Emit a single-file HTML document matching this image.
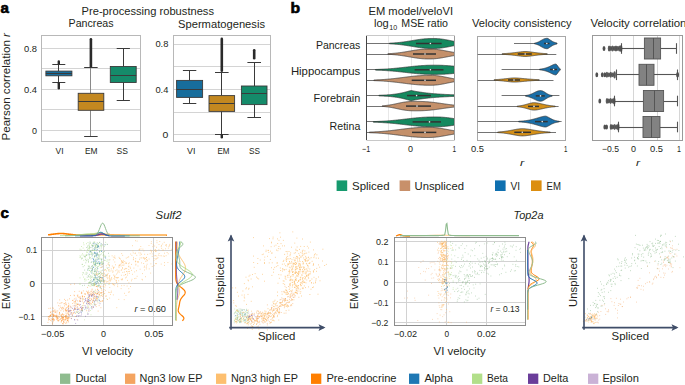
<!DOCTYPE html>
<html><head><meta charset="utf-8"><style>
html,body{margin:0;padding:0;background:#fff;width:685px;height:385px;overflow:hidden}
svg{display:block;font-family:"Liberation Sans",sans-serif}
</style></head><body>
<svg width="685" height="385" viewBox="0 0 685 385">
<defs><clipPath id="cb1"><rect x="366.4" y="35.9" width="88.3" height="104.1"/></clipPath></defs>
<rect width="685" height="385" fill="#fff"/>
<text x="0.5" y="12.9" font-size="14.5" textLength="8.4" lengthAdjust="spacingAndGlyphs" fill="#000" font-weight="bold" stroke="#000" stroke-width="0.6">a</text>
<text x="290.6" y="13" font-size="14.5" textLength="9.6" lengthAdjust="spacingAndGlyphs" fill="#000" font-weight="bold" stroke="#000" stroke-width="0.6">b</text>
<text x="0.5" y="217.7" font-size="14.5" textLength="8.4" lengthAdjust="spacingAndGlyphs" fill="#000" font-weight="bold" stroke="#000" stroke-width="0.6">c</text>
<text x="81.6" y="15" font-size="10.2" textLength="132.4" lengthAdjust="spacingAndGlyphs" fill="#231f20" >Pre-processing robustness</text>
<text x="68.6" y="27.4" font-size="10.2" textLength="45" lengthAdjust="spacingAndGlyphs" fill="#231f20" >Pancreas</text>
<text x="178" y="27.6" font-size="10.2" textLength="87" lengthAdjust="spacingAndGlyphs" fill="#231f20" >Spermatogenesis</text>
<text transform="translate(9.8,140.5) rotate(-90)" x="0" y="0" font-size="10.2" textLength="107.5" lengthAdjust="spacingAndGlyphs" fill="#231f20" >Pearson correlation <tspan font-style="italic">r</tspan></text>
<line x1="41.8" y1="48.5" x2="140.1" y2="48.5" stroke="#d4d4d4" stroke-width="1" />
<line x1="41.8" y1="68.5" x2="140.1" y2="68.5" stroke="#d4d4d4" stroke-width="1" />
<line x1="41.8" y1="89.5" x2="140.1" y2="89.5" stroke="#d4d4d4" stroke-width="1" />
<line x1="41.8" y1="109.5" x2="140.1" y2="109.5" stroke="#d4d4d4" stroke-width="1" />
<line x1="41.8" y1="130.5" x2="140.1" y2="130.5" stroke="#d4d4d4" stroke-width="1" />
<rect x="41.5" y="35.5" width="99" height="106" fill="none" stroke="#b8b8b8" stroke-width="1" />
<text x="24" y="51.5" font-size="9" textLength="13" lengthAdjust="spacingAndGlyphs" fill="#231f20" >0.8</text>
<text x="24" y="92.7" font-size="9" textLength="13" lengthAdjust="spacingAndGlyphs" fill="#231f20" >0.4</text>
<text x="32" y="133.9" font-size="9" textLength="5" lengthAdjust="spacingAndGlyphs" fill="#231f20" >0</text>
<line x1="58.5" y1="64.3" x2="58.5" y2="71.1" stroke="#3a3a3a" stroke-width="1" />
<line x1="58.5" y1="75.8" x2="58.5" y2="82.4" stroke="#3a3a3a" stroke-width="1" />
<line x1="52.3" y1="64.5" x2="65.3" y2="64.5" stroke="#3a3a3a" stroke-width="1" />
<line x1="52.3" y1="82.5" x2="65.3" y2="82.5" stroke="#3a3a3a" stroke-width="1" />
<rect x="45.9" y="71.1" width="26" height="4.7" fill="#176d9c" stroke="#3a3a3a" stroke-width="0.9" />
<line x1="45.9" y1="73.5" x2="71.9" y2="73.5" stroke="#3a3a3a" stroke-width="1" />
<rect x="57.6" y="60.2" width="2.4" height="4.3" fill="#2a2a2a" stroke="none" stroke-width="1" rx="1.2" ry="1.2"/>
<rect x="57.6" y="82" width="2.4" height="7.4" fill="#2a2a2a" stroke="none" stroke-width="1" rx="1.2" ry="1.2"/>
<line x1="90.5" y1="67.5" x2="90.5" y2="93.3" stroke="#8a8a8a" stroke-width="1" />
<line x1="90.5" y1="110.3" x2="90.5" y2="136.2" stroke="#8a8a8a" stroke-width="1" />
<line x1="84.15" y1="67.5" x2="97.65" y2="67.5" stroke="#3a3a3a" stroke-width="1" />
<line x1="84.15" y1="136.5" x2="97.65" y2="136.5" stroke="#3a3a3a" stroke-width="1" />
<rect x="78.2" y="93.3" width="25.6" height="17" fill="#c38820" stroke="#3a3a3a" stroke-width="0.9" />
<line x1="78.2" y1="101.5" x2="103.8" y2="101.5" stroke="#3a3a3a" stroke-width="1" />
<rect x="89.6" y="38" width="2.6" height="29.5" fill="#2a2a2a" stroke="none" stroke-width="1" rx="1.3" ry="1.3"/>
<line x1="123.5" y1="48.2" x2="123.5" y2="66.5" stroke="#3a3a3a" stroke-width="1" />
<line x1="123.5" y1="82.5" x2="123.5" y2="100.3" stroke="#3a3a3a" stroke-width="1" />
<line x1="116.7" y1="48.5" x2="129.9" y2="48.5" stroke="#3a3a3a" stroke-width="1" />
<line x1="116.7" y1="100.5" x2="129.9" y2="100.5" stroke="#3a3a3a" stroke-width="1" />
<rect x="110.3" y="66.5" width="25.9" height="16" fill="#158b6a" stroke="#3a3a3a" stroke-width="0.9" />
<line x1="110.3" y1="75.5" x2="136.2" y2="75.5" stroke="#3a3a3a" stroke-width="1" />
<text x="55.6" y="154" font-size="9" textLength="8" lengthAdjust="spacingAndGlyphs" fill="#231f20" >VI</text>
<text x="85" y="154" font-size="9" textLength="12.6" lengthAdjust="spacingAndGlyphs" fill="#231f20" >EM</text>
<text x="116.6" y="154" font-size="9" textLength="11.4" lengthAdjust="spacingAndGlyphs" fill="#231f20" >SS</text>
<text x="187" y="154" font-size="9" textLength="8.4" lengthAdjust="spacingAndGlyphs" fill="#231f20" >VI</text>
<text x="217.4" y="154" font-size="9" textLength="12" lengthAdjust="spacingAndGlyphs" fill="#231f20" >EM</text>
<text x="249" y="154" font-size="9" textLength="11" lengthAdjust="spacingAndGlyphs" fill="#231f20" >SS</text>
<line x1="173" y1="44.5" x2="270.6" y2="44.5" stroke="#d4d4d4" stroke-width="1" />
<line x1="173" y1="66.5" x2="270.6" y2="66.5" stroke="#d4d4d4" stroke-width="1" />
<line x1="173" y1="89.5" x2="270.6" y2="89.5" stroke="#d4d4d4" stroke-width="1" />
<line x1="173" y1="112.5" x2="270.6" y2="112.5" stroke="#d4d4d4" stroke-width="1" />
<line x1="173" y1="134.5" x2="270.6" y2="134.5" stroke="#d4d4d4" stroke-width="1" />
<rect x="173.5" y="35.5" width="97" height="106" fill="none" stroke="#b8b8b8" stroke-width="1" />
<text x="155.4" y="47.3" font-size="9" textLength="13" lengthAdjust="spacingAndGlyphs" fill="#231f20" >0.8</text>
<text x="155.4" y="92.7" font-size="9" textLength="13" lengthAdjust="spacingAndGlyphs" fill="#231f20" >0.4</text>
<text x="162.6" y="138.1" font-size="9" textLength="5.8" lengthAdjust="spacingAndGlyphs" fill="#231f20" >0</text>
<line x1="189.5" y1="70" x2="189.5" y2="80.4" stroke="#3a3a3a" stroke-width="1" />
<line x1="189.5" y1="97.4" x2="189.5" y2="103.2" stroke="#3a3a3a" stroke-width="1" />
<line x1="182.9" y1="70.5" x2="196.3" y2="70.5" stroke="#3a3a3a" stroke-width="1" />
<line x1="182.9" y1="103.5" x2="196.3" y2="103.5" stroke="#3a3a3a" stroke-width="1" />
<rect x="176.6" y="80.4" width="26" height="17" fill="#176d9c" stroke="#3a3a3a" stroke-width="0.9" />
<line x1="176.6" y1="89.5" x2="202.6" y2="89.5" stroke="#3a3a3a" stroke-width="1" />
<line x1="221.5" y1="72" x2="221.5" y2="95.6" stroke="#3a3a3a" stroke-width="1" />
<line x1="221.5" y1="111.4" x2="221.5" y2="134.4" stroke="#3a3a3a" stroke-width="1" />
<line x1="215" y1="72.5" x2="228.6" y2="72.5" stroke="#3a3a3a" stroke-width="1" />
<line x1="215" y1="134.5" x2="228.6" y2="134.5" stroke="#3a3a3a" stroke-width="1" />
<rect x="209" y="95.6" width="25.6" height="15.8" fill="#c38820" stroke="#3a3a3a" stroke-width="0.9" />
<line x1="209" y1="103.5" x2="234.6" y2="103.5" stroke="#3a3a3a" stroke-width="1" />
<rect x="220.5" y="37.6" width="2.6" height="34.4" fill="#2a2a2a" stroke="none" stroke-width="1" rx="1.3" ry="1.3"/>
<rect x="220.6" y="134" width="2.4" height="4.5" fill="#2a2a2a" stroke="none" stroke-width="1" rx="1.2" ry="1.2"/>
<line x1="254.5" y1="62" x2="254.5" y2="86" stroke="#3a3a3a" stroke-width="1" />
<line x1="254.5" y1="104.6" x2="254.5" y2="117.6" stroke="#3a3a3a" stroke-width="1" />
<line x1="247.4" y1="62.5" x2="261" y2="62.5" stroke="#3a3a3a" stroke-width="1" />
<line x1="247.4" y1="117.5" x2="261" y2="117.5" stroke="#3a3a3a" stroke-width="1" />
<rect x="241.4" y="86" width="25.6" height="18.6" fill="#158b6a" stroke="#3a3a3a" stroke-width="0.9" />
<line x1="241.4" y1="93.5" x2="267" y2="93.5" stroke="#3a3a3a" stroke-width="1" />
<rect x="252.9" y="49" width="2.6" height="10.5" fill="#2a2a2a" stroke="none" stroke-width="1" rx="1.3" ry="1.3"/>
<text x="368.5" y="14.6" font-size="10.2" textLength="84.5" lengthAdjust="spacingAndGlyphs" fill="#231f20" >EM model/veloVI</text>
<text x="374" y="27.2" font-size="10.2" textLength="14.8" lengthAdjust="spacingAndGlyphs" fill="#231f20" >log</text>
<text x="389.3" y="30.3" font-size="7" textLength="7.9" lengthAdjust="spacingAndGlyphs" fill="#231f20" >10</text>
<text x="401.3" y="27.2" font-size="10.2" textLength="46.7" lengthAdjust="spacingAndGlyphs" fill="#231f20" >MSE ratio</text>
<text x="472" y="27.4" font-size="10.2" textLength="99.6" lengthAdjust="spacingAndGlyphs" fill="#231f20" >Velocity consistency</text>
<text x="590.4" y="27.4" font-size="10.2" textLength="96.1" lengthAdjust="spacingAndGlyphs" fill="#231f20" >Velocity correlation</text>
<text x="315.9" y="49.1" font-size="10.5" textLength="44.4" lengthAdjust="spacingAndGlyphs" fill="#231f20" >Pancreas</text>
<text x="290.9" y="75.3" font-size="10.5" textLength="69.4" lengthAdjust="spacingAndGlyphs" fill="#231f20" >Hippocampus</text>
<text x="313.6" y="102.4" font-size="10.5" textLength="46.7" lengthAdjust="spacingAndGlyphs" fill="#231f20" >Forebrain</text>
<text x="329.6" y="129.6" font-size="10.5" textLength="30.7" lengthAdjust="spacingAndGlyphs" fill="#231f20" >Retina</text>
<line x1="388.5" y1="35.9" x2="388.5" y2="140" stroke="#e2e2e2" stroke-width="0.8" />
<line x1="411.5" y1="35.9" x2="411.5" y2="140" stroke="#e2e2e2" stroke-width="0.8" />
<line x1="433.5" y1="35.9" x2="433.5" y2="140" stroke="#e2e2e2" stroke-width="0.8" />
<g clip-path="url(#cb1)">
<line x1="366.4" y1="43.5" x2="454.7" y2="43.5" stroke="#505050" stroke-width="0.8" />
<polygon points="389.4,43.18 389.9,43.16 390.4,43.13 390.9,43.11 391.4,43.08 391.9,43.05 392.4,43.02 392.9,42.99 393.4,42.96 393.9,42.92 394.4,42.89 394.9,42.85 395.4,42.81 395.9,42.77 396.4,42.73 396.9,42.68 397.4,42.64 397.9,42.59 398.4,42.54 398.9,42.49 399.4,42.44 399.9,42.38 400.4,42.33 400.9,42.27 401.4,42.21 401.9,42.15 402.4,42.08 402.9,42.02 403.4,41.95 403.9,41.88 404.4,41.81 404.9,41.74 405.4,41.67 405.9,41.59 406.4,41.52 406.9,41.44 407.4,41.37 407.9,41.29 408.4,41.21 408.9,41.13 409.4,41.05 409.9,40.96 410.4,40.88 410.9,40.8 411.4,40.72 411.9,40.63 412.4,40.55 412.9,40.47 413.4,40.38 413.9,40.3 414.4,40.22 414.9,40.14 415.4,40.06 415.9,39.98 416.4,39.9 416.9,39.82 417.4,39.74 417.9,39.67 418.4,39.6 418.9,39.52 419.4,39.45 419.9,39.39 420.4,39.32 420.9,39.26 421.4,39.19 421.9,39.13 422.4,39.08 422.9,39.02 423.4,38.97 423.9,38.92 424.4,38.87 424.9,38.83 425.4,38.79 425.9,38.75 426.4,38.71 426.9,38.68 427.4,38.65 427.9,38.62 428.4,38.6 428.9,38.58 429.4,38.56 429.9,38.54 430.4,38.53 430.9,38.52 431.4,38.51 431.9,38.5 432.4,38.5 432.9,38.5 433.4,38.5 433.9,38.5 434.4,38.51 434.9,38.52 435.4,38.53 435.9,38.55 436.4,38.57 436.9,38.6 437.4,38.63 437.9,38.66 438.4,38.7 438.9,38.74 439.4,38.79 439.9,38.84 440.4,38.9 440.9,38.95 441.4,39.02 441.9,39.08 442.4,39.15 442.9,39.22 443.4,39.3 443.9,39.38 444.4,39.46 444.9,39.54 445.4,39.63 445.9,39.72 446.4,39.81 446.9,39.9 447.4,40 447.9,40.09 448.4,40.19 448.9,40.29 449.4,40.39 449.9,40.49 450.4,40.59 450.9,40.69 451.4,40.79 451.9,40.88 452.4,40.98 452.9,41.08 453.4,41.18 453.9,41.27 454.4,41.37 454.4,45.63 453.9,45.73 453.4,45.82 452.9,45.92 452.4,46.02 451.9,46.12 451.4,46.21 450.9,46.31 450.4,46.41 449.9,46.51 449.4,46.61 448.9,46.71 448.4,46.81 447.9,46.91 447.4,47 446.9,47.1 446.4,47.19 445.9,47.28 445.4,47.37 444.9,47.46 444.4,47.54 443.9,47.62 443.4,47.7 442.9,47.78 442.4,47.85 441.9,47.92 441.4,47.98 440.9,48.05 440.4,48.1 439.9,48.16 439.4,48.21 438.9,48.26 438.4,48.3 437.9,48.34 437.4,48.37 436.9,48.4 436.4,48.43 435.9,48.45 435.4,48.47 434.9,48.48 434.4,48.49 433.9,48.5 433.4,48.5 432.9,48.5 432.4,48.5 431.9,48.5 431.4,48.49 430.9,48.48 430.4,48.47 429.9,48.46 429.4,48.44 428.9,48.42 428.4,48.4 427.9,48.38 427.4,48.35 426.9,48.32 426.4,48.29 425.9,48.25 425.4,48.21 424.9,48.17 424.4,48.13 423.9,48.08 423.4,48.03 422.9,47.98 422.4,47.92 421.9,47.87 421.4,47.81 420.9,47.74 420.4,47.68 419.9,47.61 419.4,47.55 418.9,47.48 418.4,47.4 417.9,47.33 417.4,47.26 416.9,47.18 416.4,47.1 415.9,47.02 415.4,46.94 414.9,46.86 414.4,46.78 413.9,46.7 413.4,46.62 412.9,46.53 412.4,46.45 411.9,46.37 411.4,46.28 410.9,46.2 410.4,46.12 409.9,46.04 409.4,45.95 408.9,45.87 408.4,45.79 407.9,45.71 407.4,45.63 406.9,45.56 406.4,45.48 405.9,45.41 405.4,45.33 404.9,45.26 404.4,45.19 403.9,45.12 403.4,45.05 402.9,44.98 402.4,44.92 401.9,44.85 401.4,44.79 400.9,44.73 400.4,44.67 399.9,44.62 399.4,44.56 398.9,44.51 398.4,44.46 397.9,44.41 397.4,44.36 396.9,44.32 396.4,44.27 395.9,44.23 395.4,44.19 394.9,44.15 394.4,44.11 393.9,44.08 393.4,44.04 392.9,44.01 392.4,43.98 391.9,43.95 391.4,43.92 390.9,43.89 390.4,43.87 389.9,43.84 389.4,43.82" fill="#15895f" stroke="#333333" stroke-width="0.7" stroke-linejoin="round"/>
<rect x="416" y="42.75" width="25.6" height="1.5" fill="#333333" stroke="none" stroke-width="1" />
<circle cx="430.4" cy="43.5" r="0.8" fill="#eeeeee"/>
<line x1="366.4" y1="54.5" x2="454.7" y2="54.5" stroke="#505050" stroke-width="0.8" />
<polygon points="387.9,53.7 388.4,53.67 388.9,53.65 389.4,53.62 389.9,53.6 390.4,53.57 390.9,53.54 391.4,53.5 391.9,53.47 392.4,53.43 392.9,53.39 393.4,53.35 393.9,53.31 394.4,53.27 394.9,53.22 395.4,53.18 395.9,53.13 396.4,53.08 396.9,53.02 397.4,52.97 397.9,52.91 398.4,52.85 398.9,52.79 399.4,52.73 399.9,52.66 400.4,52.59 400.9,52.52 401.4,52.45 401.9,52.38 402.4,52.31 402.9,52.23 403.4,52.15 403.9,52.07 404.4,51.99 404.9,51.91 405.4,51.83 405.9,51.75 406.4,51.66 406.9,51.58 407.4,51.49 407.9,51.4 408.4,51.31 408.9,51.23 409.4,51.14 409.9,51.05 410.4,50.96 410.9,50.88 411.4,50.79 411.9,50.7 412.4,50.62 412.9,50.53 413.4,50.45 413.9,50.36 414.4,50.28 414.9,50.2 415.4,50.13 415.9,50.05 416.4,49.98 416.9,49.91 417.4,49.84 417.9,49.77 418.4,49.7 418.9,49.64 419.4,49.58 419.9,49.53 420.4,49.47 420.9,49.42 421.4,49.38 421.9,49.33 422.4,49.29 422.9,49.25 423.4,49.22 423.9,49.19 424.4,49.16 424.9,49.14 425.4,49.11 425.9,49.1 426.4,49.08 426.9,49.07 427.4,49.06 427.9,49.05 428.4,49.05 428.9,49.05 429.4,49.05 429.9,49.05 430.4,49.06 430.9,49.07 431.4,49.08 431.9,49.1 432.4,49.12 432.9,49.14 433.4,49.17 433.9,49.2 434.4,49.24 434.9,49.28 435.4,49.32 435.9,49.37 436.4,49.42 436.9,49.47 437.4,49.53 437.9,49.59 438.4,49.66 438.9,49.72 439.4,49.8 439.9,49.87 440.4,49.95 440.9,50.03 441.4,50.11 441.9,50.19 442.4,50.28 442.9,50.37 443.4,50.46 443.9,50.55 444.4,50.64 444.9,50.73 445.4,50.83 445.9,50.92 446.4,51.02 446.9,51.11 447.4,51.21 447.9,51.3 448.4,51.4 448.9,51.49 449.4,51.59 449.9,51.68 450.4,51.77 450.9,51.86 451.4,51.95 451.9,52.04 452.4,52.13 452.9,52.21 453.4,52.29 453.9,52.38 454.4,52.45 454.4,55.55 453.9,55.62 453.4,55.71 452.9,55.79 452.4,55.87 451.9,55.96 451.4,56.05 450.9,56.14 450.4,56.23 449.9,56.32 449.4,56.41 448.9,56.51 448.4,56.6 447.9,56.7 447.4,56.79 446.9,56.89 446.4,56.98 445.9,57.08 445.4,57.17 444.9,57.27 444.4,57.36 443.9,57.45 443.4,57.54 442.9,57.63 442.4,57.72 441.9,57.81 441.4,57.89 440.9,57.97 440.4,58.05 439.9,58.13 439.4,58.2 438.9,58.28 438.4,58.34 437.9,58.41 437.4,58.47 436.9,58.53 436.4,58.58 435.9,58.63 435.4,58.68 434.9,58.72 434.4,58.76 433.9,58.8 433.4,58.83 432.9,58.86 432.4,58.88 431.9,58.9 431.4,58.92 430.9,58.93 430.4,58.94 429.9,58.95 429.4,58.95 428.9,58.95 428.4,58.95 427.9,58.95 427.4,58.94 426.9,58.93 426.4,58.92 425.9,58.9 425.4,58.89 424.9,58.86 424.4,58.84 423.9,58.81 423.4,58.78 422.9,58.75 422.4,58.71 421.9,58.67 421.4,58.62 420.9,58.58 420.4,58.53 419.9,58.47 419.4,58.42 418.9,58.36 418.4,58.3 417.9,58.23 417.4,58.16 416.9,58.09 416.4,58.02 415.9,57.95 415.4,57.87 414.9,57.8 414.4,57.72 413.9,57.64 413.4,57.55 412.9,57.47 412.4,57.38 411.9,57.3 411.4,57.21 410.9,57.12 410.4,57.04 409.9,56.95 409.4,56.86 408.9,56.77 408.4,56.69 407.9,56.6 407.4,56.51 406.9,56.42 406.4,56.34 405.9,56.25 405.4,56.17 404.9,56.09 404.4,56.01 403.9,55.93 403.4,55.85 402.9,55.77 402.4,55.69 401.9,55.62 401.4,55.55 400.9,55.48 400.4,55.41 399.9,55.34 399.4,55.27 398.9,55.21 398.4,55.15 397.9,55.09 397.4,55.03 396.9,54.98 396.4,54.92 395.9,54.87 395.4,54.82 394.9,54.78 394.4,54.73 393.9,54.69 393.4,54.65 392.9,54.61 392.4,54.57 391.9,54.53 391.4,54.5 390.9,54.46 390.4,54.43 389.9,54.4 389.4,54.38 388.9,54.35 388.4,54.33 387.9,54.3" fill="#c4906a" stroke="#333333" stroke-width="0.7" stroke-linejoin="round"/>
<rect x="413" y="53.25" width="23" height="1.5" fill="#333333" stroke="none" stroke-width="1" />
<circle cx="425" cy="54" r="0.8" fill="#eeeeee"/>
<line x1="366.4" y1="69.5" x2="454.7" y2="69.5" stroke="#505050" stroke-width="0.8" />
<polygon points="375.4,69.5 375.9,69.48 376.4,69.46 376.9,69.45 377.4,69.43 377.9,69.41 378.4,69.39 378.9,69.37 379.4,69.35 379.9,69.33 380.4,69.31 380.9,69.28 381.4,69.26 381.9,69.24 382.4,69.21 382.9,69.18 383.4,69.16 383.9,69.13 384.4,69.1 384.9,69.07 385.4,69.04 385.9,69.01 386.4,68.98 386.9,68.95 387.4,68.91 387.9,68.88 388.4,68.84 388.9,68.8 389.4,68.77 389.9,68.73 390.4,68.69 390.9,68.65 391.4,68.61 391.9,68.57 392.4,68.53 392.9,68.48 393.4,68.44 393.9,68.39 394.4,68.35 394.9,68.3 395.4,68.25 395.9,68.2 396.4,68.16 396.9,68.11 397.4,68.06 397.9,68.01 398.4,67.95 398.9,67.9 399.4,67.85 399.9,67.8 400.4,67.74 400.9,67.69 401.4,67.64 401.9,67.58 402.4,67.53 402.9,67.47 403.4,67.41 403.9,67.36 404.4,67.3 404.9,67.25 405.4,67.19 405.9,67.13 406.4,67.08 406.9,67.02 407.4,66.97 407.9,66.91 408.4,66.85 408.9,66.8 409.4,66.74 409.9,66.69 410.4,66.63 410.9,66.58 411.4,66.52 411.9,66.47 412.4,66.42 412.9,66.37 413.4,66.32 413.9,66.27 414.4,66.22 414.9,66.17 415.4,66.12 415.9,66.07 416.4,66.02 416.9,65.98 417.4,65.93 417.9,65.89 418.4,65.85 418.9,65.81 419.4,65.77 419.9,65.73 420.4,65.69 420.9,65.66 421.4,65.62 421.9,65.59 422.4,65.56 422.9,65.52 423.4,65.5 423.9,65.47 424.4,65.44 424.9,65.42 425.4,65.39 425.9,65.37 426.4,65.35 426.9,65.33 427.4,65.31 427.9,65.29 428.4,65.28 428.9,65.26 429.4,65.25 429.9,65.24 430.4,65.23 430.9,65.22 431.4,65.22 431.9,65.21 432.4,65.21 432.9,65.2 433.4,65.2 433.9,65.2 434.4,65.2 434.9,65.2 435.4,65.2 435.9,65.2 436.4,65.21 436.9,65.21 437.4,65.22 437.9,65.23 438.4,65.23 438.9,65.24 439.4,65.26 439.9,65.27 440.4,65.28 440.9,65.3 441.4,65.31 441.9,65.33 442.4,65.35 442.9,65.37 443.4,65.39 443.9,65.42 444.4,65.44 444.9,65.47 445.4,65.5 445.9,65.53 446.4,65.56 446.9,65.59 447.4,65.62 447.9,65.66 448.4,65.69 448.9,65.73 449.4,65.77 449.9,65.81 450.4,65.85 450.9,65.89 451.4,65.93 451.9,65.97 452.4,66.02 452.9,66.06 453.4,66.11 453.9,66.16 454.4,66.21 454.4,73.39 453.9,73.44 453.4,73.49 452.9,73.54 452.4,73.58 451.9,73.63 451.4,73.67 450.9,73.71 450.4,73.75 449.9,73.79 449.4,73.83 448.9,73.87 448.4,73.91 447.9,73.94 447.4,73.98 446.9,74.01 446.4,74.04 445.9,74.07 445.4,74.1 444.9,74.13 444.4,74.16 443.9,74.18 443.4,74.21 442.9,74.23 442.4,74.25 441.9,74.27 441.4,74.29 440.9,74.3 440.4,74.32 439.9,74.33 439.4,74.34 438.9,74.36 438.4,74.37 437.9,74.37 437.4,74.38 436.9,74.39 436.4,74.39 435.9,74.4 435.4,74.4 434.9,74.4 434.4,74.4 433.9,74.4 433.4,74.4 432.9,74.4 432.4,74.39 431.9,74.39 431.4,74.38 430.9,74.38 430.4,74.37 429.9,74.36 429.4,74.35 428.9,74.34 428.4,74.32 427.9,74.31 427.4,74.29 426.9,74.27 426.4,74.25 425.9,74.23 425.4,74.21 424.9,74.18 424.4,74.16 423.9,74.13 423.4,74.1 422.9,74.08 422.4,74.04 421.9,74.01 421.4,73.98 420.9,73.94 420.4,73.91 419.9,73.87 419.4,73.83 418.9,73.79 418.4,73.75 417.9,73.71 417.4,73.67 416.9,73.62 416.4,73.58 415.9,73.53 415.4,73.48 414.9,73.43 414.4,73.38 413.9,73.33 413.4,73.28 412.9,73.23 412.4,73.18 411.9,73.13 411.4,73.08 410.9,73.02 410.4,72.97 409.9,72.91 409.4,72.86 408.9,72.8 408.4,72.75 407.9,72.69 407.4,72.63 406.9,72.58 406.4,72.52 405.9,72.47 405.4,72.41 404.9,72.35 404.4,72.3 403.9,72.24 403.4,72.19 402.9,72.13 402.4,72.07 401.9,72.02 401.4,71.96 400.9,71.91 400.4,71.86 399.9,71.8 399.4,71.75 398.9,71.7 398.4,71.65 397.9,71.59 397.4,71.54 396.9,71.49 396.4,71.44 395.9,71.4 395.4,71.35 394.9,71.3 394.4,71.25 393.9,71.21 393.4,71.16 392.9,71.12 392.4,71.07 391.9,71.03 391.4,70.99 390.9,70.95 390.4,70.91 389.9,70.87 389.4,70.83 388.9,70.8 388.4,70.76 387.9,70.72 387.4,70.69 386.9,70.65 386.4,70.62 385.9,70.59 385.4,70.56 384.9,70.53 384.4,70.5 383.9,70.47 383.4,70.44 382.9,70.42 382.4,70.39 381.9,70.36 381.4,70.34 380.9,70.32 380.4,70.29 379.9,70.27 379.4,70.25 378.9,70.23 378.4,70.21 377.9,70.19 377.4,70.17 376.9,70.15 376.4,70.14 375.9,70.12 375.4,70.1" fill="#15895f" stroke="#333333" stroke-width="0.7" stroke-linejoin="round"/>
<rect x="414.6" y="69.05" width="28.9" height="1.5" fill="#333333" stroke="none" stroke-width="1" />
<circle cx="430.4" cy="69.8" r="0.8" fill="#eeeeee"/>
<line x1="366.4" y1="80.5" x2="454.7" y2="80.5" stroke="#505050" stroke-width="0.8" />
<polygon points="373.9,79.99 374.4,79.97 374.9,79.95 375.4,79.93 375.9,79.91 376.4,79.89 376.9,79.87 377.4,79.85 377.9,79.83 378.4,79.8 378.9,79.78 379.4,79.75 379.9,79.73 380.4,79.7 380.9,79.67 381.4,79.64 381.9,79.61 382.4,79.58 382.9,79.55 383.4,79.51 383.9,79.48 384.4,79.44 384.9,79.41 385.4,79.37 385.9,79.33 386.4,79.29 386.9,79.25 387.4,79.21 387.9,79.17 388.4,79.12 388.9,79.08 389.4,79.03 389.9,78.99 390.4,78.94 390.9,78.89 391.4,78.84 391.9,78.79 392.4,78.74 392.9,78.68 393.4,78.63 393.9,78.58 394.4,78.52 394.9,78.46 395.4,78.41 395.9,78.35 396.4,78.29 396.9,78.23 397.4,78.17 397.9,78.11 398.4,78.05 398.9,77.99 399.4,77.93 399.9,77.87 400.4,77.8 400.9,77.74 401.4,77.68 401.9,77.62 402.4,77.55 402.9,77.49 403.4,77.42 403.9,77.36 404.4,77.3 404.9,77.23 405.4,77.17 405.9,77.11 406.4,77.05 406.9,76.98 407.4,76.92 407.9,76.86 408.4,76.8 408.9,76.74 409.4,76.68 409.9,76.62 410.4,76.56 410.9,76.5 411.4,76.45 411.9,76.39 412.4,76.34 412.9,76.28 413.4,76.23 413.9,76.18 414.4,76.13 414.9,76.08 415.4,76.04 415.9,75.99 416.4,75.95 416.9,75.9 417.4,75.86 417.9,75.82 418.4,75.78 418.9,75.74 419.4,75.71 419.9,75.68 420.4,75.64 420.9,75.61 421.4,75.58 421.9,75.56 422.4,75.53 422.9,75.51 423.4,75.49 423.9,75.47 424.4,75.45 424.9,75.43 425.4,75.42 425.9,75.4 426.4,75.39 426.9,75.38 427.4,75.37 427.9,75.36 428.4,75.36 428.9,75.35 429.4,75.35 429.9,75.35 430.4,75.35 430.9,75.35 431.4,75.36 431.9,75.36 432.4,75.38 432.9,75.39 433.4,75.41 433.9,75.44 434.4,75.47 434.9,75.5 435.4,75.54 435.9,75.58 436.4,75.63 436.9,75.68 437.4,75.74 437.9,75.8 438.4,75.86 438.9,75.93 439.4,76 439.9,76.08 440.4,76.16 440.9,76.24 441.4,76.32 441.9,76.41 442.4,76.5 442.9,76.6 443.4,76.69 443.9,76.79 444.4,76.89 444.9,76.99 445.4,77.09 445.9,77.19 446.4,77.3 446.9,77.4 447.4,77.5 447.9,77.61 448.4,77.71 448.9,77.81 449.4,77.91 449.9,78.01 450.4,78.11 450.9,78.21 451.4,78.31 451.9,78.4 452.4,78.49 452.9,78.58 453.4,78.67 453.9,78.76 454.4,78.84 454.4,81.76 453.9,81.84 453.4,81.93 452.9,82.02 452.4,82.11 451.9,82.2 451.4,82.29 450.9,82.39 450.4,82.49 449.9,82.59 449.4,82.69 448.9,82.79 448.4,82.89 447.9,82.99 447.4,83.1 446.9,83.2 446.4,83.3 445.9,83.41 445.4,83.51 444.9,83.61 444.4,83.71 443.9,83.81 443.4,83.91 442.9,84 442.4,84.1 441.9,84.19 441.4,84.28 440.9,84.36 440.4,84.44 439.9,84.52 439.4,84.6 438.9,84.67 438.4,84.74 437.9,84.8 437.4,84.86 436.9,84.92 436.4,84.97 435.9,85.02 435.4,85.06 434.9,85.1 434.4,85.13 433.9,85.16 433.4,85.19 432.9,85.21 432.4,85.22 431.9,85.24 431.4,85.24 430.9,85.25 430.4,85.25 429.9,85.25 429.4,85.25 428.9,85.25 428.4,85.24 427.9,85.24 427.4,85.23 426.9,85.22 426.4,85.21 425.9,85.2 425.4,85.18 424.9,85.17 424.4,85.15 423.9,85.13 423.4,85.11 422.9,85.09 422.4,85.07 421.9,85.04 421.4,85.02 420.9,84.99 420.4,84.96 419.9,84.92 419.4,84.89 418.9,84.86 418.4,84.82 417.9,84.78 417.4,84.74 416.9,84.7 416.4,84.65 415.9,84.61 415.4,84.56 414.9,84.52 414.4,84.47 413.9,84.42 413.4,84.37 412.9,84.32 412.4,84.26 411.9,84.21 411.4,84.15 410.9,84.1 410.4,84.04 409.9,83.98 409.4,83.92 408.9,83.86 408.4,83.8 407.9,83.74 407.4,83.68 406.9,83.62 406.4,83.55 405.9,83.49 405.4,83.43 404.9,83.37 404.4,83.3 403.9,83.24 403.4,83.18 402.9,83.11 402.4,83.05 401.9,82.98 401.4,82.92 400.9,82.86 400.4,82.8 399.9,82.73 399.4,82.67 398.9,82.61 398.4,82.55 397.9,82.49 397.4,82.43 396.9,82.37 396.4,82.31 395.9,82.25 395.4,82.19 394.9,82.14 394.4,82.08 393.9,82.02 393.4,81.97 392.9,81.92 392.4,81.86 391.9,81.81 391.4,81.76 390.9,81.71 390.4,81.66 389.9,81.61 389.4,81.57 388.9,81.52 388.4,81.48 387.9,81.43 387.4,81.39 386.9,81.35 386.4,81.31 385.9,81.27 385.4,81.23 384.9,81.19 384.4,81.16 383.9,81.12 383.4,81.09 382.9,81.05 382.4,81.02 381.9,80.99 381.4,80.96 380.9,80.93 380.4,80.9 379.9,80.87 379.4,80.85 378.9,80.82 378.4,80.8 377.9,80.77 377.4,80.75 376.9,80.73 376.4,80.71 375.9,80.69 375.4,80.67 374.9,80.65 374.4,80.63 373.9,80.61" fill="#c4906a" stroke="#333333" stroke-width="0.7" stroke-linejoin="round"/>
<rect x="411.7" y="79.55" width="24.3" height="1.5" fill="#333333" stroke="none" stroke-width="1" />
<circle cx="425" cy="80.3" r="0.8" fill="#eeeeee"/>
<line x1="366.4" y1="95.5" x2="454.7" y2="95.5" stroke="#505050" stroke-width="0.8" />
<polygon points="378.9,95.29 379.4,95.27 379.9,95.26 380.4,95.24 380.9,95.22 381.4,95.2 381.9,95.18 382.4,95.16 382.9,95.13 383.4,95.11 383.9,95.09 384.4,95.06 384.9,95.03 385.4,95 385.9,94.97 386.4,94.94 386.9,94.91 387.4,94.87 387.9,94.84 388.4,94.8 388.9,94.76 389.4,94.72 389.9,94.67 390.4,94.63 390.9,94.58 391.4,94.53 391.9,94.48 392.4,94.43 392.9,94.37 393.4,94.31 393.9,94.25 394.4,94.19 394.9,94.12 395.4,94.05 395.9,93.98 396.4,93.91 396.9,93.83 397.4,93.75 397.9,93.67 398.4,93.59 398.9,93.5 399.4,93.4 399.9,93.31 400.4,93.21 400.9,93.11 401.4,93.01 401.9,92.9 402.4,92.79 402.9,92.67 403.4,92.55 403.9,92.43 404.4,92.31 404.9,92.18 405.4,92.05 405.9,91.92 406.4,91.79 406.9,91.65 407.4,91.51 407.9,91.37 408.4,91.23 408.9,91.09 409.4,90.95 409.9,90.82 410.4,90.69 410.9,90.57 411.4,90.52 411.9,90.63 412.4,90.74 412.9,90.84 413.4,90.94 413.9,91.04 414.4,91.14 414.9,91.23 415.4,91.33 415.9,91.42 416.4,91.51 416.9,91.59 417.4,91.68 417.9,91.76 418.4,91.84 418.9,91.92 419.4,92 419.9,92.08 420.4,92.15 420.9,92.23 421.4,92.3 421.9,92.37 422.4,92.44 422.9,92.51 423.4,92.57 423.9,92.64 424.4,92.7 424.9,92.76 425.4,92.82 425.9,92.88 426.4,92.94 426.9,93 427.4,93.05 427.9,93.11 428.4,93.16 428.9,93.21 429.4,93.26 429.9,93.31 430.4,93.36 430.9,93.41 431.4,93.46 431.9,93.5 432.4,93.55 432.9,93.59 433.4,93.63 433.9,93.67 434.4,93.72 434.9,93.76 435.4,93.8 435.9,93.83 436.4,93.87 436.9,93.91 437.4,93.94 437.9,93.98 438.4,94.01 438.9,94.05 439.4,94.08 439.9,94.11 440.4,94.15 440.9,94.18 441.4,94.21 441.9,94.24 442.4,94.27 442.9,94.29 443.4,94.32 443.9,94.35 444.4,94.38 444.9,94.4 445.4,94.43 445.9,94.45 446.4,94.48 446.9,94.5 447.4,94.52 447.9,94.55 448.4,94.57 448.9,94.59 449.4,94.61 449.9,94.63 450.4,94.65 450.9,94.67 451.4,94.69 451.9,94.71 452.4,94.73 452.9,94.75 453.4,94.77 453.9,94.79 454.4,94.8 454.4,96.4 453.9,96.41 453.4,96.43 452.9,96.45 452.4,96.47 451.9,96.49 451.4,96.51 450.9,96.53 450.4,96.55 449.9,96.57 449.4,96.59 448.9,96.61 448.4,96.63 447.9,96.65 447.4,96.68 446.9,96.7 446.4,96.72 445.9,96.75 445.4,96.77 444.9,96.8 444.4,96.82 443.9,96.85 443.4,96.88 442.9,96.91 442.4,96.93 441.9,96.96 441.4,96.99 440.9,97.02 440.4,97.05 439.9,97.09 439.4,97.12 438.9,97.15 438.4,97.19 437.9,97.22 437.4,97.26 436.9,97.29 436.4,97.33 435.9,97.37 435.4,97.4 434.9,97.44 434.4,97.48 433.9,97.53 433.4,97.57 432.9,97.61 432.4,97.65 431.9,97.7 431.4,97.74 430.9,97.79 430.4,97.84 429.9,97.89 429.4,97.94 428.9,97.99 428.4,98.04 427.9,98.09 427.4,98.15 426.9,98.2 426.4,98.26 425.9,98.32 425.4,98.38 424.9,98.44 424.4,98.5 423.9,98.56 423.4,98.63 422.9,98.69 422.4,98.76 421.9,98.83 421.4,98.9 420.9,98.97 420.4,99.05 419.9,99.12 419.4,99.2 418.9,99.28 418.4,99.36 417.9,99.44 417.4,99.52 416.9,99.61 416.4,99.69 415.9,99.78 415.4,99.87 414.9,99.97 414.4,100.06 413.9,100.16 413.4,100.26 412.9,100.36 412.4,100.46 411.9,100.57 411.4,100.68 410.9,100.63 410.4,100.51 409.9,100.38 409.4,100.25 408.9,100.11 408.4,99.97 407.9,99.83 407.4,99.69 406.9,99.55 406.4,99.41 405.9,99.28 405.4,99.15 404.9,99.02 404.4,98.89 403.9,98.77 403.4,98.65 402.9,98.53 402.4,98.41 401.9,98.3 401.4,98.19 400.9,98.09 400.4,97.99 399.9,97.89 399.4,97.8 398.9,97.7 398.4,97.61 397.9,97.53 397.4,97.45 396.9,97.37 396.4,97.29 395.9,97.22 395.4,97.15 394.9,97.08 394.4,97.01 393.9,96.95 393.4,96.89 392.9,96.83 392.4,96.77 391.9,96.72 391.4,96.67 390.9,96.62 390.4,96.57 389.9,96.53 389.4,96.48 388.9,96.44 388.4,96.4 387.9,96.36 387.4,96.33 386.9,96.29 386.4,96.26 385.9,96.23 385.4,96.2 384.9,96.17 384.4,96.14 383.9,96.11 383.4,96.09 382.9,96.07 382.4,96.04 381.9,96.02 381.4,96 380.9,95.98 380.4,95.96 379.9,95.94 379.4,95.93 378.9,95.91" fill="#15895f" stroke="#333333" stroke-width="0.7" stroke-linejoin="round"/>
<rect x="407" y="94.85" width="24" height="1.5" fill="#333333" stroke="none" stroke-width="1" />
<circle cx="416.6" cy="95.6" r="0.8" fill="#eeeeee"/>
<line x1="366.4" y1="106.5" x2="454.7" y2="106.5" stroke="#505050" stroke-width="0.8" />
<polygon points="382.4,105.78 382.9,105.75 383.4,105.71 383.9,105.67 384.4,105.63 384.9,105.59 385.4,105.54 385.9,105.49 386.4,105.43 386.9,105.37 387.4,105.31 387.9,105.24 388.4,105.17 388.9,105.1 389.4,105.03 389.9,104.95 390.4,104.87 390.9,104.78 391.4,104.69 391.9,104.6 392.4,104.51 392.9,104.41 393.4,104.31 393.9,104.21 394.4,104.11 394.9,104 395.4,103.9 395.9,103.79 396.4,103.68 396.9,103.57 397.4,103.47 397.9,103.36 398.4,103.25 398.9,103.14 399.4,103.04 399.9,102.93 400.4,102.83 400.9,102.73 401.4,102.63 401.9,102.54 402.4,102.44 402.9,102.35 403.4,102.27 403.9,102.19 404.4,102.11 404.9,102.03 405.4,101.96 405.9,101.89 406.4,101.83 406.9,101.78 407.4,101.72 407.9,101.67 408.4,101.63 408.9,101.59 409.4,101.55 409.9,101.52 410.4,101.49 410.9,101.47 411.4,101.45 411.9,101.44 412.4,101.42 412.9,101.41 413.4,101.41 413.9,101.4 414.4,101.4 414.9,101.4 415.4,101.4 415.9,101.4 416.4,101.4 416.9,101.4 417.4,101.41 417.9,101.41 418.4,101.42 418.9,101.42 419.4,101.43 419.9,101.44 420.4,101.45 420.9,101.46 421.4,101.48 421.9,101.49 422.4,101.51 422.9,101.53 423.4,101.55 423.9,101.58 424.4,101.6 424.9,101.63 425.4,101.66 425.9,101.69 426.4,101.72 426.9,101.76 427.4,101.79 427.9,101.83 428.4,101.87 428.9,101.92 429.4,101.96 429.9,102.01 430.4,102.06 430.9,102.11 431.4,102.16 431.9,102.21 432.4,102.27 432.9,102.32 433.4,102.38 433.9,102.44 434.4,102.5 434.9,102.57 435.4,102.63 435.9,102.7 436.4,102.76 436.9,102.83 437.4,102.9 437.9,102.97 438.4,103.04 438.9,103.11 439.4,103.18 439.9,103.25 440.4,103.32 440.9,103.39 441.4,103.47 441.9,103.54 442.4,103.61 442.9,103.68 443.4,103.75 443.9,103.83 444.4,103.9 444.9,103.97 445.4,104.04 445.9,104.11 446.4,104.18 446.9,104.24 447.4,104.31 447.9,104.38 448.4,104.44 448.9,104.51 449.4,104.57 449.9,104.63 450.4,104.69 450.9,104.75 451.4,104.81 451.9,104.87 452.4,104.92 452.9,104.97 453.4,105.03 453.9,105.08 454.4,105.13 454.4,107.07 453.9,107.12 453.4,107.17 452.9,107.23 452.4,107.28 451.9,107.33 451.4,107.39 450.9,107.45 450.4,107.51 449.9,107.57 449.4,107.63 448.9,107.69 448.4,107.76 447.9,107.82 447.4,107.89 446.9,107.96 446.4,108.02 445.9,108.09 445.4,108.16 444.9,108.23 444.4,108.3 443.9,108.37 443.4,108.45 442.9,108.52 442.4,108.59 441.9,108.66 441.4,108.73 440.9,108.81 440.4,108.88 439.9,108.95 439.4,109.02 438.9,109.09 438.4,109.16 437.9,109.23 437.4,109.3 436.9,109.37 436.4,109.44 435.9,109.5 435.4,109.57 434.9,109.63 434.4,109.7 433.9,109.76 433.4,109.82 432.9,109.88 432.4,109.93 431.9,109.99 431.4,110.04 430.9,110.09 430.4,110.14 429.9,110.19 429.4,110.24 428.9,110.28 428.4,110.33 427.9,110.37 427.4,110.41 426.9,110.44 426.4,110.48 425.9,110.51 425.4,110.54 424.9,110.57 424.4,110.6 423.9,110.62 423.4,110.65 422.9,110.67 422.4,110.69 421.9,110.71 421.4,110.72 420.9,110.74 420.4,110.75 419.9,110.76 419.4,110.77 418.9,110.78 418.4,110.78 417.9,110.79 417.4,110.79 416.9,110.8 416.4,110.8 415.9,110.8 415.4,110.8 414.9,110.8 414.4,110.8 413.9,110.8 413.4,110.79 412.9,110.79 412.4,110.78 411.9,110.76 411.4,110.75 410.9,110.73 410.4,110.71 409.9,110.68 409.4,110.65 408.9,110.61 408.4,110.57 407.9,110.53 407.4,110.48 406.9,110.42 406.4,110.37 405.9,110.31 405.4,110.24 404.9,110.17 404.4,110.09 403.9,110.01 403.4,109.93 402.9,109.85 402.4,109.76 401.9,109.66 401.4,109.57 400.9,109.47 400.4,109.37 399.9,109.27 399.4,109.16 398.9,109.06 398.4,108.95 397.9,108.84 397.4,108.73 396.9,108.63 396.4,108.52 395.9,108.41 395.4,108.3 394.9,108.2 394.4,108.09 393.9,107.99 393.4,107.89 392.9,107.79 392.4,107.69 391.9,107.6 391.4,107.51 390.9,107.42 390.4,107.33 389.9,107.25 389.4,107.17 388.9,107.1 388.4,107.03 387.9,106.96 387.4,106.89 386.9,106.83 386.4,106.77 385.9,106.71 385.4,106.66 384.9,106.61 384.4,106.57 383.9,106.53 383.4,106.49 382.9,106.45 382.4,106.42" fill="#c4906a" stroke="#333333" stroke-width="0.7" stroke-linejoin="round"/>
<rect x="406" y="105.35" width="25" height="1.5" fill="#333333" stroke="none" stroke-width="1" />
<circle cx="417" cy="106.1" r="0.8" fill="#eeeeee"/>
<line x1="366.4" y1="121.5" x2="454.7" y2="121.5" stroke="#505050" stroke-width="0.8" />
<polygon points="373.4,121.6 373.9,121.58 374.4,121.56 374.9,121.55 375.4,121.53 375.9,121.51 376.4,121.49 376.9,121.47 377.4,121.45 377.9,121.43 378.4,121.41 378.9,121.39 379.4,121.37 379.9,121.34 380.4,121.32 380.9,121.29 381.4,121.27 381.9,121.24 382.4,121.21 382.9,121.18 383.4,121.15 383.9,121.12 384.4,121.09 384.9,121.06 385.4,121.02 385.9,120.99 386.4,120.95 386.9,120.92 387.4,120.88 387.9,120.84 388.4,120.81 388.9,120.77 389.4,120.73 389.9,120.69 390.4,120.64 390.9,120.6 391.4,120.56 391.9,120.51 392.4,120.47 392.9,120.42 393.4,120.37 393.9,120.33 394.4,120.28 394.9,120.23 395.4,120.18 395.9,120.13 396.4,120.07 396.9,120.02 397.4,119.97 397.9,119.92 398.4,119.86 398.9,119.81 399.4,119.75 399.9,119.7 400.4,119.64 400.9,119.58 401.4,119.53 401.9,119.47 402.4,119.41 402.9,119.35 403.4,119.3 403.9,119.24 404.4,119.18 404.9,119.12 405.4,119.06 405.9,119 406.4,118.94 406.9,118.89 407.4,118.83 407.9,118.77 408.4,118.71 408.9,118.65 409.4,118.6 409.9,118.54 410.4,118.48 410.9,118.43 411.4,118.37 411.9,118.31 412.4,118.26 412.9,118.21 413.4,118.15 413.9,118.1 414.4,118.05 414.9,118 415.4,117.95 415.9,117.9 416.4,117.85 416.9,117.8 417.4,117.75 417.9,117.71 418.4,117.66 418.9,117.62 419.4,117.58 419.9,117.54 420.4,117.5 420.9,117.46 421.4,117.42 421.9,117.39 422.4,117.35 422.9,117.32 423.4,117.29 423.9,117.26 424.4,117.23 424.9,117.2 425.4,117.18 425.9,117.15 426.4,117.13 426.9,117.11 427.4,117.09 427.9,117.07 428.4,117.05 428.9,117.03 429.4,117.02 429.9,117.01 430.4,117 430.9,116.99 431.4,116.98 431.9,116.97 432.4,116.96 432.9,116.96 433.4,116.95 433.9,116.95 434.4,116.95 434.9,116.95 435.4,116.95 435.9,116.95 436.4,116.96 436.9,116.96 437.4,116.97 437.9,116.98 438.4,116.99 438.9,117.01 439.4,117.03 439.9,117.05 440.4,117.07 440.9,117.1 441.4,117.13 441.9,117.16 442.4,117.19 442.9,117.23 443.4,117.27 443.9,117.31 444.4,117.35 444.9,117.4 445.4,117.45 445.9,117.5 446.4,117.56 446.9,117.61 447.4,117.67 447.9,117.73 448.4,117.79 448.9,117.85 449.4,117.92 449.9,117.99 450.4,118.06 450.9,118.13 451.4,118.2 451.9,118.27 452.4,118.34 452.9,118.42 453.4,118.49 453.9,118.57 454.4,118.65 454.4,125.15 453.9,125.23 453.4,125.31 452.9,125.38 452.4,125.46 451.9,125.53 451.4,125.6 450.9,125.67 450.4,125.74 449.9,125.81 449.4,125.88 448.9,125.95 448.4,126.01 447.9,126.07 447.4,126.13 446.9,126.19 446.4,126.24 445.9,126.3 445.4,126.35 444.9,126.4 444.4,126.45 443.9,126.49 443.4,126.53 442.9,126.57 442.4,126.61 441.9,126.64 441.4,126.67 440.9,126.7 440.4,126.73 439.9,126.75 439.4,126.77 438.9,126.79 438.4,126.81 437.9,126.82 437.4,126.83 436.9,126.84 436.4,126.84 435.9,126.85 435.4,126.85 434.9,126.85 434.4,126.85 433.9,126.85 433.4,126.85 432.9,126.84 432.4,126.84 431.9,126.83 431.4,126.82 430.9,126.81 430.4,126.8 429.9,126.79 429.4,126.78 428.9,126.77 428.4,126.75 427.9,126.73 427.4,126.71 426.9,126.69 426.4,126.67 425.9,126.65 425.4,126.62 424.9,126.6 424.4,126.57 423.9,126.54 423.4,126.51 422.9,126.48 422.4,126.45 421.9,126.41 421.4,126.38 420.9,126.34 420.4,126.3 419.9,126.26 419.4,126.22 418.9,126.18 418.4,126.14 417.9,126.09 417.4,126.05 416.9,126 416.4,125.95 415.9,125.9 415.4,125.85 414.9,125.8 414.4,125.75 413.9,125.7 413.4,125.65 412.9,125.59 412.4,125.54 411.9,125.49 411.4,125.43 410.9,125.37 410.4,125.32 409.9,125.26 409.4,125.2 408.9,125.15 408.4,125.09 407.9,125.03 407.4,124.97 406.9,124.91 406.4,124.86 405.9,124.8 405.4,124.74 404.9,124.68 404.4,124.62 403.9,124.56 403.4,124.5 402.9,124.45 402.4,124.39 401.9,124.33 401.4,124.27 400.9,124.22 400.4,124.16 399.9,124.1 399.4,124.05 398.9,123.99 398.4,123.94 397.9,123.88 397.4,123.83 396.9,123.78 396.4,123.73 395.9,123.67 395.4,123.62 394.9,123.57 394.4,123.52 393.9,123.47 393.4,123.43 392.9,123.38 392.4,123.33 391.9,123.29 391.4,123.24 390.9,123.2 390.4,123.16 389.9,123.11 389.4,123.07 388.9,123.03 388.4,122.99 387.9,122.96 387.4,122.92 386.9,122.88 386.4,122.85 385.9,122.81 385.4,122.78 384.9,122.74 384.4,122.71 383.9,122.68 383.4,122.65 382.9,122.62 382.4,122.59 381.9,122.56 381.4,122.53 380.9,122.51 380.4,122.48 379.9,122.46 379.4,122.43 378.9,122.41 378.4,122.39 377.9,122.37 377.4,122.35 376.9,122.33 376.4,122.31 375.9,122.29 375.4,122.27 374.9,122.25 374.4,122.24 373.9,122.22 373.4,122.2" fill="#15895f" stroke="#333333" stroke-width="0.7" stroke-linejoin="round"/>
<rect x="412.6" y="121.15" width="28.4" height="1.5" fill="#333333" stroke="none" stroke-width="1" />
<circle cx="429.5" cy="121.9" r="0.8" fill="#eeeeee"/>
<line x1="366.4" y1="132.5" x2="454.7" y2="132.5" stroke="#505050" stroke-width="0.8" />
<polygon points="369.4,132.1 369.9,132.08 370.4,132.06 370.9,132.04 371.4,132.03 371.9,132.01 372.4,131.99 372.9,131.97 373.4,131.94 373.9,131.92 374.4,131.9 374.9,131.87 375.4,131.85 375.9,131.82 376.4,131.79 376.9,131.77 377.4,131.74 377.9,131.71 378.4,131.68 378.9,131.64 379.4,131.61 379.9,131.58 380.4,131.54 380.9,131.51 381.4,131.47 381.9,131.43 382.4,131.39 382.9,131.35 383.4,131.31 383.9,131.27 384.4,131.22 384.9,131.18 385.4,131.14 385.9,131.09 386.4,131.04 386.9,130.99 387.4,130.94 387.9,130.89 388.4,130.84 388.9,130.79 389.4,130.74 389.9,130.68 390.4,130.63 390.9,130.57 391.4,130.52 391.9,130.46 392.4,130.4 392.9,130.34 393.4,130.29 393.9,130.23 394.4,130.17 394.9,130.1 395.4,130.04 395.9,129.98 396.4,129.92 396.9,129.86 397.4,129.79 397.9,129.73 398.4,129.67 398.9,129.6 399.4,129.54 399.9,129.47 400.4,129.41 400.9,129.35 401.4,129.28 401.9,129.22 402.4,129.15 402.9,129.09 403.4,129.03 403.9,128.96 404.4,128.9 404.9,128.84 405.4,128.78 405.9,128.72 406.4,128.66 406.9,128.6 407.4,128.54 407.9,128.48 408.4,128.43 408.9,128.37 409.4,128.32 409.9,128.26 410.4,128.21 410.9,128.16 411.4,128.11 411.9,128.06 412.4,128.01 412.9,127.97 413.4,127.92 413.9,127.88 414.4,127.83 414.9,127.79 415.4,127.75 415.9,127.72 416.4,127.68 416.9,127.65 417.4,127.61 417.9,127.58 418.4,127.55 418.9,127.52 419.4,127.5 419.9,127.47 420.4,127.45 420.9,127.43 421.4,127.41 421.9,127.39 422.4,127.38 422.9,127.36 423.4,127.35 423.9,127.34 424.4,127.33 424.9,127.32 425.4,127.31 425.9,127.31 426.4,127.3 426.9,127.3 427.4,127.3 427.9,127.3 428.4,127.3 428.9,127.31 429.4,127.31 429.9,127.32 430.4,127.33 430.9,127.35 431.4,127.37 431.9,127.39 432.4,127.42 432.9,127.45 433.4,127.48 433.9,127.52 434.4,127.56 434.9,127.6 435.4,127.65 435.9,127.7 436.4,127.76 436.9,127.81 437.4,127.87 437.9,127.94 438.4,128 438.9,128.07 439.4,128.15 439.9,128.22 440.4,128.3 440.9,128.38 441.4,128.46 441.9,128.54 442.4,128.62 442.9,128.71 443.4,128.8 443.9,128.89 444.4,128.98 444.9,129.07 445.4,129.16 445.9,129.25 446.4,129.34 446.9,129.44 447.4,129.53 447.9,129.62 448.4,129.71 448.9,129.81 449.4,129.9 449.9,129.99 450.4,130.08 450.9,130.16 451.4,130.25 451.9,130.34 452.4,130.42 452.9,130.51 453.4,130.59 453.9,130.67 454.4,130.74 454.4,134.06 453.9,134.13 453.4,134.21 452.9,134.29 452.4,134.38 451.9,134.46 451.4,134.55 450.9,134.64 450.4,134.72 449.9,134.81 449.4,134.9 448.9,134.99 448.4,135.09 447.9,135.18 447.4,135.27 446.9,135.36 446.4,135.46 445.9,135.55 445.4,135.64 444.9,135.73 444.4,135.82 443.9,135.91 443.4,136 442.9,136.09 442.4,136.18 441.9,136.26 441.4,136.34 440.9,136.42 440.4,136.5 439.9,136.58 439.4,136.65 438.9,136.73 438.4,136.8 437.9,136.86 437.4,136.93 436.9,136.99 436.4,137.04 435.9,137.1 435.4,137.15 434.9,137.2 434.4,137.24 433.9,137.28 433.4,137.32 432.9,137.35 432.4,137.38 431.9,137.41 431.4,137.43 430.9,137.45 430.4,137.47 429.9,137.48 429.4,137.49 428.9,137.49 428.4,137.5 427.9,137.5 427.4,137.5 426.9,137.5 426.4,137.5 425.9,137.49 425.4,137.49 424.9,137.48 424.4,137.47 423.9,137.46 423.4,137.45 422.9,137.44 422.4,137.42 421.9,137.41 421.4,137.39 420.9,137.37 420.4,137.35 419.9,137.33 419.4,137.3 418.9,137.28 418.4,137.25 417.9,137.22 417.4,137.19 416.9,137.15 416.4,137.12 415.9,137.08 415.4,137.05 414.9,137.01 414.4,136.97 413.9,136.92 413.4,136.88 412.9,136.83 412.4,136.79 411.9,136.74 411.4,136.69 410.9,136.64 410.4,136.59 409.9,136.54 409.4,136.48 408.9,136.43 408.4,136.37 407.9,136.32 407.4,136.26 406.9,136.2 406.4,136.14 405.9,136.08 405.4,136.02 404.9,135.96 404.4,135.9 403.9,135.84 403.4,135.77 402.9,135.71 402.4,135.65 401.9,135.58 401.4,135.52 400.9,135.45 400.4,135.39 399.9,135.33 399.4,135.26 398.9,135.2 398.4,135.13 397.9,135.07 397.4,135.01 396.9,134.94 396.4,134.88 395.9,134.82 395.4,134.76 394.9,134.7 394.4,134.63 393.9,134.57 393.4,134.51 392.9,134.46 392.4,134.4 391.9,134.34 391.4,134.28 390.9,134.23 390.4,134.17 389.9,134.12 389.4,134.06 388.9,134.01 388.4,133.96 387.9,133.91 387.4,133.86 386.9,133.81 386.4,133.76 385.9,133.71 385.4,133.66 384.9,133.62 384.4,133.58 383.9,133.53 383.4,133.49 382.9,133.45 382.4,133.41 381.9,133.37 381.4,133.33 380.9,133.29 380.4,133.26 379.9,133.22 379.4,133.19 378.9,133.16 378.4,133.12 377.9,133.09 377.4,133.06 376.9,133.03 376.4,133.01 375.9,132.98 375.4,132.95 374.9,132.93 374.4,132.9 373.9,132.88 373.4,132.86 372.9,132.83 372.4,132.81 371.9,132.79 371.4,132.77 370.9,132.76 370.4,132.74 369.9,132.72 369.4,132.7" fill="#c4906a" stroke="#333333" stroke-width="0.7" stroke-linejoin="round"/>
<rect x="412" y="131.65" width="24.3" height="1.5" fill="#333333" stroke="none" stroke-width="1" />
<circle cx="425" cy="132.4" r="0.8" fill="#eeeeee"/>
</g>
<line x1="366.4" y1="35.5" x2="454.7" y2="35.5" stroke="#c8c8c8" stroke-width="1" />
<line x1="366.4" y1="140.5" x2="454.7" y2="140.5" stroke="#c8c8c8" stroke-width="1" />
<line x1="366.5" y1="35.9" x2="366.5" y2="140" stroke="#444444" stroke-width="1" />
<line x1="454.5" y1="35.9" x2="454.5" y2="140" stroke="#9a9a9a" stroke-width="1" />
<text x="362" y="152" font-size="9" textLength="8.2" lengthAdjust="spacingAndGlyphs" fill="#231f20" >−1</text>
<text x="408" y="152" font-size="9" textLength="5" lengthAdjust="spacingAndGlyphs" fill="#231f20" >0</text>
<text x="452.6" y="152" font-size="9" textLength="3.6" lengthAdjust="spacingAndGlyphs" fill="#231f20" >1</text>
<line x1="495.5" y1="36" x2="495.5" y2="140" stroke="#e2e2e2" stroke-width="0.8" />
<line x1="530.5" y1="36" x2="530.5" y2="140" stroke="#e2e2e2" stroke-width="0.8" />
<rect x="477.5" y="36.5" width="88" height="104" fill="none" stroke="#a8a8a8" stroke-width="1" />
<line x1="514" y1="43.5" x2="557" y2="43.5" stroke="#505050" stroke-width="0.8" />
<polygon points="534.5,43.15 535,43.06 535.5,42.95 536,42.83 536.5,42.68 537,42.52 537.5,42.33 538,42.12 538.5,41.89 539,41.65 539.5,41.38 540,41.1 540.5,40.82 541,40.52 541.5,40.23 542,39.94 542.5,39.66 543,39.4 543.5,39.15 544,38.93 544.5,38.75 545,38.59 545.5,38.47 546,38.38 546.5,38.32 547,38.3 547.5,38.36 548,38.58 548.5,38.86 549,39.18 549.5,39.52 550,39.86 550.5,40.21 551,40.55 551.5,40.87 552,41.17 552.5,41.45 553,41.71 553.5,41.95 554,42.16 554.5,42.35 555,42.51 555.5,42.66 556,42.79 556.5,42.9 557,43 557,44 556.5,44.1 556,44.21 555.5,44.34 555,44.49 554.5,44.65 554,44.84 553.5,45.05 553,45.29 552.5,45.55 552,45.83 551.5,46.13 551,46.45 550.5,46.79 550,47.14 549.5,47.48 549,47.82 548.5,48.14 548,48.42 547.5,48.64 547,48.7 546.5,48.68 546,48.62 545.5,48.53 545,48.41 544.5,48.25 544,48.07 543.5,47.85 543,47.6 542.5,47.34 542,47.06 541.5,46.77 541,46.48 540.5,46.18 540,45.9 539.5,45.62 539,45.35 538.5,45.11 538,44.88 537.5,44.67 537,44.48 536.5,44.32 536,44.17 535.5,44.05 535,43.94 534.5,43.85" fill="#1a6fa8" stroke="#333333" stroke-width="0.7" stroke-linejoin="round"/>
<rect x="544" y="42.75" width="5.5" height="1.5" fill="#333333" stroke="none" stroke-width="1" />
<circle cx="546.8" cy="43.5" r="0.8" fill="#eeeeee"/>
<line x1="477.7" y1="54.5" x2="556.3" y2="54.5" stroke="#505050" stroke-width="0.8" />
<polygon points="502.2,53.68 502.7,53.66 503.2,53.64 503.7,53.61 504.2,53.58 504.7,53.55 505.2,53.52 505.7,53.49 506.2,53.46 506.7,53.42 507.2,53.39 507.7,53.35 508.2,53.31 508.7,53.26 509.2,53.22 509.7,53.18 510.2,53.13 510.7,53.08 511.2,53.03 511.7,52.98 512.2,52.92 512.7,52.87 513.2,52.81 513.7,52.75 514.2,52.69 514.7,52.63 515.2,52.57 515.7,52.51 516.2,52.45 516.7,52.38 517.2,52.32 517.7,52.25 518.2,52.19 518.7,52.13 519.2,52.06 519.7,52 520.2,51.94 520.7,51.88 521.2,51.82 521.7,51.77 522.2,51.72 522.7,51.67 523.2,51.62 523.7,51.58 524.2,51.55 524.7,51.52 525.2,51.5 525.7,51.5 526.2,51.52 526.7,51.55 527.2,51.59 527.7,51.63 528.2,51.68 528.7,51.73 529.2,51.79 529.7,51.85 530.2,51.91 530.7,51.98 531.2,52.04 531.7,52.11 532.2,52.18 532.7,52.25 533.2,52.32 533.7,52.39 534.2,52.46 534.7,52.52 535.2,52.59 535.7,52.66 536.2,52.72 536.7,52.79 537.2,52.85 537.7,52.91 538.2,52.97 538.7,53.02 539.2,53.08 539.7,53.13 540.2,53.18 540.7,53.23 541.2,53.28 541.7,53.32 542.2,53.36 542.7,53.4 543.2,53.44 543.7,53.48 544.2,53.52 544.7,53.55 545.2,53.58 545.7,53.61 546.2,53.64 546.7,53.66 547.2,53.69 547.2,54.31 546.7,54.34 546.2,54.36 545.7,54.39 545.2,54.42 544.7,54.45 544.2,54.48 543.7,54.52 543.2,54.56 542.7,54.6 542.2,54.64 541.7,54.68 541.2,54.72 540.7,54.77 540.2,54.82 539.7,54.87 539.2,54.92 538.7,54.98 538.2,55.03 537.7,55.09 537.2,55.15 536.7,55.21 536.2,55.28 535.7,55.34 535.2,55.41 534.7,55.48 534.2,55.54 533.7,55.61 533.2,55.68 532.7,55.75 532.2,55.82 531.7,55.89 531.2,55.96 530.7,56.02 530.2,56.09 529.7,56.15 529.2,56.21 528.7,56.27 528.2,56.32 527.7,56.37 527.2,56.41 526.7,56.45 526.2,56.48 525.7,56.5 525.2,56.5 524.7,56.48 524.2,56.45 523.7,56.42 523.2,56.38 522.7,56.33 522.2,56.28 521.7,56.23 521.2,56.18 520.7,56.12 520.2,56.06 519.7,56 519.2,55.94 518.7,55.87 518.2,55.81 517.7,55.75 517.2,55.68 516.7,55.62 516.2,55.55 515.7,55.49 515.2,55.43 514.7,55.37 514.2,55.31 513.7,55.25 513.2,55.19 512.7,55.13 512.2,55.08 511.7,55.02 511.2,54.97 510.7,54.92 510.2,54.87 509.7,54.82 509.2,54.78 508.7,54.74 508.2,54.69 507.7,54.65 507.2,54.61 506.7,54.58 506.2,54.54 505.7,54.51 505.2,54.48 504.7,54.45 504.2,54.42 503.7,54.39 503.2,54.36 502.7,54.34 502.2,54.32" fill="#d38f18" stroke="#333333" stroke-width="0.7" stroke-linejoin="round"/>
<rect x="517.8" y="53.25" width="14" height="1.5" fill="#333333" stroke="none" stroke-width="1" />
<circle cx="525.2" cy="54" r="0.8" fill="#eeeeee"/>
<line x1="501.6" y1="69.5" x2="560.5" y2="69.5" stroke="#505050" stroke-width="0.8" />
<polygon points="539.6,69.16 540.1,69.11 540.6,69.05 541.1,68.99 541.6,68.92 542.1,68.84 542.6,68.75 543.1,68.66 543.6,68.55 544.1,68.44 544.6,68.31 545.1,68.18 545.6,68.03 546.1,67.87 546.6,67.7 547.1,67.52 547.6,67.33 548.1,67.12 548.6,66.91 549.1,66.69 549.6,66.46 550.1,66.22 550.6,65.98 551.1,65.74 551.6,65.5 552.1,65.26 552.6,65.03 553.1,64.81 553.6,64.61 554.1,64.43 554.6,64.27 555.1,64.16 555.6,64.1 556.1,64.23 556.6,64.61 557.1,65.18 557.6,65.86 558.1,66.59 558.6,67.28 559.1,67.89 559.6,68.39 560.1,68.77 560.1,70.23 559.6,70.61 559.1,71.11 558.6,71.72 558.1,72.41 557.6,73.14 557.1,73.82 556.6,74.39 556.1,74.77 555.6,74.9 555.1,74.84 554.6,74.73 554.1,74.57 553.6,74.39 553.1,74.19 552.6,73.97 552.1,73.74 551.6,73.5 551.1,73.26 550.6,73.02 550.1,72.78 549.6,72.54 549.1,72.31 548.6,72.09 548.1,71.88 547.6,71.67 547.1,71.48 546.6,71.3 546.1,71.13 545.6,70.97 545.1,70.82 544.6,70.69 544.1,70.56 543.6,70.45 543.1,70.34 542.6,70.25 542.1,70.16 541.6,70.08 541.1,70.01 540.6,69.95 540.1,69.89 539.6,69.84" fill="#1a6fa8" stroke="#333333" stroke-width="0.7" stroke-linejoin="round"/>
<rect x="550" y="68.75" width="7" height="1.5" fill="#333333" stroke="none" stroke-width="1" />
<circle cx="553.6" cy="69.5" r="0.8" fill="#eeeeee"/>
<line x1="477.7" y1="80.5" x2="553.5" y2="80.5" stroke="#505050" stroke-width="0.8" />
<polygon points="494.2,79.68 494.7,79.65 495.2,79.63 495.7,79.6 496.2,79.57 496.7,79.54 497.2,79.51 497.7,79.47 498.2,79.44 498.7,79.4 499.2,79.36 499.7,79.32 500.2,79.27 500.7,79.23 501.2,79.18 501.7,79.14 502.2,79.09 502.7,79.04 503.2,78.98 503.7,78.93 504.2,78.87 504.7,78.82 505.2,78.76 505.7,78.7 506.2,78.64 506.7,78.59 507.2,78.53 507.7,78.47 508.2,78.41 508.7,78.35 509.2,78.3 509.7,78.24 510.2,78.19 510.7,78.14 511.2,78.09 511.7,78.04 512.2,78 512.7,77.97 513.2,77.94 513.7,77.91 514.2,77.9 514.7,77.91 515.2,77.92 515.7,77.94 516.2,77.96 516.7,77.99 517.2,78.02 517.7,78.06 518.2,78.1 518.7,78.14 519.2,78.18 519.7,78.22 520.2,78.26 520.7,78.31 521.2,78.35 521.7,78.4 522.2,78.45 522.7,78.5 523.2,78.54 523.7,78.59 524.2,78.64 524.7,78.69 525.2,78.74 525.7,78.78 526.2,78.83 526.7,78.87 527.2,78.92 527.7,78.96 528.2,79.01 528.7,79.05 529.2,79.09 529.7,79.13 530.2,79.17 530.7,79.21 531.2,79.25 531.7,79.28 532.2,79.32 532.7,79.35 533.2,79.38 533.7,79.41 534.2,79.44 534.7,79.47 535.2,79.5 535.7,79.53 536.2,79.55 536.7,79.58 537.2,79.6 537.7,79.63 538.2,79.65 538.7,79.67 539.2,79.69 539.2,80.31 538.7,80.33 538.2,80.35 537.7,80.37 537.2,80.4 536.7,80.42 536.2,80.45 535.7,80.47 535.2,80.5 534.7,80.53 534.2,80.56 533.7,80.59 533.2,80.62 532.7,80.65 532.2,80.68 531.7,80.72 531.2,80.75 530.7,80.79 530.2,80.83 529.7,80.87 529.2,80.91 528.7,80.95 528.2,80.99 527.7,81.04 527.2,81.08 526.7,81.13 526.2,81.17 525.7,81.22 525.2,81.26 524.7,81.31 524.2,81.36 523.7,81.41 523.2,81.46 522.7,81.5 522.2,81.55 521.7,81.6 521.2,81.65 520.7,81.69 520.2,81.74 519.7,81.78 519.2,81.82 518.7,81.86 518.2,81.9 517.7,81.94 517.2,81.98 516.7,82.01 516.2,82.04 515.7,82.06 515.2,82.08 514.7,82.09 514.2,82.1 513.7,82.09 513.2,82.06 512.7,82.03 512.2,82 511.7,81.96 511.2,81.91 510.7,81.86 510.2,81.81 509.7,81.76 509.2,81.7 508.7,81.65 508.2,81.59 507.7,81.53 507.2,81.47 506.7,81.41 506.2,81.36 505.7,81.3 505.2,81.24 504.7,81.18 504.2,81.13 503.7,81.07 503.2,81.02 502.7,80.96 502.2,80.91 501.7,80.86 501.2,80.82 500.7,80.77 500.2,80.73 499.7,80.68 499.2,80.64 498.7,80.6 498.2,80.56 497.7,80.53 497.2,80.49 496.7,80.46 496.2,80.43 495.7,80.4 495.2,80.37 494.7,80.35 494.2,80.32" fill="#d38f18" stroke="#333333" stroke-width="0.7" stroke-linejoin="round"/>
<rect x="508" y="79.25" width="12" height="1.5" fill="#333333" stroke="none" stroke-width="1" />
<circle cx="514" cy="80" r="0.8" fill="#eeeeee"/>
<line x1="501.6" y1="95.5" x2="559.4" y2="95.5" stroke="#505050" stroke-width="0.8" />
<polygon points="525.6,95.55 526.1,95.48 526.6,95.4 527.1,95.31 527.6,95.2 528.1,95.09 528.6,94.96 529.1,94.82 529.6,94.66 530.1,94.48 530.6,94.3 531.1,94.1 531.6,93.88 532.1,93.66 532.6,93.43 533.1,93.18 533.6,92.94 534.1,92.69 534.6,92.43 535.1,92.19 535.6,91.95 536.1,91.72 536.6,91.5 537.1,91.3 537.6,91.12 538.1,90.96 538.6,90.83 539.1,90.73 539.6,90.65 540.1,90.61 540.6,90.6 541.1,90.64 541.6,90.73 542.1,90.86 542.6,91.05 543.1,91.27 543.6,91.53 544.1,91.81 544.6,92.11 545.1,92.43 545.6,92.75 546.1,93.07 546.6,93.38 547.1,93.68 547.6,93.97 548.1,94.23 548.6,94.47 549.1,94.69 549.6,94.89 550.1,95.06 550.6,95.21 551.1,95.34 551.6,95.45 552.1,95.54 552.1,96.26 551.6,96.35 551.1,96.46 550.6,96.59 550.1,96.74 549.6,96.91 549.1,97.11 548.6,97.33 548.1,97.57 547.6,97.83 547.1,98.12 546.6,98.42 546.1,98.73 545.6,99.05 545.1,99.37 544.6,99.69 544.1,99.99 543.6,100.27 543.1,100.53 542.6,100.75 542.1,100.94 541.6,101.07 541.1,101.16 540.6,101.2 540.1,101.19 539.6,101.15 539.1,101.07 538.6,100.97 538.1,100.84 537.6,100.68 537.1,100.5 536.6,100.3 536.1,100.08 535.6,99.85 535.1,99.61 534.6,99.37 534.1,99.11 533.6,98.86 533.1,98.62 532.6,98.37 532.1,98.14 531.6,97.92 531.1,97.7 530.6,97.5 530.1,97.32 529.6,97.14 529.1,96.98 528.6,96.84 528.1,96.71 527.6,96.6 527.1,96.49 526.6,96.4 526.1,96.32 525.6,96.25" fill="#1a6fa8" stroke="#333333" stroke-width="0.7" stroke-linejoin="round"/>
<rect x="535.8" y="95.15" width="9" height="1.5" fill="#333333" stroke="none" stroke-width="1" />
<circle cx="540.5" cy="95.9" r="0.8" fill="#eeeeee"/>
<line x1="477.7" y1="106.5" x2="558.6" y2="106.5" stroke="#505050" stroke-width="0.8" />
<polygon points="517.2,106.09 517.7,106.05 518.2,106 518.7,105.95 519.2,105.89 519.7,105.82 520.2,105.75 520.7,105.67 521.2,105.59 521.7,105.5 522.2,105.41 522.7,105.3 523.2,105.19 523.7,105.08 524.2,104.96 524.7,104.83 525.2,104.69 525.7,104.56 526.2,104.42 526.7,104.27 527.2,104.13 527.7,103.98 528.2,103.83 528.7,103.69 529.2,103.55 529.7,103.41 530.2,103.28 530.7,103.16 531.2,103.05 531.7,102.95 532.2,102.86 532.7,102.79 533.2,102.74 533.7,102.71 534.2,102.7 534.7,102.72 535.2,102.75 535.7,102.79 536.2,102.85 536.7,102.91 537.2,102.99 537.7,103.07 538.2,103.16 538.7,103.25 539.2,103.35 539.7,103.46 540.2,103.56 540.7,103.68 541.2,103.79 541.7,103.9 542.2,104.02 542.7,104.13 543.2,104.25 543.7,104.36 544.2,104.47 544.7,104.58 545.2,104.69 545.7,104.79 546.2,104.9 546.7,104.99 547.2,105.09 547.7,105.18 548.2,105.27 548.7,105.35 549.2,105.43 549.7,105.5 550.2,105.57 550.7,105.64 551.2,105.7 551.7,105.76 552.2,105.82 552.7,105.87 553.2,105.92 553.7,105.96 554.2,106 554.7,106.04 555.2,106.08 555.2,106.72 554.7,106.76 554.2,106.8 553.7,106.84 553.2,106.88 552.7,106.93 552.2,106.98 551.7,107.04 551.2,107.1 550.7,107.16 550.2,107.23 549.7,107.3 549.2,107.37 548.7,107.45 548.2,107.53 547.7,107.62 547.2,107.71 546.7,107.81 546.2,107.9 545.7,108.01 545.2,108.11 544.7,108.22 544.2,108.33 543.7,108.44 543.2,108.55 542.7,108.67 542.2,108.78 541.7,108.9 541.2,109.01 540.7,109.12 540.2,109.24 539.7,109.34 539.2,109.45 538.7,109.55 538.2,109.64 537.7,109.73 537.2,109.81 536.7,109.89 536.2,109.95 535.7,110.01 535.2,110.05 534.7,110.08 534.2,110.1 533.7,110.09 533.2,110.06 532.7,110.01 532.2,109.94 531.7,109.85 531.2,109.75 530.7,109.64 530.2,109.52 529.7,109.39 529.2,109.25 528.7,109.11 528.2,108.97 527.7,108.82 527.2,108.67 526.7,108.53 526.2,108.38 525.7,108.24 525.2,108.11 524.7,107.97 524.2,107.84 523.7,107.72 523.2,107.61 522.7,107.5 522.2,107.39 521.7,107.3 521.2,107.21 520.7,107.13 520.2,107.05 519.7,106.98 519.2,106.91 518.7,106.85 518.2,106.8 517.7,106.75 517.2,106.71" fill="#d38f18" stroke="#333333" stroke-width="0.7" stroke-linejoin="round"/>
<rect x="528" y="105.65" width="11" height="1.5" fill="#333333" stroke="none" stroke-width="1" />
<circle cx="534" cy="106.4" r="0.8" fill="#eeeeee"/>
<line x1="477.7" y1="121.5" x2="561.6" y2="121.5" stroke="#505050" stroke-width="0.8" />
<polygon points="518.7,121.29 519.2,121.26 519.7,121.23 520.2,121.2 520.7,121.17 521.2,121.13 521.7,121.09 522.2,121.05 522.7,121 523.2,120.96 523.7,120.9 524.2,120.85 524.7,120.79 525.2,120.73 525.7,120.67 526.2,120.6 526.7,120.53 527.2,120.45 527.7,120.37 528.2,120.29 528.7,120.2 529.2,120.1 529.7,120.01 530.2,119.91 530.7,119.8 531.2,119.69 531.7,119.58 532.2,119.46 532.7,119.34 533.2,119.21 533.7,119.08 534.2,118.95 534.7,118.81 535.2,118.67 535.7,118.53 536.2,118.38 536.7,118.24 537.2,118.09 537.7,117.94 538.2,117.79 538.7,117.64 539.2,117.49 539.7,117.35 540.2,117.2 540.7,117.06 541.2,116.92 541.7,116.79 542.2,116.67 542.7,116.55 543.2,116.45 543.7,116.35 544.2,116.27 544.7,116.21 545.2,116.16 545.7,116.17 546.2,116.28 546.7,116.45 547.2,116.66 547.7,116.9 548.2,117.16 548.7,117.44 549.2,117.72 549.7,118.01 550.2,118.29 550.7,118.57 551.2,118.84 551.7,119.1 552.2,119.34 552.7,119.57 553.2,119.79 553.7,119.99 554.2,120.17 554.7,120.34 555.2,120.49 555.7,120.63 556.2,120.76 556.7,120.87 557.2,120.97 557.7,121.05 558.2,121.13 558.7,121.2 559.2,121.26 559.2,121.94 558.7,122 558.2,122.07 557.7,122.15 557.2,122.23 556.7,122.33 556.2,122.44 555.7,122.57 555.2,122.71 554.7,122.86 554.2,123.03 553.7,123.21 553.2,123.41 552.7,123.63 552.2,123.86 551.7,124.1 551.2,124.36 550.7,124.63 550.2,124.91 549.7,125.19 549.2,125.48 548.7,125.76 548.2,126.04 547.7,126.3 547.2,126.54 546.7,126.75 546.2,126.92 545.7,127.03 545.2,127.04 544.7,126.99 544.2,126.93 543.7,126.85 543.2,126.75 542.7,126.65 542.2,126.53 541.7,126.41 541.2,126.28 540.7,126.14 540.2,126 539.7,125.85 539.2,125.71 538.7,125.56 538.2,125.41 537.7,125.26 537.2,125.11 536.7,124.96 536.2,124.82 535.7,124.67 535.2,124.53 534.7,124.39 534.2,124.25 533.7,124.12 533.2,123.99 532.7,123.86 532.2,123.74 531.7,123.62 531.2,123.51 530.7,123.4 530.2,123.29 529.7,123.19 529.2,123.1 528.7,123 528.2,122.91 527.7,122.83 527.2,122.75 526.7,122.67 526.2,122.6 525.7,122.53 525.2,122.47 524.7,122.41 524.2,122.35 523.7,122.3 523.2,122.24 522.7,122.2 522.2,122.15 521.7,122.11 521.2,122.07 520.7,122.03 520.2,122 519.7,121.97 519.2,121.94 518.7,121.91" fill="#1a6fa8" stroke="#333333" stroke-width="0.7" stroke-linejoin="round"/>
<rect x="535" y="120.85" width="12.7" height="1.5" fill="#333333" stroke="none" stroke-width="1" />
<circle cx="542.2" cy="121.6" r="0.8" fill="#eeeeee"/>
<line x1="477.7" y1="132.5" x2="556" y2="132.5" stroke="#505050" stroke-width="0.8" />
<polygon points="497.7,131.99 498.2,131.96 498.7,131.93 499.2,131.89 499.7,131.86 500.2,131.82 500.7,131.78 501.2,131.73 501.7,131.69 502.2,131.64 502.7,131.59 503.2,131.53 503.7,131.48 504.2,131.42 504.7,131.35 505.2,131.29 505.7,131.22 506.2,131.15 506.7,131.07 507.2,130.99 507.7,130.91 508.2,130.83 508.7,130.74 509.2,130.66 509.7,130.57 510.2,130.48 510.7,130.38 511.2,130.29 511.7,130.19 512.2,130.1 512.7,130 513.2,129.9 513.7,129.81 514.2,129.71 514.7,129.62 515.2,129.53 515.7,129.44 516.2,129.35 516.7,129.26 517.2,129.18 517.7,129.1 518.2,129.03 518.7,128.97 519.2,128.9 519.7,128.85 520.2,128.8 520.7,128.76 521.2,128.73 521.7,128.71 522.2,128.7 522.7,128.7 523.2,128.72 523.7,128.74 524.2,128.77 524.7,128.81 525.2,128.85 525.7,128.9 526.2,128.95 526.7,129.01 527.2,129.07 527.7,129.13 528.2,129.2 528.7,129.28 529.2,129.35 529.7,129.43 530.2,129.51 530.7,129.59 531.2,129.67 531.7,129.76 532.2,129.84 532.7,129.93 533.2,130.01 533.7,130.1 534.2,130.18 534.7,130.27 535.2,130.35 535.7,130.44 536.2,130.52 536.7,130.6 537.2,130.68 537.7,130.75 538.2,130.83 538.7,130.9 539.2,130.98 539.7,131.04 540.2,131.11 540.7,131.18 541.2,131.24 541.7,131.3 542.2,131.36 542.7,131.41 543.2,131.47 543.7,131.52 544.2,131.57 544.7,131.62 545.2,131.66 545.7,131.7 546.2,131.74 546.7,131.78 547.2,131.82 547.7,131.85 548.2,131.88 548.7,131.91 549.2,131.94 549.7,131.97 550.2,131.99 550.2,132.61 549.7,132.63 549.2,132.66 548.7,132.69 548.2,132.72 547.7,132.75 547.2,132.78 546.7,132.82 546.2,132.86 545.7,132.9 545.2,132.94 544.7,132.98 544.2,133.03 543.7,133.08 543.2,133.13 542.7,133.19 542.2,133.24 541.7,133.3 541.2,133.36 540.7,133.42 540.2,133.49 539.7,133.56 539.2,133.62 538.7,133.7 538.2,133.77 537.7,133.85 537.2,133.92 536.7,134 536.2,134.08 535.7,134.16 535.2,134.25 534.7,134.33 534.2,134.42 533.7,134.5 533.2,134.59 532.7,134.67 532.2,134.76 531.7,134.84 531.2,134.93 530.7,135.01 530.2,135.09 529.7,135.17 529.2,135.25 528.7,135.32 528.2,135.4 527.7,135.47 527.2,135.53 526.7,135.59 526.2,135.65 525.7,135.7 525.2,135.75 524.7,135.79 524.2,135.83 523.7,135.86 523.2,135.88 522.7,135.9 522.2,135.9 521.7,135.89 521.2,135.87 520.7,135.84 520.2,135.8 519.7,135.75 519.2,135.7 518.7,135.63 518.2,135.57 517.7,135.5 517.2,135.42 516.7,135.34 516.2,135.25 515.7,135.16 515.2,135.07 514.7,134.98 514.2,134.89 513.7,134.79 513.2,134.7 512.7,134.6 512.2,134.5 511.7,134.41 511.2,134.31 510.7,134.22 510.2,134.12 509.7,134.03 509.2,133.94 508.7,133.86 508.2,133.77 507.7,133.69 507.2,133.61 506.7,133.53 506.2,133.45 505.7,133.38 505.2,133.31 504.7,133.25 504.2,133.18 503.7,133.12 503.2,133.07 502.7,133.01 502.2,132.96 501.7,132.91 501.2,132.87 500.7,132.82 500.2,132.78 499.7,132.74 499.2,132.71 498.7,132.67 498.2,132.64 497.7,132.61" fill="#d38f18" stroke="#333333" stroke-width="0.7" stroke-linejoin="round"/>
<rect x="514.3" y="131.55" width="16.7" height="1.5" fill="#333333" stroke="none" stroke-width="1" />
<circle cx="522.3" cy="132.3" r="0.8" fill="#eeeeee"/>
<text x="471" y="152" font-size="9" textLength="13" lengthAdjust="spacingAndGlyphs" fill="#231f20" >0.5</text>
<text x="564" y="152" font-size="9" textLength="3.4" lengthAdjust="spacingAndGlyphs" fill="#231f20" >1</text>
<text x="520" y="165.6" font-size="9.5" textLength="4.2" lengthAdjust="spacingAndGlyphs" fill="#231f20" font-style="italic">r</text>
<line x1="610.5" y1="35.6" x2="610.5" y2="140" stroke="#d6d6d6" stroke-width="1" />
<line x1="633.5" y1="35.6" x2="633.5" y2="140" stroke="#d6d6d6" stroke-width="1" />
<line x1="657.5" y1="35.6" x2="657.5" y2="140" stroke="#d6d6d6" stroke-width="1" />
<line x1="679.5" y1="35.6" x2="679.5" y2="140" stroke="#d6d6d6" stroke-width="1" />
<rect x="592.5" y="35.5" width="90" height="105" fill="none" stroke="#9a9a9a" stroke-width="1" />
<line x1="621.6" y1="48.5" x2="644.4" y2="48.5" stroke="#555555" stroke-width="1.1" />
<line x1="660.6" y1="48.5" x2="676.4" y2="48.5" stroke="#555555" stroke-width="1.1" />
<line x1="621.5" y1="43.2" x2="621.5" y2="53.8" stroke="#555555" stroke-width="1.1" />
<line x1="676.5" y1="43.2" x2="676.5" y2="53.8" stroke="#555555" stroke-width="1.1" />
<rect x="644.4" y="38" width="16.2" height="21" fill="#828282" stroke="#555555" stroke-width="0.9" />
<line x1="653.5" y1="38" x2="653.5" y2="59" stroke="#555555" stroke-width="1" />
<ellipse cx="604" cy="48.5" rx="1.4" ry="2.5" fill="#505050"/>
<ellipse cx="609.1" cy="48.5" rx="1.3" ry="3.0" fill="#4a4a4a" opacity="0.9"/>
<ellipse cx="610.81" cy="48.5" rx="1.3" ry="2.4" fill="#4a4a4a" opacity="0.9"/>
<ellipse cx="612.53" cy="48.5" rx="1.3" ry="3.0" fill="#4a4a4a" opacity="0.9"/>
<ellipse cx="614.24" cy="48.5" rx="1.3" ry="2.4" fill="#4a4a4a" opacity="0.9"/>
<ellipse cx="615.96" cy="48.5" rx="1.3" ry="3.0" fill="#4a4a4a" opacity="0.9"/>
<ellipse cx="617.67" cy="48.5" rx="1.3" ry="2.4" fill="#4a4a4a" opacity="0.9"/>
<ellipse cx="619.39" cy="48.5" rx="1.3" ry="3.0" fill="#4a4a4a" opacity="0.9"/>
<ellipse cx="621.1" cy="48.5" rx="1.3" ry="3.6" fill="#4a4a4a" opacity="0.9"/>
<line x1="616.6" y1="74.5" x2="639" y2="74.5" stroke="#555555" stroke-width="1.1" />
<line x1="654" y1="74.5" x2="677" y2="74.5" stroke="#555555" stroke-width="1.1" />
<line x1="616.5" y1="69.5" x2="616.5" y2="80.1" stroke="#555555" stroke-width="1.1" />
<line x1="677.5" y1="69.5" x2="677.5" y2="80.1" stroke="#555555" stroke-width="1.1" />
<rect x="639" y="64.3" width="15" height="21" fill="#828282" stroke="#555555" stroke-width="0.9" />
<line x1="646.5" y1="64.3" x2="646.5" y2="85.3" stroke="#555555" stroke-width="1" />
<ellipse cx="596.8" cy="74.8" rx="1.4" ry="2.5" fill="#505050"/>
<ellipse cx="602.3" cy="74.8" rx="1.4" ry="2.5" fill="#505050"/>
<ellipse cx="604.8" cy="74.8" rx="1.4" ry="2.5" fill="#505050"/>
<ellipse cx="606.9" cy="74.8" rx="1.3" ry="3.0" fill="#4a4a4a" opacity="0.9"/>
<ellipse cx="608.83" cy="74.8" rx="1.3" ry="2.4" fill="#4a4a4a" opacity="0.9"/>
<ellipse cx="610.75" cy="74.8" rx="1.3" ry="3.0" fill="#4a4a4a" opacity="0.9"/>
<ellipse cx="612.67" cy="74.8" rx="1.3" ry="2.4" fill="#4a4a4a" opacity="0.9"/>
<ellipse cx="614.6" cy="74.8" rx="1.3" ry="3.6" fill="#4a4a4a" opacity="0.9"/>
<ellipse cx="677.6" cy="74.8" rx="1.5" ry="2.8" fill="#505050"/>
<line x1="614.4" y1="101.5" x2="643.4" y2="101.5" stroke="#555555" stroke-width="1.1" />
<line x1="663.6" y1="101.5" x2="677.6" y2="101.5" stroke="#555555" stroke-width="1.1" />
<line x1="614.5" y1="95.7" x2="614.5" y2="106.3" stroke="#555555" stroke-width="1.1" />
<line x1="677.5" y1="95.7" x2="677.5" y2="106.3" stroke="#555555" stroke-width="1.1" />
<rect x="643.4" y="90.5" width="20.2" height="21" fill="#828282" stroke="#555555" stroke-width="0.9" />
<line x1="654.5" y1="90.5" x2="654.5" y2="111.5" stroke="#555555" stroke-width="1" />
<ellipse cx="599.8" cy="101" rx="1.4" ry="2.5" fill="#505050"/>
<ellipse cx="607" cy="101" rx="1.3" ry="3.0" fill="#4a4a4a" opacity="0.9"/>
<ellipse cx="608.8" cy="101" rx="1.3" ry="2.4" fill="#4a4a4a" opacity="0.9"/>
<ellipse cx="610.6" cy="101" rx="1.3" ry="3.0" fill="#4a4a4a" opacity="0.9"/>
<ellipse cx="612.4" cy="101" rx="1.3" ry="2.4" fill="#4a4a4a" opacity="0.9"/>
<ellipse cx="614.2" cy="101" rx="1.3" ry="3.6" fill="#4a4a4a" opacity="0.9"/>
<line x1="618.4" y1="127.5" x2="643" y2="127.5" stroke="#555555" stroke-width="1.1" />
<line x1="660" y1="127.5" x2="677.6" y2="127.5" stroke="#555555" stroke-width="1.1" />
<line x1="618.5" y1="121.7" x2="618.5" y2="132.3" stroke="#555555" stroke-width="1.1" />
<line x1="677.5" y1="121.7" x2="677.5" y2="132.3" stroke="#555555" stroke-width="1.1" />
<rect x="643" y="116.5" width="17" height="21" fill="#828282" stroke="#555555" stroke-width="0.9" />
<line x1="651.5" y1="116.5" x2="651.5" y2="137.5" stroke="#555555" stroke-width="1" />
<ellipse cx="604.8" cy="127" rx="1.4" ry="2.5" fill="#505050"/>
<ellipse cx="606.6" cy="127" rx="1.4" ry="2.5" fill="#505050"/>
<ellipse cx="611" cy="127" rx="1.3" ry="3.0" fill="#4a4a4a" opacity="0.9"/>
<ellipse cx="612.8" cy="127" rx="1.3" ry="2.4" fill="#4a4a4a" opacity="0.9"/>
<ellipse cx="614.6" cy="127" rx="1.3" ry="3.0" fill="#4a4a4a" opacity="0.9"/>
<ellipse cx="616.4" cy="127" rx="1.3" ry="2.4" fill="#4a4a4a" opacity="0.9"/>
<ellipse cx="618.2" cy="127" rx="1.3" ry="3.6" fill="#4a4a4a" opacity="0.9"/>
<text x="602" y="152" font-size="9" textLength="17" lengthAdjust="spacingAndGlyphs" fill="#231f20" >−0.5</text>
<text x="631" y="152" font-size="9" textLength="5" lengthAdjust="spacingAndGlyphs" fill="#231f20" >0</text>
<text x="650" y="152" font-size="9" textLength="13" lengthAdjust="spacingAndGlyphs" fill="#231f20" >0.5</text>
<text x="677" y="152" font-size="9" textLength="4" lengthAdjust="spacingAndGlyphs" fill="#231f20" >1</text>
<text x="636" y="165.6" font-size="9.5" textLength="4" lengthAdjust="spacingAndGlyphs" fill="#231f20" font-style="italic">r</text>
<rect x="336.6" y="180.4" width="10.6" height="10.6" fill="#169a6e" stroke="none" stroke-width="1" />
<text x="352" y="190.2" font-size="11" textLength="37.6" lengthAdjust="spacingAndGlyphs" fill="#231f20" >Spliced</text>
<rect x="399.6" y="180.4" width="10.6" height="10.6" fill="#c8906a" stroke="none" stroke-width="1" />
<text x="414.6" y="190.2" font-size="11" textLength="49.4" lengthAdjust="spacingAndGlyphs" fill="#231f20" >Unspliced</text>
<rect x="495" y="180.4" width="10.6" height="10.6" fill="#0f70b0" stroke="none" stroke-width="1" />
<text x="510.4" y="190.2" font-size="11" textLength="9.6" lengthAdjust="spacingAndGlyphs" fill="#231f20" >VI</text>
<rect x="531" y="180.4" width="10.6" height="10.6" fill="#dc8e10" stroke="none" stroke-width="1" />
<text x="546.6" y="190.2" font-size="11" textLength="14.4" lengthAdjust="spacingAndGlyphs" fill="#231f20" >EM</text>
<text x="155.6" y="219.4" font-size="10.5" textLength="25.9" lengthAdjust="spacingAndGlyphs" fill="#231f20" font-style="italic">Sulf2</text>
<text x="513.6" y="219.4" font-size="10.5" textLength="29.9" lengthAdjust="spacingAndGlyphs" fill="#231f20" font-style="italic">Top2a</text>
<line x1="52.5" y1="237.4" x2="52.5" y2="325" stroke="#d2d2d2" stroke-width="1" />
<line x1="103.5" y1="237.4" x2="103.5" y2="325" stroke="#d2d2d2" stroke-width="1" />
<line x1="153.5" y1="237.4" x2="153.5" y2="325" stroke="#d2d2d2" stroke-width="1" />
<line x1="41.8" y1="250.5" x2="172.4" y2="250.5" stroke="#d2d2d2" stroke-width="1" />
<line x1="41.8" y1="283.5" x2="172.4" y2="283.5" stroke="#d2d2d2" stroke-width="1" />
<line x1="41.8" y1="316.5" x2="172.4" y2="316.5" stroke="#d2d2d2" stroke-width="1" />
<path d="M145.7 261.3h.01M161.6 245.4h.01M153.6 251.2h.01M117.6 277.5h.01M130.6 286.5h.01M164.4 253.2h.01M102.0 286.3h.01M154.7 246.0h.01M152.8 246.6h.01M142.5 279.9h.01M125.4 277.9h.01M121.3 275.3h.01M117.5 272.9h.01M126.2 258.1h.01M135.9 264.2h.01M144.4 270.0h.01M154.7 250.2h.01M143.1 257.8h.01M169.8 244.4h.01M108.0 264.2h.01M111.6 278.0h.01M139.0 252.9h.01M109.8 292.5h.01M100.2 279.0h.01M140.1 269.2h.01M142.0 279.3h.01M162.7 244.0h.01M141.5 254.3h.01M138.0 266.0h.01M135.8 265.1h.01M113.4 267.8h.01M105.3 290.4h.01M126.0 295.5h.01M147.7 254.4h.01M114.5 276.5h.01M121.5 262.0h.01M104.0 289.5h.01M106.5 270.9h.01M127.1 286.0h.01M156.9 240.7h.01M142.5 273.6h.01M167.9 262.5h.01M146.9 261.0h.01M155.4 259.0h.01M118.8 299.4h.01M137.7 261.5h.01M133.3 259.7h.01M126.8 271.5h.01M150.7 273.1h.01M111.2 292.4h.01M123.2 262.0h.01M119.3 265.6h.01M109.5 276.2h.01M159.1 253.5h.01M126.7 268.6h.01M169.7 245.7h.01M143.7 263.5h.01M141.5 257.9h.01M145.2 258.6h.01M149.1 259.0h.01M111.8 279.7h.01M134.7 271.9h.01M128.5 292.2h.01M132.6 274.3h.01M108.9 283.2h.01M118.7 280.8h.01M137.1 241.1h.01M114.8 262.0h.01M166.1 255.7h.01M150.9 263.8h.01M110.1 280.0h.01M164.2 242.3h.01M159.8 241.5h.01M144.2 267.3h.01M124.2 299.6h.01M116.3 280.4h.01M133.2 252.9h.01M114.0 278.6h.01M161.2 246.6h.01M139.4 249.1h.01M141.4 262.9h.01M121.3 260.8h.01M136.0 278.3h.01M124.1 285.4h.01M110.5 294.4h.01M159.0 244.5h.01M136.6 270.7h.01M138.5 261.8h.01M121.8 269.6h.01M151.2 251.1h.01M96.7 275.0h.01M119.5 258.5h.01M108.4 292.3h.01M109.3 280.0h.01M168.9 246.3h.01M152.2 266.5h.01M121.7 253.6h.01M133.4 257.4h.01M162.3 250.1h.01M127.5 275.1h.01M140.1 257.9h.01M154.1 265.6h.01M127.3 273.1h.01M130.7 254.0h.01M149.0 245.5h.01M168.2 253.8h.01M114.8 284.2h.01M109.7 298.1h.01M156.5 258.9h.01M164.4 262.6h.01M109.2 277.8h.01M128.9 266.1h.01M151.3 241.7h.01M116.8 307.7h.01M143.8 257.9h.01M164.5 265.4h.01M133.4 259.0h.01M152.2 256.4h.01M108.3 263.0h.01M113.4 275.1h.01M132.0 279.3h.01M107.4 268.6h.01M131.4 280.8h.01M168.3 248.1h.01M135.3 253.0h.01M122.4 267.8h.01M118.0 271.2h.01M166.5 244.7h.01M129.3 262.9h.01M135.4 261.8h.01M131.9 255.4h.01M152.2 253.9h.01M146.3 268.9h.01M122.7 255.4h.01M161.7 248.4h.01M126.5 263.4h.01M111.3 291.1h.01M128.4 263.7h.01M145.5 276.7h.01M121.2 279.2h.01M155.6 249.6h.01M143.9 250.9h.01M154.0 260.4h.01M144.0 258.0h.01M171.3 249.3h.01M124.4 272.0h.01M123.2 260.4h.01M115.2 277.2h.01M105.7 285.2h.01M121.7 285.7h.01M158.9 249.7h.01M100.3 267.6h.01M146.6 265.9h.01M128.7 256.8h.01M132.6 245.7h.01M146.5 257.5h.01M128.9 282.8h.01M127.8 257.4h.01M140.7 253.1h.01M139.1 249.6h.01M116.6 282.1h.01M101.8 277.5h.01M126.1 262.8h.01M157.1 258.3h.01M153.3 244.8h.01M154.0 258.5h.01M104.4 273.9h.01M171.8 264.0h.01M135.8 261.3h.01M165.6 248.8h.01M105.0 284.7h.01M104.9 287.0h.01M103.6 286.5h.01M129.6 291.9h.01M113.3 267.3h.01M106.3 265.7h.01M135.1 253.6h.01M97.4 274.1h.01M146.2 267.3h.01M117.7 286.6h.01M142.9 249.1h.01M95.9 274.4h.01M121.2 270.4h.01M160.0 255.7h.01M140.9 249.0h.01M149.2 268.9h.01M109.1 269.5h.01M139.5 259.3h.01M96.5 272.6h.01M151.2 243.5h.01M164.5 256.3h.01M103.3 281.4h.01M120.3 264.8h.01M113.3 257.1h.01M107.5 278.7h.01M144.4 259.2h.01M155.8 251.2h.01M122.8 272.4h.01M155.8 251.4h.01M110.6 281.0h.01M161.2 264.1h.01M114.7 277.2h.01M136.8 255.3h.01M145.1 258.3h.01M140.1 255.1h.01M104.5 276.5h.01M146.6 257.4h.01M139.3 250.4h.01M161.3 255.8h.01M156.1 250.8h.01M125.6 274.7h.01M150.1 253.7h.01M157.0 242.7h.01M111.7 277.9h.01M100.8 281.2h.01M147.5 260.3h.01M116.6 277.5h.01M132.9 250.8h.01M166.6 246.0h.01M120.5 259.0h.01M115.8 270.7h.01M131.4 264.4h.01M135.4 240.7h.01M109.4 283.3h.01M128.7 271.5h.01M110.2 279.8h.01M144.7 254.3h.01M156.4 247.3h.01M122.3 262.2h.01M125.8 268.4h.01M135.7 258.6h.01M117.1 278.3h.01M112.3 266.0h.01M125.7 274.5h.01M133.9 268.1h.01M106.8 282.2h.01M150.8 250.2h.01M144.4 266.2h.01M113.3 259.8h.01M109.8 287.5h.01M155.2 255.5h.01M112.5 283.6h.01M113.1 284.4h.01M107.3 275.8h.01M106.1 281.2h.01M167.1 252.5h.01M122.6 278.8h.01M124.0 275.3h.01M147.1 264.2h.01M121.1 288.6h.01M137.1 276.3h.01M163.4 250.1h.01M119.1 257.4h.01M155.5 263.6h.01M107.8 281.5h.01M156.8 256.0h.01M140.8 246.5h.01M123.8 265.4h.01M113.3 294.9h.01M135.3 261.1h.01M155.0 255.9h.01M124.5 293.3h.01M128.8 288.7h.01M137.9 262.5h.01M151.6 252.0h.01M106.8 275.6h.01M116.8 282.5h.01M158.5 255.1h.01M146.4 259.6h.01M156.4 263.6h.01M165.6 245.2h.01M163.3 256.0h.01M158.0 257.7h.01M134.7 278.6h.01" stroke="#fdbf6f" stroke-width="1.00" stroke-linecap="round" opacity="0.7" fill="none"/>
<path d="M124.8 261.5h.01M104.5 269.8h.01M128.8 269.5h.01M119.0 267.6h.01M121.5 260.9h.01M110.1 271.0h.01M99.4 278.8h.01M124.3 269.4h.01M101.7 267.5h.01M100.6 272.2h.01M121.2 263.7h.01M127.4 280.4h.01M109.0 281.0h.01M107.1 274.6h.01M128.6 266.7h.01M114.2 285.6h.01M118.9 266.2h.01M102.4 275.8h.01M126.8 271.4h.01M104.9 280.4h.01M116.6 274.1h.01M99.3 276.8h.01M121.6 279.8h.01M129.3 273.4h.01M104.2 281.3h.01M109.9 278.5h.01M114.8 256.0h.01M119.1 272.3h.01M108.1 273.4h.01M119.0 270.9h.01M114.9 275.3h.01M123.0 262.8h.01M102.7 266.2h.01M122.4 268.2h.01M115.4 264.8h.01M119.7 265.0h.01M108.6 270.1h.01M119.2 265.2h.01M112.1 255.8h.01M114.8 279.2h.01M101.6 280.8h.01M130.6 268.3h.01M126.4 277.1h.01M105.8 276.4h.01M114.6 257.7h.01M104.9 270.5h.01M109.2 265.5h.01M122.4 262.0h.01M112.8 272.3h.01M101.6 264.7h.01M109.7 276.2h.01M97.3 271.0h.01M107.1 277.5h.01M107.2 274.6h.01M103.8 275.3h.01M101.5 278.5h.01M111.3 268.9h.01M104.0 273.0h.01M115.2 258.2h.01M125.7 263.2h.01M113.6 284.4h.01M122.4 279.7h.01M118.5 277.6h.01M104.4 282.2h.01M101.3 274.3h.01M129.5 271.4h.01M113.1 271.2h.01M122.3 265.2h.01M100.9 277.3h.01M117.0 269.8h.01M122.8 262.2h.01M124.0 264.0h.01M96.6 274.4h.01M113.4 268.7h.01M117.7 284.9h.01M121.1 266.0h.01M101.3 277.5h.01M109.1 277.9h.01M125.1 268.9h.01M109.5 265.9h.01M112.0 270.8h.01M130.1 267.2h.01M109.8 275.6h.01M101.6 279.9h.01M116.0 280.8h.01M102.1 273.8h.01M102.6 278.9h.01M114.2 267.2h.01M131.5 270.4h.01M109.9 259.7h.01" stroke="#fdbf6f" stroke-width="1.00" stroke-linecap="round" opacity="0.7" fill="none"/>
<path d="M91.0 281.8h.01M91.8 252.8h.01M99.0 273.6h.01M98.6 255.6h.01M103.4 281.4h.01M85.6 259.3h.01M99.5 264.2h.01M93.2 280.6h.01M91.0 271.6h.01M98.2 246.2h.01M89.5 248.0h.01M82.5 285.6h.01M92.8 243.3h.01M86.0 255.2h.01M91.1 284.2h.01M97.2 242.7h.01M96.9 249.1h.01M104.5 251.4h.01M93.8 245.8h.01M85.8 262.8h.01M90.5 268.1h.01M89.5 256.0h.01M87.7 246.8h.01M97.6 277.7h.01M91.1 277.4h.01M83.1 266.7h.01M99.2 248.1h.01M94.3 265.8h.01M97.1 269.7h.01M95.6 260.8h.01M98.8 280.0h.01M95.2 259.2h.01M102.4 264.5h.01M97.5 247.0h.01M97.4 266.8h.01M97.5 275.7h.01M86.3 274.2h.01M94.0 253.3h.01M93.4 285.6h.01M96.2 273.7h.01M86.8 260.6h.01M104.8 260.3h.01M95.6 276.3h.01M87.7 249.7h.01M84.7 270.1h.01M93.3 273.6h.01M94.5 264.7h.01M90.7 280.4h.01M95.6 262.6h.01M91.2 262.5h.01M98.3 254.5h.01M90.7 282.5h.01M94.8 255.9h.01M100.9 272.6h.01M109.0 260.0h.01M89.0 283.2h.01M92.2 283.7h.01M90.0 243.3h.01M99.7 285.8h.01M88.1 268.6h.01M92.1 245.2h.01M94.8 263.9h.01M89.1 244.2h.01M89.3 266.2h.01M92.1 250.2h.01M82.4 258.2h.01M86.3 255.4h.01M92.5 268.5h.01M95.9 278.2h.01M93.9 283.2h.01M84.4 256.5h.01M92.2 267.1h.01M99.8 242.3h.01M98.3 258.4h.01M94.5 284.3h.01M89.7 247.2h.01M98.8 280.3h.01M91.5 270.7h.01M88.0 254.9h.01M90.2 276.2h.01M103.7 254.7h.01M96.3 281.4h.01M102.0 245.6h.01M92.1 247.2h.01M100.6 275.0h.01M91.4 261.8h.01M94.1 248.5h.01M109.0 264.6h.01M99.6 255.1h.01M92.0 266.2h.01M94.5 274.7h.01M97.0 279.7h.01M102.3 244.6h.01M92.1 268.1h.01M84.6 285.3h.01M93.3 262.2h.01M95.1 275.9h.01M95.7 246.3h.01M102.9 280.4h.01M96.9 267.6h.01M99.9 281.1h.01M88.4 276.6h.01M100.2 280.2h.01M107.6 244.5h.01M99.6 273.5h.01M96.5 250.7h.01M95.9 253.7h.01M105.7 256.3h.01M89.4 268.0h.01M94.3 269.6h.01M97.8 283.0h.01M99.5 242.6h.01M92.4 250.5h.01M96.8 257.9h.01M93.3 278.0h.01M95.7 266.2h.01M94.2 264.5h.01M88.2 275.4h.01M94.9 270.8h.01M100.3 254.8h.01M89.2 245.8h.01M93.6 262.3h.01M99.0 280.7h.01M88.6 268.3h.01M96.1 244.3h.01M88.6 261.4h.01M101.8 258.9h.01M108.9 267.6h.01M107.1 267.8h.01M93.7 283.9h.01M99.4 256.9h.01M95.7 260.0h.01M95.6 269.0h.01M104.3 281.0h.01M87.1 273.1h.01M101.3 262.7h.01M94.7 277.8h.01M103.5 263.4h.01M96.1 284.4h.01M91.0 254.4h.01M96.7 247.6h.01M99.4 278.5h.01M95.2 255.1h.01M97.9 279.3h.01M91.9 268.8h.01M82.2 264.4h.01M100.4 245.8h.01M99.2 276.6h.01M95.9 244.9h.01M95.4 284.5h.01M101.2 280.6h.01M92.3 255.3h.01M90.8 247.6h.01M93.9 281.0h.01M102.1 263.1h.01M86.7 247.5h.01M102.2 263.9h.01M91.2 252.9h.01M88.4 259.9h.01M102.6 270.2h.01M94.4 282.3h.01M87.2 277.2h.01M92.8 249.1h.01M100.6 263.0h.01M102.2 263.6h.01M92.4 285.5h.01M97.4 245.8h.01M99.3 264.5h.01M91.1 282.2h.01M97.1 259.5h.01M94.8 253.5h.01M91.8 266.5h.01M92.0 256.1h.01M95.4 282.8h.01M95.2 245.7h.01M91.6 251.1h.01M92.4 245.7h.01M101.7 273.3h.01M96.3 254.9h.01M100.3 281.6h.01M102.2 281.3h.01M98.5 283.2h.01M108.6 253.3h.01M90.0 242.0h.01M99.9 259.1h.01M93.1 284.4h.01M106.1 275.6h.01M105.2 244.6h.01M83.3 272.9h.01M89.2 282.4h.01M99.0 284.6h.01M99.7 273.5h.01M99.4 280.0h.01M94.6 279.0h.01M97.7 257.8h.01M98.9 246.4h.01M94.5 274.0h.01M101.2 248.0h.01M81.4 258.9h.01M98.8 285.8h.01M88.8 266.6h.01M100.8 265.0h.01M93.6 283.7h.01M89.7 254.5h.01M97.2 286.0h.01M89.5 282.1h.01M89.5 258.0h.01M85.6 256.4h.01M94.8 247.6h.01M98.0 282.3h.01M101.1 250.2h.01M94.1 242.4h.01M101.3 281.2h.01M95.1 268.3h.01M94.4 271.6h.01M98.4 274.3h.01M101.4 243.9h.01M93.0 246.0h.01M93.5 264.0h.01M94.0 244.2h.01M95.5 264.2h.01M89.6 274.4h.01M101.2 270.9h.01M92.6 269.1h.01M97.8 244.0h.01M90.0 252.4h.01M97.2 281.5h.01M97.3 247.4h.01M92.5 265.5h.01M107.1 244.2h.01" stroke="#8fbc8f" stroke-width="1.00" stroke-linecap="round" opacity="0.65" fill="none"/>
<path d="M90.5 271.9h.01M88.3 285.3h.01M90.6 251.6h.01M95.0 264.3h.01M97.5 246.1h.01M101.3 259.3h.01M101.5 283.8h.01M101.3 245.8h.01M102.5 275.3h.01M97.6 280.1h.01M82.3 264.4h.01M92.1 277.1h.01M95.2 261.4h.01M90.3 257.5h.01M99.4 264.3h.01M90.5 250.6h.01M86.5 255.5h.01M103.1 255.4h.01M97.7 285.5h.01M94.5 256.7h.01M99.5 252.1h.01M100.4 283.3h.01M95.4 248.1h.01M80.0 284.5h.01M88.3 279.5h.01M89.8 270.5h.01M86.1 260.8h.01M94.4 250.7h.01M101.3 246.7h.01M89.6 246.6h.01M85.1 257.4h.01M107.2 259.9h.01M89.8 282.6h.01M84.4 265.6h.01M94.7 285.6h.01M96.0 273.7h.01M88.1 248.4h.01M98.5 266.4h.01M89.6 249.0h.01M86.5 243.7h.01M94.3 283.5h.01M98.4 256.9h.01M88.6 250.3h.01M95.3 246.5h.01M92.3 270.7h.01M109.0 262.3h.01M88.0 242.5h.01M102.7 273.5h.01M92.6 253.3h.01M92.1 276.3h.01M98.1 263.5h.01M99.3 265.6h.01M101.9 262.1h.01M95.3 271.7h.01M88.8 285.6h.01M89.2 277.1h.01M96.6 245.0h.01M97.1 263.8h.01M102.8 252.3h.01M95.9 246.5h.01M100.4 250.6h.01M103.6 252.9h.01M94.2 284.2h.01M82.6 274.8h.01M84.7 279.5h.01M82.9 272.7h.01M104.1 255.9h.01M87.1 259.2h.01M101.6 261.4h.01M97.1 254.9h.01M105.0 260.5h.01M100.0 275.9h.01M92.3 245.3h.01M91.6 254.2h.01M93.6 263.1h.01M94.2 271.8h.01M89.3 270.4h.01M92.8 273.9h.01M104.3 246.6h.01M81.1 250.0h.01M94.8 255.6h.01M86.7 254.4h.01M94.3 275.2h.01M98.9 285.7h.01M92.6 272.1h.01M98.4 243.5h.01M81.9 255.1h.01M100.7 277.3h.01M88.8 282.7h.01M97.4 268.2h.01M94.3 257.3h.01M80.0 257.6h.01M87.7 269.9h.01M94.5 280.0h.01M103.9 257.0h.01M95.0 250.4h.01M94.8 242.1h.01M83.1 248.0h.01M103.0 279.5h.01M105.6 269.5h.01M93.2 285.6h.01M91.5 245.1h.01M81.7 258.1h.01M99.2 277.0h.01M109.0 271.1h.01M98.0 244.9h.01M101.8 259.7h.01M96.8 270.1h.01M86.1 272.3h.01M102.4 261.9h.01M84.4 250.3h.01M91.5 284.5h.01M95.0 262.5h.01M99.2 273.6h.01M95.9 265.5h.01M95.7 245.6h.01M87.7 252.4h.01M84.0 244.8h.01M93.4 250.4h.01M88.0 250.8h.01M83.8 260.3h.01M84.1 256.2h.01M89.6 258.0h.01M80.0 277.9h.01M83.6 242.9h.01M81.6 246.5h.01M94.3 277.5h.01M95.9 265.5h.01M107.0 261.3h.01M82.5 253.8h.01M88.2 265.9h.01M99.4 251.7h.01M91.5 279.8h.01M90.7 278.3h.01M105.0 256.2h.01M90.6 243.1h.01M84.9 281.1h.01M83.8 255.1h.01M95.3 270.9h.01M95.1 279.8h.01M83.4 277.1h.01M86.1 280.0h.01M96.7 263.5h.01M97.0 279.1h.01M88.5 262.3h.01M97.4 253.6h.01M97.0 263.2h.01M80.5 256.8h.01M90.8 275.8h.01M95.9 278.6h.01M89.0 248.2h.01M80.0 249.2h.01M91.0 258.9h.01M98.3 262.4h.01M104.1 284.1h.01M80.0 283.4h.01M109.0 284.5h.01M85.1 274.1h.01M99.7 271.8h.01M101.6 253.9h.01M99.9 258.4h.01M94.0 242.1h.01M84.9 278.7h.01M97.4 254.1h.01M88.0 245.5h.01M80.0 255.9h.01M109.0 256.2h.01M98.0 273.9h.01M105.7 242.3h.01M86.6 252.1h.01" stroke="#b2df8a" stroke-width="1.00" stroke-linecap="round" opacity="0.7" fill="none"/>
<path d="M98.3 271.8h.01M93.4 258.8h.01M96.7 261.4h.01M102.1 277.5h.01M100.9 244.0h.01M97.0 254.0h.01M97.2 254.9h.01M96.5 283.7h.01M94.6 252.3h.01M104.9 244.9h.01M97.0 260.1h.01M92.3 269.6h.01M95.0 249.3h.01M100.0 277.4h.01M99.6 251.1h.01M96.4 271.9h.01M94.3 249.6h.01M97.1 279.2h.01M90.1 251.3h.01M91.6 273.0h.01M100.3 277.4h.01M95.0 253.5h.01M98.5 246.8h.01M102.0 267.0h.01M99.7 263.5h.01M97.1 262.7h.01M105.8 275.0h.01M99.7 262.0h.01M95.5 263.4h.01M100.0 263.0h.01M98.7 261.6h.01M93.5 259.6h.01M97.3 249.6h.01M96.3 255.1h.01M88.9 253.9h.01M96.3 253.2h.01M95.8 275.1h.01M95.2 247.7h.01M90.2 251.4h.01M95.5 264.6h.01M96.8 255.8h.01M97.4 252.8h.01M92.3 258.3h.01M99.6 263.6h.01M92.0 270.6h.01M96.1 282.9h.01M102.4 278.0h.01M94.2 260.6h.01M94.9 261.5h.01M101.4 260.0h.01M95.4 252.8h.01M95.8 282.0h.01M97.9 245.8h.01M101.3 251.4h.01M87.9 270.1h.01M93.6 267.2h.01M92.9 254.4h.01M92.5 281.4h.01M93.5 259.8h.01M93.6 267.4h.01M98.2 246.7h.01M93.4 279.5h.01M97.5 247.2h.01M98.6 259.2h.01M94.0 279.3h.01M97.5 281.7h.01M103.7 280.1h.01M98.3 276.9h.01M94.4 252.6h.01M96.7 244.3h.01M93.2 261.5h.01M98.1 245.6h.01M100.5 282.4h.01M93.6 243.3h.01M96.1 256.3h.01M101.5 251.3h.01M95.0 243.6h.01M97.8 263.5h.01M92.8 246.1h.01M93.7 279.9h.01M94.9 271.2h.01M105.7 258.2h.01M95.4 277.5h.01M94.9 275.7h.01M94.7 256.4h.01M96.3 277.7h.01M99.6 281.1h.01M97.8 268.4h.01M105.2 257.4h.01M97.9 279.9h.01" stroke="#1f78b4" stroke-width="1.00" stroke-linecap="round" opacity="0.5" fill="none"/>
<path d="M101.1 292.8h.01M64.6 299.4h.01M54.9 315.3h.01M96.9 294.5h.01M84.3 296.5h.01M60.1 306.0h.01M77.3 295.4h.01M71.1 318.3h.01M96.4 286.5h.01M72.2 315.8h.01M62.0 314.9h.01M51.5 314.1h.01M65.7 302.4h.01M105.9 296.4h.01M65.9 319.9h.01M72.5 300.5h.01M101.8 290.2h.01M52.9 322.0h.01M66.7 311.0h.01M99.1 305.6h.01M53.8 311.7h.01M101.4 295.6h.01M92.1 289.1h.01M62.7 323.7h.01M80.2 298.0h.01M74.7 291.6h.01M87.2 298.3h.01M66.2 308.3h.01M75.3 316.5h.01M62.2 309.1h.01M65.7 309.3h.01M60.9 315.4h.01M102.6 301.3h.01M97.8 293.6h.01M71.9 312.8h.01M88.7 301.5h.01M75.8 302.8h.01M65.3 310.1h.01M68.9 308.1h.01M99.9 287.4h.01M71.3 314.1h.01M77.9 295.1h.01M103.8 298.2h.01M68.3 314.0h.01M93.5 295.5h.01M54.3 310.2h.01M89.1 296.8h.01M94.7 298.4h.01M97.0 298.9h.01M103.3 293.1h.01M90.8 303.4h.01M101.4 288.8h.01M65.6 310.9h.01M74.4 295.7h.01M63.4 315.2h.01M54.9 315.6h.01M72.7 303.5h.01M91.6 304.0h.01M93.7 300.2h.01M101.0 292.7h.01M59.9 303.4h.01M68.3 314.7h.01M100.9 307.7h.01M97.1 291.2h.01M89.9 298.2h.01M67.4 307.1h.01M75.8 306.7h.01M96.6 298.5h.01M72.4 314.1h.01M91.1 291.2h.01M96.0 304.5h.01M73.1 300.2h.01M99.1 295.1h.01M73.5 312.7h.01M92.2 301.0h.01M82.3 295.7h.01M66.2 304.9h.01M77.6 300.9h.01M82.6 301.0h.01M81.7 308.7h.01M52.9 307.7h.01M104.7 293.5h.01M103.7 294.9h.01M53.4 318.8h.01M102.1 294.8h.01M82.3 310.7h.01M58.0 316.1h.01M96.4 299.9h.01M74.7 308.5h.01M92.8 307.3h.01M90.1 286.1h.01M82.1 309.4h.01M52.1 314.4h.01M93.7 294.2h.01M85.2 294.2h.01M94.7 284.1h.01M63.7 308.1h.01M90.8 293.2h.01M98.3 296.7h.01M65.7 300.5h.01M75.6 313.4h.01M68.7 309.7h.01M49.7 315.6h.01M60.8 307.5h.01M66.0 304.5h.01M53.2 308.6h.01M90.0 294.4h.01M73.1 305.9h.01M80.3 301.3h.01M62.0 302.6h.01M68.8 306.3h.01M88.6 293.0h.01M75.8 305.6h.01M86.7 310.7h.01M74.3 309.1h.01M79.3 301.0h.01M94.6 285.6h.01M61.1 303.0h.01M74.0 295.1h.01M88.8 302.7h.01M52.9 311.0h.01M102.1 292.3h.01M75.4 300.9h.01M63.5 311.1h.01M94.4 304.2h.01M92.4 292.4h.01M83.2 298.9h.01M97.5 289.2h.01M56.9 319.0h.01M76.0 298.2h.01M87.4 292.1h.01M96.2 286.3h.01M81.3 293.3h.01M83.6 303.7h.01M77.1 319.6h.01M78.5 297.2h.01M82.2 307.3h.01M99.5 294.7h.01M92.0 290.0h.01M89.1 296.5h.01M99.3 291.8h.01M51.9 311.9h.01M96.2 306.6h.01M70.5 295.5h.01M91.5 299.3h.01M66.8 310.9h.01M73.9 302.0h.01M94.9 296.3h.01M54.0 320.4h.01M66.1 310.2h.01M77.4 306.4h.01M97.6 298.3h.01M59.7 299.9h.01M98.0 302.9h.01M68.6 321.9h.01M68.7 314.0h.01M82.3 307.6h.01M82.0 293.0h.01M97.2 293.5h.01M95.6 290.1h.01M62.1 307.6h.01M92.6 302.4h.01M82.4 296.5h.01M70.5 306.3h.01M87.4 287.4h.01M98.1 292.9h.01M76.1 305.0h.01M97.8 289.7h.01M55.2 310.1h.01M63.5 322.0h.01M88.4 291.1h.01M64.0 303.8h.01M79.7 297.8h.01M79.7 310.0h.01M62.9 323.6h.01M91.5 299.0h.01M88.3 294.2h.01M56.8 311.1h.01M66.6 315.5h.01M91.1 291.7h.01M102.7 300.5h.01M100.4 301.4h.01M77.3 304.3h.01M71.4 310.6h.01M75.8 309.1h.01M63.2 320.1h.01M74.3 298.9h.01M65.3 316.9h.01M57.8 310.9h.01M68.7 303.3h.01M53.7 315.8h.01M74.9 303.7h.01M85.2 294.0h.01M81.4 292.1h.01M100.4 287.0h.01M101.3 301.2h.01M88.9 310.2h.01M100.0 296.9h.01M76.8 311.3h.01M91.9 293.7h.01M65.2 309.2h.01M79.1 304.7h.01M100.3 286.2h.01M80.0 296.5h.01M77.6 304.3h.01M91.8 294.9h.01M64.3 303.6h.01M95.8 297.3h.01M50.4 315.2h.01M65.3 315.9h.01M59.6 312.4h.01M63.2 308.8h.01M101.4 293.0h.01M50.9 315.5h.01M64.5 305.9h.01M80.1 300.1h.01M89.8 302.4h.01M93.3 300.1h.01M73.8 313.4h.01M57.8 302.9h.01M95.1 292.9h.01M55.6 311.8h.01M53.9 316.2h.01M61.4 308.7h.01M75.4 301.6h.01M102.7 296.4h.01M89.8 298.9h.01M77.7 296.6h.01M81.3 310.1h.01M89.8 303.9h.01M82.5 297.9h.01M70.1 312.4h.01M53.3 310.9h.01M63.5 317.4h.01M91.7 295.6h.01M82.3 296.5h.01M92.2 294.4h.01M50.6 312.0h.01M99.1 294.5h.01M71.1 307.9h.01M100.1 293.1h.01M80.8 298.8h.01M70.8 284.6h.01M94.4 296.2h.01M79.2 291.3h.01M87.0 300.7h.01M61.2 318.5h.01M83.3 302.6h.01M68.3 305.8h.01M53.7 314.1h.01M56.9 312.9h.01M74.6 301.8h.01M62.8 307.3h.01M89.1 292.5h.01M59.4 319.7h.01M50.7 316.6h.01M106.1 295.8h.01M66.3 307.6h.01M77.7 304.1h.01M60.9 310.7h.01M62.4 313.9h.01M73.7 310.6h.01M93.2 297.7h.01M50.5 312.6h.01M93.4 291.4h.01M107.4 299.5h.01M79.5 301.1h.01M68.7 306.2h.01M66.1 318.2h.01M62.5 317.6h.01M68.7 311.2h.01M95.0 292.9h.01M93.4 298.5h.01M87.3 302.4h.01M50.6 315.7h.01M50.4 308.2h.01M86.5 291.3h.01M87.3 301.5h.01M67.9 310.8h.01M95.9 293.4h.01M58.6 305.7h.01M69.6 298.8h.01M55.4 312.4h.01M81.4 293.0h.01M56.8 319.2h.01M62.4 318.0h.01M98.1 311.1h.01M79.1 308.3h.01M84.3 296.9h.01M87.6 293.6h.01M74.5 284.1h.01M59.3 308.9h.01M87.3 298.0h.01M58.6 318.8h.01M66.0 313.0h.01M75.6 308.3h.01M56.7 315.1h.01M57.3 317.5h.01M88.7 307.2h.01M87.5 292.4h.01M68.9 305.1h.01M67.7 300.0h.01M65.1 319.6h.01M81.3 309.9h.01M83.1 305.6h.01M97.6 286.8h.01M52.6 316.8h.01M98.5 292.2h.01M103.7 291.6h.01M68.3 307.1h.01M90.4 300.7h.01M93.6 293.6h.01M87.2 304.3h.01M66.2 310.7h.01M82.9 299.4h.01M97.1 293.6h.01M54.7 312.0h.01M77.9 308.6h.01M50.6 315.1h.01M96.3 296.5h.01M91.1 294.8h.01M48.9 308.4h.01M92.4 302.1h.01M84.8 293.8h.01M58.4 317.1h.01M79.4 305.4h.01M83.3 290.9h.01M65.9 303.6h.01" stroke="#ff7f00" stroke-width="1.00" stroke-linecap="round" opacity="0.45" fill="none"/>
<path d="M65.5 315.8h.01M65.7 323.3h.01M52.8 319.2h.01M66.3 314.1h.01M60.5 319.4h.01M62.7 317.0h.01M66.7 322.8h.01M56.9 315.4h.01M68.2 312.4h.01M67.4 318.2h.01M65.8 317.1h.01M56.4 317.0h.01M59.6 312.6h.01M51.8 319.1h.01M64.7 322.2h.01M67.6 313.2h.01M51.5 320.9h.01M64.4 316.6h.01M63.3 323.9h.01M48.8 319.1h.01M68.2 317.5h.01M58.5 320.8h.01M53.9 319.3h.01M48.7 316.5h.01M65.2 319.8h.01M55.4 316.7h.01M59.3 313.5h.01M52.3 323.1h.01M61.4 317.1h.01M56.7 316.5h.01M65.7 318.8h.01M62.7 314.1h.01M63.9 314.6h.01M53.5 316.8h.01M49.4 316.7h.01M67.4 318.2h.01M68.6 320.8h.01M62.2 316.8h.01M68.3 319.2h.01M63.5 319.5h.01M61.3 315.3h.01M57.2 318.6h.01M55.8 315.6h.01M58.8 320.7h.01M52.9 319.1h.01M57.4 318.0h.01M59.2 314.7h.01M48.7 318.3h.01M56.7 316.1h.01M54.3 319.8h.01M62.0 317.7h.01M65.9 316.0h.01M61.5 320.3h.01M62.6 319.8h.01M61.5 316.5h.01M53.6 320.9h.01M56.3 317.3h.01M66.6 317.2h.01M68.8 318.3h.01M52.0 316.1h.01M48.2 316.9h.01M69.2 317.6h.01M66.9 321.8h.01M61.4 321.7h.01M66.0 317.4h.01M61.1 322.0h.01M67.9 317.9h.01M53.4 319.0h.01M57.8 320.2h.01M62.8 318.7h.01M52.7 324.0h.01M63.7 318.6h.01M53.8 315.0h.01M63.6 321.3h.01M65.7 317.0h.01M57.3 317.2h.01M69.8 310.5h.01M61.9 320.5h.01M64.6 320.0h.01M48.5 320.0h.01M50.5 320.4h.01M63.7 322.2h.01M68.7 317.9h.01M61.8 320.3h.01M68.1 316.1h.01M49.3 317.1h.01M67.6 320.6h.01M67.3 319.0h.01M61.8 314.7h.01M57.4 318.9h.01M63.5 317.5h.01M53.4 316.0h.01M62.7 319.1h.01M63.3 317.0h.01M59.9 314.1h.01M53.7 315.2h.01M48.0 322.4h.01M52.3 314.2h.01M66.3 318.6h.01M52.7 319.5h.01M49.6 319.6h.01M53.4 314.9h.01M59.4 317.2h.01M60.9 318.4h.01M67.3 320.0h.01M66.8 316.4h.01M69.3 315.1h.01M67.5 320.5h.01M57.9 320.8h.01M51.1 318.9h.01" stroke="#ff7f00" stroke-width="1.00" stroke-linecap="round" opacity="0.45" fill="none"/>
<path d="M82.2 310.1h.01M74.5 307.9h.01M75.7 323.4h.01M94.5 294.6h.01M87.9 314.4h.01M70.6 310.3h.01M95.6 300.6h.01M93.3 292.1h.01M88.3 295.1h.01M77.3 312.2h.01M77.0 315.4h.01M80.7 301.4h.01M89.0 309.0h.01M91.5 295.7h.01M96.5 297.2h.01M95.6 299.2h.01M80.9 311.9h.01M80.8 298.3h.01M77.8 320.1h.01M85.6 308.1h.01M70.7 314.0h.01M70.2 311.0h.01M68.6 308.4h.01M74.4 305.8h.01M79.9 312.4h.01M88.1 301.0h.01M68.9 311.4h.01M71.5 312.8h.01M92.0 308.8h.01M87.3 301.7h.01M87.6 300.0h.01M93.2 306.7h.01M89.2 304.7h.01M85.0 305.6h.01M88.3 299.3h.01M67.9 309.8h.01M72.5 308.4h.01M88.7 299.7h.01M74.6 312.2h.01M85.3 307.1h.01M78.6 313.5h.01M82.3 308.7h.01M93.1 300.3h.01M85.1 299.5h.01M76.1 300.0h.01M75.9 309.4h.01M89.1 296.7h.01M85.9 300.9h.01M81.1 306.8h.01M90.0 294.3h.01M85.6 298.5h.01M96.2 296.1h.01M88.3 303.5h.01M92.5 295.8h.01M86.2 307.2h.01M88.6 301.3h.01M89.9 295.7h.01M72.6 315.2h.01M88.0 313.7h.01M84.5 301.9h.01M74.8 319.9h.01M95.1 305.3h.01M93.5 307.3h.01M93.0 294.4h.01M85.6 316.3h.01M83.0 307.6h.01M93.9 296.9h.01M80.5 307.5h.01M94.2 301.6h.01M81.5 308.3h.01M78.6 309.3h.01M81.0 315.7h.01M73.8 309.9h.01M78.8 304.2h.01M76.6 316.4h.01M94.3 302.1h.01M99.3 300.4h.01M69.7 311.1h.01M74.5 319.7h.01M71.4 318.6h.01M100.0 303.7h.01M68.5 311.0h.01M89.0 303.5h.01M77.4 309.6h.01M71.0 307.2h.01M74.7 309.3h.01M91.7 306.5h.01M69.2 315.0h.01M91.4 296.3h.01M87.7 308.2h.01M79.1 315.6h.01M78.4 316.1h.01M85.5 300.4h.01M86.8 303.6h.01M81.4 314.0h.01M77.2 307.7h.01M80.4 304.6h.01M96.9 300.8h.01M88.9 311.2h.01M89.5 295.3h.01" stroke="#6a3d9a" stroke-width="1.00" stroke-linecap="round" opacity="0.5" fill="none"/>
<path d="M87.7 312.9h.01M94.8 301.0h.01M89.5 302.3h.01M83.5 307.9h.01M94.0 303.4h.01M95.0 300.6h.01M76.0 312.1h.01M91.0 314.8h.01M86.6 308.9h.01M100.0 293.2h.01M84.6 319.8h.01M90.4 310.5h.01M82.5 310.6h.01M97.3 299.8h.01M94.4 291.2h.01M77.1 312.3h.01M91.4 285.7h.01M99.8 302.1h.01M76.6 303.8h.01M103.4 294.5h.01M82.3 305.5h.01M94.2 292.1h.01M79.2 313.4h.01M90.4 305.1h.01M92.9 305.0h.01M106.8 298.8h.01M100.2 295.5h.01M94.8 304.8h.01M77.1 312.6h.01M91.3 307.3h.01M87.9 306.8h.01M101.2 288.5h.01M94.7 298.0h.01M87.9 305.3h.01M87.8 307.2h.01M98.6 297.4h.01M78.6 311.7h.01M95.8 292.2h.01M97.5 301.1h.01M82.8 298.8h.01" stroke="#b2df8a" stroke-width="1.00" stroke-linecap="round" opacity="0.6" fill="none"/>
<path d="M92.4 294.7h.01M81.2 310.6h.01M97.5 296.7h.01M88.4 297.5h.01M99.2 300.7h.01M98.0 297.2h.01M98.4 286.0h.01M82.6 311.0h.01M100.7 287.9h.01M89.1 300.7h.01M84.8 309.4h.01M86.5 303.1h.01M91.2 307.9h.01M98.6 290.6h.01M94.9 304.1h.01M81.4 312.3h.01M98.9 299.2h.01M89.9 300.6h.01M97.3 293.1h.01M77.7 309.7h.01" stroke="#1f78b4" stroke-width="1.00" stroke-linecap="round" opacity="0.45" fill="none"/>
<rect x="41.5" y="237.5" width="131" height="88" fill="none" stroke="#8c8c8c" stroke-width="1" />
<path d="M48.00,234.82 L48.70,234.75 L49.40,234.67 L50.10,234.59 L50.80,234.50 L51.50,234.41 L52.20,234.32 L52.90,234.22 L53.60,234.13 L54.30,234.03 L55.00,233.94 L55.70,233.85 L56.40,233.77 L57.10,233.70 L57.80,233.64 L58.50,233.59 L59.20,233.54 L59.90,233.52 L60.60,233.50 L61.30,233.50 L62.00,233.51 L62.70,233.54 L63.40,233.58 L64.10,233.63 L64.80,233.69 L65.50,233.76 L66.20,233.84 L66.90,233.92 L67.60,234.01 L68.30,234.11 L69.00,234.20 L69.70,234.29 L70.40,234.38 L71.10,234.47 L71.80,234.56 L72.50,234.64 L73.20,234.71 L73.90,234.78 L74.60,234.84 L75.30,234.89 L76.00,234.93 L76.70,234.97 L77.40,235.00 L78.10,235.03 L78.80,235.04 L79.50,235.05 L80.20,235.06 L80.90,235.06 L81.60,235.05 L82.30,235.04 L83.00,235.02 L83.70,235.00 L84.40,234.98 L85.10,234.95 L85.80,234.92 L86.50,234.89 L87.20,234.85 L87.90,234.81 L88.60,234.77 L89.30,234.73 L90.00,234.69 L90.70,234.65 L91.40,234.61 L92.10,234.57 L92.80,234.53 L93.50,234.49 L94.20,234.45 L94.90,234.42 L95.60,234.39 L96.30,234.37 L97.00,234.34 L97.70,234.33 L98.40,234.31 L99.10,234.30 L99.80,234.30 L100.50,234.30 L101.20,234.31 L101.90,234.32 L102.60,234.33 L103.30,234.35 L104.00,234.38 L104.70,234.40 L105.40,234.44 L106.10,234.47 L106.80,234.51 L107.50,234.55 L108.20,234.59 L108.90,234.63 L109.60,234.67 L110.30,234.71 L111.00,234.75 L111.70,234.80 L112.40,234.84 L113.10,234.88 L113.80,234.91 L114.50,234.95 L115.20,234.99 L115.90,235.02 L116.60,235.05 L117.30,235.08 L118.00,235.10 L118.70,235.13 L119.40,235.15 L120.10,235.17 L120.80,235.19 L121.50,235.20 L122.20,235.21 L122.90,235.23 L123.60,235.24 L124.30,235.25 L125.00,235.26 L125.70,235.26 L126.40,235.27 L127.10,235.27 L127.80,235.28 L128.50,235.28 L129.20,235.29 L129.90,235.29 L130.60,235.29 L131.30,235.29 L132.00,235.29 L132.70,235.30 L133.40,235.30 L134.10,235.30 L134.80,235.30 L135.50,235.30 L136.20,235.30 L136.90,235.30 L137.60,235.30 L138.30,235.30 L139.00,235.30 L139.70,235.30 L140.40,235.30 L141.10,235.30 L141.80,235.30 L142.50,235.30 L143.20,235.30 L143.90,235.30 L144.60,235.30 L145.30,235.30 L146.00,235.30 L146.70,235.30 L147.40,235.30 L148.10,235.30 L148.80,235.30 L149.50,235.30 L150.20,235.30 L150.90,235.30 L151.60,235.30 L152.30,235.30 L153.00,235.30 L153.70,235.30 L154.40,235.30 L155.10,235.30 L155.80,235.30 L156.50,235.30 L157.20,235.30 L157.90,235.30 L158.60,235.30 L159.30,235.30 L160.00,235.30 L160.70,235.30 L161.40,235.30 L162.10,235.30 L162.80,235.30 L163.50,235.30 L164.20,235.30 L164.90,235.30 L165.60,235.30 L166.30,235.30 L167.00,235.30" fill="none" stroke="#ff7f00" stroke-width="1.6"/>
<path d="M95.00,235.12 L95.70,235.11 L96.40,235.11 L97.10,235.10 L97.80,235.10 L98.50,235.09 L99.20,235.09 L99.90,235.08 L100.60,235.08 L101.30,235.07 L102.00,235.07 L102.70,235.06 L103.40,235.06 L104.10,235.05 L104.80,235.05 L105.50,235.05 L106.20,235.04 L106.90,235.04 L107.60,235.03 L108.30,235.03 L109.00,235.03 L109.70,235.02 L110.40,235.02 L111.10,235.02 L111.80,235.02 L112.50,235.01 L113.20,235.01 L113.90,235.01 L114.60,235.01 L115.30,235.01 L116.00,235.00 L116.70,235.00 L117.40,235.00 L118.10,235.00 L118.80,235.00 L119.50,235.00 L120.20,235.00 L120.90,235.00 L121.60,235.00 L122.30,235.00 L123.00,235.00 L123.70,235.00 L124.40,235.00 L125.10,235.01 L125.80,235.01 L126.50,235.01 L127.20,235.01 L127.90,235.01 L128.60,235.02 L129.30,235.02 L130.00,235.02 L130.70,235.03 L131.40,235.03 L132.10,235.03 L132.80,235.04 L133.50,235.04 L134.20,235.04 L134.90,235.05 L135.60,235.05 L136.30,235.06 L137.00,235.06 L137.70,235.07 L138.40,235.07 L139.10,235.08 L139.80,235.08 L140.50,235.09 L141.20,235.09 L141.90,235.10 L142.60,235.10 L143.30,235.11 L144.00,235.11 L144.70,235.12 L145.40,235.12 L146.10,235.13 L146.80,235.13 L147.50,235.14 L148.20,235.14 L148.90,235.15 L149.60,235.15 L150.30,235.16 L151.00,235.16 L151.70,235.17 L152.40,235.17 L153.10,235.18 L153.80,235.18 L154.50,235.18 L155.20,235.19 L155.90,235.19 L156.60,235.20 L157.30,235.20 L158.00,235.21 L158.70,235.21 L159.40,235.21 L160.10,235.22 L160.80,235.22 L161.50,235.22 L162.20,235.23 L162.90,235.23 L163.60,235.23 L164.30,235.24 L165.00,235.24 L165.70,235.24 L166.40,235.25" fill="none" stroke="#fdbf6f" stroke-width="1.6"/>
<path d="M60.00,235.60 L60.70,235.60 L61.40,235.60 L62.10,235.60 L62.80,235.59 L63.50,235.59 L64.20,235.59 L64.90,235.59 L65.60,235.58 L66.30,235.58 L67.00,235.57 L67.70,235.56 L68.40,235.55 L69.10,235.54 L69.80,235.53 L70.50,235.51 L71.20,235.49 L71.90,235.46 L72.60,235.43 L73.30,235.40 L74.00,235.36 L74.70,235.31 L75.40,235.26 L76.10,235.20 L76.80,235.14 L77.50,235.07 L78.20,234.99 L78.90,234.91 L79.60,234.83 L80.30,234.74 L81.00,234.64 L81.70,234.55 L82.40,234.45 L83.10,234.36 L83.80,234.27 L84.50,234.18 L85.20,234.10 L85.90,234.02 L86.60,233.95 L87.30,233.89 L88.00,233.84 L88.70,233.80 L89.40,233.77 L90.10,233.75 L90.80,233.72 L91.50,233.70 L92.20,233.67 L92.90,233.63 L93.60,233.58 L94.30,233.50 L95.00,233.41 L95.70,233.29 L96.40,233.16 L97.10,233.02 L97.80,232.88 L98.50,232.77 L99.20,232.68 L99.90,232.64 L100.60,232.66 L101.30,232.74 L102.00,232.88 L102.70,233.08 L103.40,233.32 L104.10,233.59 L104.80,233.87 L105.50,234.16 L106.20,234.42 L106.90,234.67 L107.60,234.88 L108.30,235.05 L109.00,235.20 L109.70,235.31 L110.40,235.39 L111.10,235.45 L111.80,235.50 L112.50,235.53 L113.20,235.55 L113.90,235.57 L114.60,235.58 L115.30,235.58 L116.00,235.59 L116.70,235.59 L117.40,235.59 L118.10,235.60 L118.80,235.60 L119.50,235.60 L120.20,235.60 L120.90,235.60 L121.60,235.60 L122.30,235.60 L123.00,235.60 L123.70,235.60 L124.40,235.60 L125.10,235.60 L125.80,235.60" fill="none" stroke="#b2df8a" stroke-width="1.0"/>
<path d="M80.00,235.80 L80.70,235.80 L81.40,235.80 L82.10,235.80 L82.80,235.80 L83.50,235.80 L84.20,235.80 L84.90,235.80 L85.60,235.80 L86.30,235.80 L87.00,235.80 L87.70,235.80 L88.40,235.80 L89.10,235.80 L89.80,235.80 L90.50,235.79 L91.20,235.78 L91.90,235.77 L92.60,235.75 L93.30,235.72 L94.00,235.67 L94.70,235.60 L95.40,235.50 L96.10,235.37 L96.80,235.20 L97.50,235.01 L98.20,234.80 L98.90,234.58 L99.60,234.38 L100.30,234.20 L101.00,234.07 L101.70,234.01 L102.40,234.01 L103.10,234.09 L103.80,234.22 L104.50,234.41 L105.20,234.61 L105.90,234.83 L106.60,235.04 L107.30,235.23 L108.00,235.39 L108.70,235.51 L109.40,235.61 L110.10,235.68 L110.80,235.72 L111.50,235.75 L112.20,235.77 L112.90,235.79 L113.60,235.79 L114.30,235.80 L115.00,235.80 L115.70,235.80 L116.40,235.80 L117.10,235.80 L117.80,235.80 L118.50,235.80 L119.20,235.80 L119.90,235.80 L120.60,235.80 L121.30,235.80 L122.00,235.80 L122.70,235.80 L123.40,235.80 L124.10,235.80 L124.80,235.80" fill="none" stroke="#6a3d9a" stroke-width="1.3"/>
<path d="M75.00,235.80 L75.70,235.80 L76.40,235.80 L77.10,235.80 L77.80,235.80 L78.50,235.80 L79.20,235.80 L79.90,235.80 L80.60,235.80 L81.30,235.80 L82.00,235.80 L82.70,235.80 L83.40,235.80 L84.10,235.80 L84.80,235.80 L85.50,235.80 L86.20,235.80 L86.90,235.80 L87.60,235.80 L88.30,235.80 L89.00,235.80 L89.70,235.80 L90.40,235.79 L91.10,235.78 L91.80,235.76 L92.50,235.72 L93.20,235.65 L93.90,235.53 L94.60,235.36 L95.30,235.11 L96.00,234.77 L96.70,234.36 L97.40,233.89 L98.10,233.40 L98.80,232.94 L99.50,232.57 L100.20,232.35 L100.90,232.31 L101.60,232.45 L102.30,232.76 L103.00,233.19 L103.70,233.68 L104.40,234.16 L105.10,234.61 L105.80,234.97 L106.50,235.26 L107.20,235.47 L107.90,235.60 L108.60,235.69 L109.30,235.74 L110.00,235.77 L110.70,235.79 L111.40,235.79 L112.10,235.80 L112.80,235.80 L113.50,235.80 L114.20,235.80 L114.90,235.80 L115.60,235.80 L116.30,235.80 L117.00,235.80 L117.70,235.80 L118.40,235.80 L119.10,235.80 L119.80,235.80 L120.50,235.80 L121.20,235.80 L121.90,235.80 L122.60,235.80 L123.30,235.80 L124.00,235.80 L124.70,235.80 L125.40,235.80 L126.10,235.80 L126.80,235.80 L127.50,235.80 L128.20,235.80 L128.90,235.80 L129.60,235.80" fill="none" stroke="#1f78b4" stroke-width="1.0"/>
<path d="M65.00,235.77 L65.70,235.77 L66.40,235.76 L67.10,235.75 L67.80,235.74 L68.50,235.73 L69.20,235.71 L69.90,235.69 L70.60,235.67 L71.30,235.65 L72.00,235.62 L72.70,235.60 L73.40,235.56 L74.10,235.53 L74.80,235.49 L75.50,235.44 L76.20,235.40 L76.90,235.35 L77.60,235.30 L78.30,235.24 L79.00,235.18 L79.70,235.12 L80.40,235.06 L81.10,235.00 L81.80,234.94 L82.50,234.88 L83.20,234.82 L83.90,234.77 L84.60,234.71 L85.30,234.67 L86.00,234.62 L86.70,234.58 L87.40,234.55 L88.10,234.53 L88.80,234.51 L89.50,234.50 L90.20,234.50 L90.90,234.51 L91.60,234.52 L92.30,234.53 L93.00,234.55 L93.70,234.56 L94.40,234.54 L95.10,234.46 L95.80,234.28 L96.50,233.92 L97.20,233.32 L97.90,232.40 L98.60,231.12 L99.30,229.52 L100.00,227.70 L100.70,225.89 L101.40,224.35 L102.10,223.37 L102.80,223.14 L103.50,223.70 L104.20,224.97 L104.90,226.72 L105.60,228.66 L106.30,230.53 L107.00,232.15 L107.70,233.42 L108.40,234.33 L109.10,234.93 L109.80,235.30 L110.50,235.51 L111.20,235.63 L111.90,235.70 L112.60,235.73 L113.30,235.75 L114.00,235.76 L114.70,235.77 L115.40,235.78 L116.10,235.78 L116.80,235.78 L117.50,235.79 L118.20,235.79 L118.90,235.79 L119.60,235.79 L120.30,235.80 L121.00,235.80 L121.70,235.80 L122.40,235.80 L123.10,235.80 L123.80,235.80 L124.50,235.80 L125.20,235.80 L125.90,235.80 L126.60,235.80 L127.30,235.80 L128.00,235.80 L128.70,235.80 L129.40,235.80 L130.10,235.80 L130.80,235.80 L131.50,235.80 L132.20,235.80 L132.90,235.80 L133.60,235.80 L134.30,235.80 L135.00,235.80 L135.70,235.80 L136.40,235.80 L137.10,235.80 L137.80,235.80 L138.50,235.80 L139.20,235.80 L139.90,235.80" fill="none" stroke="#8fbc8f" stroke-width="1.0"/>
<path d="M177.24,241.60 L177.35,242.30 L177.45,243.00 L177.54,243.70 L177.60,244.40 L177.65,245.10 L177.67,245.80 L177.68,246.50 L177.67,247.20 L177.65,247.90 L177.64,248.60 L177.65,249.30 L177.67,250.00 L177.73,250.70 L177.82,251.40 L177.96,252.10 L178.13,252.80 L178.35,253.50 L178.60,254.20 L178.90,254.90 L179.24,255.60 L179.61,256.30 L180.01,257.00 L180.44,257.70 L180.88,258.40 L181.35,259.10 L181.82,259.80 L182.30,260.50 L182.77,261.20 L183.23,261.90 L183.67,262.60 L184.07,263.30 L184.44,264.00 L184.77,264.70 L185.04,265.40 L185.25,266.10 L185.40,266.80 L185.48,267.50 L185.50,268.20 L185.44,268.90 L185.32,269.60 L185.14,270.30 L184.89,271.00 L184.59,271.70 L184.24,272.40 L183.85,273.10 L183.42,273.80 L182.98,274.50 L182.51,275.20 L182.04,275.90 L181.58,276.60 L181.12,277.30 L180.68,278.00 L180.27,278.70 L179.89,279.40 L179.54,280.10 L179.25,280.80 L179.00,281.50 L178.80,282.20 L178.66,282.90 L178.58,283.60 L178.55,284.30 L178.57,285.00 L178.63,285.70 L178.74,286.40 L178.88,287.10 L179.03,287.80 L179.19,288.50 L179.33,289.20 L179.46,289.90 L179.55,290.60 L179.60,291.30 L179.60,292.00 L179.55,292.70 L179.44,293.40 L179.29,294.10 L179.10,294.80 L178.87,295.50 L178.63,296.20 L178.37,296.90 L178.11,297.60 L177.86,298.30 L177.63,299.00 L177.42,299.70 L177.23,300.40 L177.07,301.10 L176.94,301.80 L176.83,302.50 L176.74,303.20 L176.68,303.90 L176.63,304.60 L176.59,305.30 L176.56,306.00 L176.54,306.70 L176.53,307.40 L176.52,308.10 L176.51,308.80 L176.51,309.50 L176.50,310.20 L176.50,310.90 L176.50,311.60 L176.50,312.30 L176.50,313.00 L176.50,313.70 L176.50,314.40 L176.50,315.10 L176.50,315.80 L176.50,316.50 L176.50,317.20 L176.50,317.90 L176.50,318.60 L176.50,319.30 L176.50,320.00 L176.50,320.70" fill="none" stroke="#fdbf6f" stroke-width="1.0"/>
<path d="M175.70,241.60 L175.70,242.30 L175.70,243.00 L175.70,243.70 L175.70,244.40 L175.70,245.10 L175.70,245.80 L175.70,246.50 L175.70,247.20 L175.70,247.90 L175.70,248.60 L175.70,249.30 L175.70,250.00 L175.70,250.70 L175.70,251.40 L175.70,252.10 L175.70,252.80 L175.70,253.50 L175.70,254.20 L175.70,254.90 L175.70,255.60 L175.70,256.30 L175.70,257.00 L175.70,257.70 L175.70,258.40 L175.70,259.10 L175.70,259.80 L175.70,260.50 L175.70,261.20 L175.70,261.90 L175.70,262.60 L175.70,263.30 L175.70,264.00 L175.70,264.70 L175.70,265.40 L175.70,266.10 L175.70,266.80 L175.70,267.50 L175.70,268.20 L175.70,268.90 L175.70,269.60 L175.70,270.30 L175.70,271.00 L175.70,271.70 L175.70,272.40 L175.70,273.10 L175.70,273.80 L175.70,274.50 L175.71,275.20 L175.72,275.90 L175.73,276.60 L175.74,277.30 L175.77,278.00 L175.81,278.70 L175.88,279.40 L175.97,280.10 L176.11,280.80 L176.29,281.50 L176.54,282.20 L176.87,282.90 L177.29,283.60 L177.80,284.30 L178.41,285.00 L179.11,285.70 L179.90,286.40 L180.74,287.10 L181.61,287.80 L182.48,288.50 L183.28,289.20 L183.99,289.90 L184.56,290.60 L184.96,291.30 L185.17,292.00 L185.19,292.70 L185.01,293.40 L184.67,294.10 L184.20,294.80 L183.63,295.50 L183.03,296.20 L182.41,296.90 L181.83,297.60 L181.31,298.30 L180.86,299.00 L180.49,299.70 L180.20,300.40 L179.98,301.10 L179.81,301.80 L179.68,302.50 L179.58,303.20 L179.47,303.90 L179.36,304.60 L179.24,305.30 L179.10,306.00 L178.93,306.70 L178.76,307.40 L178.58,308.10 L178.42,308.80 L178.30,309.50 L178.24,310.20 L178.27,310.90 L178.42,311.60 L178.71,312.30 L179.16,313.00 L179.77,313.70 L180.51,314.40 L181.32,315.10 L182.15,315.80 L182.89,316.50 L183.48,317.20 L183.82,317.90 L183.88,318.60 L183.63,319.30 L183.10,320.00 L182.34,320.70" fill="none" stroke="#ff7f00" stroke-width="1.2"/>
<path d="M176.30,241.60 L176.30,242.30 L176.30,243.00 L176.30,243.70 L176.30,244.40 L176.30,245.10 L176.30,245.80 L176.30,246.50 L176.30,247.20 L176.30,247.90 L176.30,248.60 L176.30,249.30 L176.30,250.00 L176.30,250.70 L176.30,251.40 L176.30,252.10 L176.30,252.80 L176.30,253.50 L176.30,254.20 L176.30,254.90 L176.30,255.60 L176.30,256.30 L176.30,257.00 L176.30,257.70 L176.30,258.40 L176.30,259.10 L176.30,259.80 L176.30,260.50 L176.30,261.20 L176.30,261.90 L176.30,262.60 L176.31,263.30 L176.31,264.00 L176.31,264.70 L176.31,265.40 L176.32,266.10 L176.32,266.80 L176.33,267.50 L176.34,268.20 L176.35,268.90 L176.36,269.60 L176.37,270.30 L176.39,271.00 L176.41,271.70 L176.43,272.40 L176.46,273.10 L176.49,273.80 L176.53,274.50 L176.57,275.20 L176.62,275.90 L176.67,276.60 L176.73,277.30 L176.79,278.00 L176.85,278.70 L176.92,279.40 L177.00,280.10 L177.07,280.80 L177.15,281.50 L177.23,282.20 L177.31,282.90 L177.39,283.60 L177.46,284.30 L177.53,285.00 L177.60,285.70 L177.66,286.40 L177.70,287.10 L177.74,287.80 L177.77,288.50 L177.79,289.20 L177.80,289.90 L177.80,290.60 L177.78,291.30 L177.75,292.00 L177.72,292.70 L177.67,293.40 L177.62,294.10 L177.55,294.80 L177.48,295.50 L177.41,296.20 L177.33,296.90 L177.26,297.60 L177.18,298.30 L177.10,299.00 L177.02,299.70" fill="none" stroke="#6a3d9a" stroke-width="1.0"/>
<path d="M179.70,241.60 L179.70,242.30 L179.69,243.00 L179.66,243.70 L179.62,244.40 L179.57,245.10 L179.50,245.80 L179.43,246.50 L179.34,247.20 L179.24,247.90 L179.14,248.60 L179.02,249.30 L178.90,250.00 L178.78,250.70 L178.64,251.40 L178.51,252.10 L178.37,252.80 L178.23,253.50 L178.09,254.20 L177.94,254.90 L177.80,255.60 L177.67,256.30 L177.53,257.00 L177.40,257.70 L177.27,258.40 L177.15,259.10 L177.04,259.80 L176.93,260.50 L176.84,261.20 L176.75,261.90 L176.68,262.60 L176.63,263.30 L176.61,264.00 L176.63,264.70 L176.68,265.40 L176.79,266.10 L176.97,266.80 L177.23,267.50 L177.58,268.20 L178.03,268.90 L178.58,269.60 L179.22,270.30 L179.95,271.00 L180.74,271.70 L181.56,272.40 L182.37,273.10 L183.13,273.80 L183.79,274.50 L184.30,275.20 L184.63,275.90 L184.76,276.60 L184.67,277.30 L184.38,278.00 L183.89,278.70 L183.25,279.40 L182.49,280.10 L181.66,280.80 L180.81,281.50 L179.98,282.20 L179.20,282.90 L178.49,283.60 L177.87,284.30 L177.35,285.00 L176.92,285.70 L176.59,286.40 L176.33,287.10 L176.13,287.80 L175.99,288.50 L175.89,289.20 L175.82,289.90 L175.78,290.60 L175.75,291.30 L175.73,292.00 L175.72,292.70 L175.71,293.40 L175.71,294.10 L175.70,294.80 L175.70,295.50 L175.70,296.20 L175.70,296.90 L175.70,297.60 L175.70,298.30 L175.70,299.00 L175.70,299.70" fill="none" stroke="#1f78b4" stroke-width="1.0"/>
<path d="M180.69,241.60 L180.69,242.30 L180.63,243.00 L180.50,243.70 L180.32,244.40 L180.08,245.10 L179.79,245.80 L179.47,246.50 L179.14,247.20 L178.78,247.90 L178.43,248.60 L178.09,249.30 L177.76,250.00 L177.45,250.70 L177.17,251.40 L176.93,252.10 L176.71,252.80 L176.53,253.50 L176.38,254.20 L176.27,254.90 L176.19,255.60 L176.15,256.30 L176.14,257.00 L176.18,257.70 L176.25,258.40 L176.37,259.10 L176.55,259.80 L176.79,260.50 L177.09,261.20 L177.48,261.90 L177.95,262.60 L178.51,263.30 L179.17,264.00 L179.93,264.70 L180.80,265.40 L181.75,266.10 L182.79,266.80 L183.89,267.50 L185.04,268.20 L186.21,268.90 L187.36,269.60 L188.46,270.30 L189.48,271.00 L190.38,271.70 L191.13,272.40 L191.69,273.10 L192.05,273.80 L192.20,274.50 L192.12,275.20 L191.82,275.90 L191.31,276.60 L190.61,277.30 L189.75,278.00 L188.76,278.70 L187.68,279.40 L186.54,280.10 L185.37,280.80 L184.22,281.50 L183.10,282.20 L182.04,282.90 L181.06,283.60 L180.17,284.30 L179.37,285.00 L178.68,285.70 L178.09,286.40 L177.58,287.10 L177.17,287.80 L176.83,288.50 L176.55,289.20 L176.34,289.90 L176.17,290.60 L176.04,291.30 L175.95,292.00 L175.87,292.70 L175.82,293.40 L175.78,294.10 L175.76,294.80 L175.74,295.50 L175.73,296.20 L175.72,296.90 L175.71,297.60 L175.71,298.30 L175.70,299.00 L175.70,299.70 L175.70,300.40 L175.70,301.10 L175.70,301.80 L175.70,302.50 L175.70,303.20 L175.70,303.90 L175.70,304.60 L175.70,305.30 L175.70,306.00 L175.70,306.70 L175.70,307.40 L175.70,308.10 L175.70,308.80 L175.70,309.50 L175.70,310.20 L175.70,310.90 L175.70,311.60 L175.70,312.30 L175.70,313.00 L175.70,313.70 L175.70,314.40 L175.70,315.10 L175.70,315.80 L175.70,316.50 L175.70,317.20 L175.70,317.90 L175.70,318.60 L175.70,319.30 L175.70,320.00 L175.70,320.70" fill="none" stroke="#b2df8a" stroke-width="1.0"/>
<path d="M180.84,241.60 L181.74,242.30 L182.42,243.00 L182.80,243.70 L182.81,244.40 L182.46,245.10 L181.82,245.80 L180.99,246.50 L180.09,247.20 L179.23,247.90 L178.50,248.60 L177.94,249.30 L177.57,250.00 L177.37,250.70 L177.31,251.40 L177.35,252.10 L177.48,252.80 L177.66,253.50 L177.87,254.20 L178.10,254.90 L178.34,255.60 L178.57,256.30 L178.80,257.00 L179.01,257.70 L179.21,258.40 L179.38,259.10 L179.52,259.80 L179.63,260.50 L179.70,261.20 L179.75,261.90 L179.77,262.60 L179.77,263.30 L179.77,264.00 L179.77,264.70 L179.81,265.40 L179.89,266.10 L180.07,266.80 L180.35,267.50 L180.79,268.20 L181.40,268.90 L182.22,269.60 L183.24,270.30 L184.47,271.00 L185.88,271.70 L187.44,272.40 L189.06,273.10 L190.68,273.80 L192.19,274.50 L193.50,275.20 L194.51,275.90 L195.15,276.60 L195.36,277.30 L195.12,278.00 L194.44,278.70 L193.37,279.40 L191.96,280.10 L190.32,280.80 L188.53,281.50 L186.69,282.20 L184.89,282.90 L183.20,283.60 L181.68,284.30 L180.35,285.00 L179.24,285.70 L178.32,286.40 L177.60,287.10 L177.04,287.80 L176.62,288.50 L176.32,289.20 L176.11,289.90 L175.96,290.60 L175.86,291.30 L175.80,292.00 L175.76,292.70 L175.73,293.40 L175.72,294.10 L175.71,294.80 L175.71,295.50 L175.70,296.20 L175.70,296.90 L175.70,297.60 L175.70,298.30 L175.70,299.00 L175.70,299.70 L175.70,300.40 L175.70,301.10 L175.70,301.80 L175.70,302.50 L175.70,303.20 L175.70,303.90 L175.70,304.60 L175.70,305.30 L175.70,306.00 L175.70,306.70 L175.70,307.40 L175.70,308.10 L175.70,308.80 L175.70,309.50 L175.70,310.20 L175.70,310.90 L175.70,311.60 L175.70,312.30 L175.70,313.00 L175.70,313.70 L175.70,314.40 L175.70,315.10 L175.70,315.80 L175.70,316.50 L175.70,317.20 L175.70,317.90 L175.70,318.60 L175.70,319.30 L175.70,320.00" fill="none" stroke="#8fbc8f" stroke-width="1.0"/>
<text x="26.3" y="252.7" font-size="9" textLength="10.8" lengthAdjust="spacingAndGlyphs" fill="#231f20" >0.1</text>
<text x="29.4" y="286.7" font-size="9" textLength="5.5" lengthAdjust="spacingAndGlyphs" fill="#231f20" >0</text>
<text x="18.6" y="319.8" font-size="9" textLength="16.3" lengthAdjust="spacingAndGlyphs" fill="#231f20" >−0.1</text>
<text x="41" y="337" font-size="9" textLength="23.4" lengthAdjust="spacingAndGlyphs" fill="#231f20" >−0.05</text>
<text x="101" y="337" font-size="9" textLength="5" lengthAdjust="spacingAndGlyphs" fill="#231f20" >0</text>
<text x="144.4" y="337" font-size="9" textLength="19.2" lengthAdjust="spacingAndGlyphs" fill="#231f20" >0.05</text>
<text x="82" y="355" font-size="10.2" textLength="51" lengthAdjust="spacingAndGlyphs" fill="#231f20" >VI velocity</text>
<text transform="translate(9.7,309.2) rotate(-90)" x="0" y="0" font-size="10.2" textLength="56.5" lengthAdjust="spacingAndGlyphs" fill="#231f20" >EM velocity</text>
<text x="134.4" y="312" font-size="9.2" textLength="31.6" lengthAdjust="spacingAndGlyphs" fill="#231f20" ><tspan font-style="italic">r</tspan> = 0.60</text>
<path d="M242.6 313.0h.01M244.9 322.9h.01M244.6 314.6h.01M241.3 312.2h.01M238.6 316.7h.01M234.2 313.8h.01M242.0 310.6h.01M243.4 319.0h.01M240.6 318.7h.01M248.4 322.6h.01M237.0 310.9h.01M246.2 321.7h.01M244.8 320.2h.01M247.5 312.5h.01M247.9 315.7h.01M237.6 317.8h.01M247.8 313.4h.01M240.0 310.5h.01M244.2 320.7h.01M248.3 311.3h.01M242.9 315.9h.01M242.7 315.1h.01M235.1 321.6h.01M242.9 316.8h.01M237.6 314.9h.01M239.8 322.7h.01M239.7 313.9h.01M248.6 319.2h.01M243.6 312.3h.01M244.9 319.6h.01M236.6 319.5h.01M238.6 320.6h.01M247.2 315.8h.01M235.8 312.1h.01M248.3 317.8h.01M240.4 321.7h.01M239.8 313.3h.01M241.7 309.3h.01M240.6 311.6h.01M241.1 322.1h.01M240.4 309.1h.01M244.5 309.8h.01M238.1 310.4h.01M236.5 321.5h.01M240.5 314.4h.01M235.3 318.7h.01M240.7 318.9h.01M241.4 315.1h.01M245.8 319.3h.01M235.6 315.5h.01M240.0 316.6h.01M245.7 313.3h.01M239.1 309.0h.01M246.5 317.3h.01M244.8 312.7h.01M234.6 312.9h.01M239.8 321.3h.01M245.5 314.1h.01M241.9 310.4h.01M244.1 317.8h.01M248.9 316.5h.01M244.1 309.8h.01M242.2 313.9h.01M246.7 317.6h.01M240.5 312.9h.01M234.2 322.8h.01M238.1 320.2h.01M242.9 316.1h.01M248.2 321.8h.01M243.1 309.5h.01" stroke="#8fbc8f" stroke-width="1.00" stroke-linecap="round" opacity="0.5" fill="none"/>
<path d="M237.4 318.3h.01M247.7 322.6h.01M241.6 320.1h.01M236.6 318.1h.01M242.6 314.3h.01M245.0 314.6h.01M243.1 313.2h.01M234.7 320.3h.01M234.6 320.2h.01M240.1 315.9h.01M234.2 321.1h.01M235.3 318.1h.01M243.6 318.6h.01M240.6 312.8h.01M235.3 312.4h.01M247.1 312.2h.01M239.5 321.8h.01M247.2 320.2h.01M243.1 321.6h.01M243.3 320.5h.01M240.4 320.3h.01M244.1 315.1h.01M237.7 319.7h.01M237.9 311.3h.01M247.1 318.2h.01M237.1 309.6h.01M239.8 322.5h.01M245.2 321.3h.01M239.0 311.3h.01M239.5 319.8h.01M247.6 320.5h.01M237.1 309.6h.01M237.6 316.9h.01M247.3 314.9h.01M238.1 317.7h.01M239.0 321.4h.01M247.2 319.1h.01M238.8 312.0h.01M249.0 316.8h.01M246.3 316.9h.01M246.7 309.2h.01M237.4 310.8h.01M237.3 314.0h.01M245.3 311.5h.01M246.4 312.3h.01M237.4 318.5h.01M237.1 322.5h.01M237.7 315.4h.01M236.1 318.0h.01M240.3 319.7h.01M241.5 318.4h.01M243.4 318.2h.01M234.8 309.0h.01M236.9 321.2h.01M235.8 311.3h.01M238.1 311.5h.01M236.8 316.1h.01M248.0 317.2h.01M239.6 319.6h.01M236.1 313.1h.01" stroke="#b2df8a" stroke-width="1.00" stroke-linecap="round" opacity="0.6" fill="none"/>
<path d="M246.3 310.4h.01M242.5 310.1h.01M245.1 316.3h.01M240.7 313.9h.01M235.9 315.5h.01M235.1 316.2h.01M242.7 316.1h.01M240.1 321.8h.01M240.3 321.9h.01M238.9 314.5h.01M237.1 313.7h.01M240.7 318.5h.01M238.1 312.6h.01M245.7 315.2h.01M237.1 319.3h.01M246.6 310.1h.01M245.3 320.0h.01M239.6 319.5h.01M244.3 315.0h.01M242.0 313.2h.01M240.6 317.0h.01M244.7 313.8h.01M245.0 320.7h.01M237.4 317.7h.01M245.9 314.0h.01" stroke="#1f78b4" stroke-width="1.00" stroke-linecap="round" opacity="0.35" fill="none"/>
<path d="M248.5 319.8h.01M244.9 322.4h.01M236.4 310.5h.01M241.5 317.5h.01M242.8 312.4h.01M251.0 320.3h.01M239.8 313.0h.01M242.1 319.6h.01M251.6 314.3h.01M241.7 318.5h.01M248.9 318.8h.01M235.7 321.8h.01M241.1 321.3h.01M237.3 315.7h.01M249.9 319.0h.01M243.9 312.4h.01M237.9 311.3h.01M235.7 319.3h.01M241.6 321.8h.01M235.7 319.7h.01M242.7 316.7h.01M247.1 318.2h.01M239.6 319.5h.01M237.0 317.4h.01M240.5 314.7h.01M237.0 321.1h.01M249.2 314.8h.01M235.7 321.7h.01M247.3 320.4h.01M240.0 320.3h.01M247.1 320.8h.01M247.9 322.8h.01M236.4 322.9h.01M247.6 316.5h.01M251.0 314.9h.01M244.2 319.5h.01M245.6 322.6h.01M239.8 318.2h.01M237.1 310.3h.01M247.4 310.5h.01M248.8 316.0h.01M237.7 320.2h.01M236.0 321.5h.01M240.3 314.9h.01M245.3 316.7h.01M240.6 316.7h.01M251.4 311.2h.01M248.2 310.0h.01M250.5 316.8h.01M244.8 316.6h.01" stroke="#fdbf6f" stroke-width="1.00" stroke-linecap="round" opacity="0.7" fill="none"/>
<path d="M249.0 317.6h.01M249.5 316.2h.01M248.8 313.0h.01M252.6 317.0h.01M249.9 316.3h.01M248.8 317.1h.01M252.7 318.8h.01M253.6 318.5h.01M246.7 317.0h.01M257.1 316.8h.01M252.1 313.3h.01M251.7 315.7h.01M255.2 316.6h.01M252.2 315.0h.01M250.2 316.2h.01M258.6 313.9h.01M248.8 319.8h.01M251.7 321.4h.01M254.5 315.0h.01M248.8 317.0h.01M251.7 315.4h.01M253.2 319.2h.01M259.2 317.1h.01M249.3 316.2h.01M251.9 315.4h.01" stroke="#6a3d9a" stroke-width="1.00" stroke-linecap="round" opacity="0.4" fill="none"/>
<path d="M300.3 277.5h.01M289.0 258.9h.01M305.8 261.4h.01M291.9 276.1h.01M304.3 285.9h.01M300.3 284.3h.01M309.9 294.5h.01M298.8 272.4h.01M309.2 271.2h.01M289.8 280.1h.01M305.1 269.2h.01M296.8 268.3h.01M300.9 257.5h.01M299.7 279.9h.01M308.4 257.2h.01M278.8 274.6h.01M302.2 253.4h.01M284.1 281.1h.01M311.1 257.7h.01M279.3 278.3h.01M289.0 251.5h.01M282.3 264.2h.01M315.4 282.0h.01M286.1 260.1h.01M300.1 269.7h.01M293.6 263.7h.01M281.0 243.6h.01M295.6 272.4h.01M305.6 273.8h.01M297.2 256.8h.01M308.4 275.3h.01M295.4 260.2h.01M299.1 258.0h.01M295.2 269.1h.01M302.4 261.5h.01M318.0 294.2h.01M302.6 251.9h.01M300.9 277.1h.01M292.8 279.9h.01M291.4 247.2h.01M313.6 249.9h.01M287.9 275.2h.01M289.9 263.7h.01M298.0 273.2h.01M294.7 281.5h.01M318.6 264.9h.01M275.3 257.3h.01M302.6 239.0h.01M306.1 271.3h.01M287.8 258.8h.01M292.6 272.4h.01M303.3 271.5h.01M315.3 253.8h.01M289.8 288.0h.01M283.2 280.9h.01M308.7 278.3h.01M314.2 256.0h.01M295.6 264.5h.01M276.9 263.0h.01M313.5 264.4h.01M297.0 256.6h.01M310.2 273.8h.01M298.6 271.5h.01M295.2 273.0h.01M294.5 263.4h.01M313.7 283.2h.01M313.3 271.1h.01M277.6 238.9h.01M289.6 262.0h.01M316.8 268.4h.01M295.3 279.6h.01M285.4 265.7h.01M299.0 266.2h.01M297.9 261.7h.01M298.0 276.3h.01M294.2 264.1h.01M295.9 262.4h.01M294.4 260.8h.01M302.3 275.1h.01M290.9 263.1h.01M296.1 250.6h.01M297.6 275.8h.01M312.1 261.3h.01M302.7 272.9h.01M297.9 273.1h.01M304.4 282.2h.01M303.1 280.5h.01M309.9 262.7h.01M304.1 267.2h.01M316.9 254.8h.01M312.4 287.5h.01M298.6 273.9h.01M294.9 284.3h.01M307.8 265.5h.01M304.2 246.5h.01M298.1 285.8h.01M284.2 270.0h.01M280.7 270.5h.01M302.5 269.6h.01M306.7 276.1h.01M307.0 274.9h.01M286.1 251.5h.01M309.4 281.0h.01M293.7 263.2h.01M302.9 263.9h.01M303.2 288.0h.01M291.0 279.1h.01M293.1 265.3h.01M278.3 248.6h.01M289.8 270.8h.01M281.0 274.9h.01M303.4 268.1h.01M299.6 255.3h.01M308.1 260.3h.01M302.6 255.2h.01M292.7 271.4h.01M302.5 278.0h.01M295.1 280.3h.01M305.1 260.9h.01M302.2 271.6h.01M289.1 275.1h.01M299.0 263.4h.01M299.6 267.4h.01M295.9 292.4h.01M307.9 271.3h.01M316.1 278.7h.01M295.3 264.2h.01M295.5 269.5h.01M276.5 250.1h.01M297.7 268.7h.01M294.6 282.1h.01M277.4 292.1h.01M301.9 282.2h.01M304.9 276.6h.01M291.7 269.6h.01M295.3 262.4h.01M289.3 267.2h.01M306.6 275.7h.01M283.8 260.4h.01M295.9 279.3h.01M318.5 258.2h.01M299.5 249.4h.01M303.7 257.9h.01M297.5 250.7h.01M287.3 253.9h.01M298.7 281.5h.01M303.1 266.8h.01M288.8 271.4h.01M302.4 281.7h.01M311.4 282.9h.01M309.7 263.4h.01M283.2 283.6h.01M289.2 273.2h.01M282.9 269.0h.01M309.7 273.9h.01M305.1 253.3h.01M306.0 260.4h.01M290.2 267.8h.01M287.3 275.7h.01M299.8 264.9h.01M300.0 267.6h.01M290.5 279.7h.01M300.4 284.5h.01M305.4 277.4h.01M301.3 283.0h.01M288.6 264.6h.01M277.9 265.6h.01M296.4 272.5h.01M300.6 265.7h.01M296.4 263.4h.01M294.7 287.2h.01M292.1 266.8h.01M306.2 258.4h.01M298.5 274.4h.01M300.2 289.2h.01M289.3 269.9h.01M292.8 282.5h.01M300.6 264.2h.01M288.9 263.6h.01M286.4 261.4h.01M295.7 267.4h.01M311.0 289.2h.01M300.9 256.3h.01M313.6 287.0h.01M297.7 257.9h.01M295.9 266.4h.01M285.1 278.2h.01M293.2 275.9h.01M313.4 272.1h.01M302.3 250.9h.01M306.3 273.0h.01M306.1 257.8h.01M298.9 297.3h.01M297.0 266.7h.01M300.2 271.1h.01M305.7 256.4h.01M303.6 263.7h.01M303.9 254.8h.01M300.5 279.8h.01M291.3 266.1h.01M296.4 275.2h.01M289.6 261.5h.01M309.0 263.5h.01M278.0 283.2h.01M296.8 258.3h.01M322.9 249.2h.01M295.6 273.5h.01M287.7 256.4h.01M298.8 264.2h.01M311.9 279.0h.01M297.4 260.0h.01M305.1 278.7h.01M300.0 261.5h.01M295.3 285.4h.01M299.7 263.8h.01M293.6 266.7h.01M294.1 259.8h.01M302.8 271.2h.01M303.1 281.6h.01M306.7 253.1h.01M300.4 279.1h.01M284.7 254.4h.01M304.3 259.5h.01M295.9 249.3h.01M296.1 292.2h.01M284.2 269.6h.01M293.3 271.7h.01M291.7 261.6h.01M298.6 280.7h.01M284.5 245.9h.01M299.5 269.3h.01M300.2 293.3h.01M287.8 264.8h.01M292.8 269.2h.01M290.4 276.4h.01M308.1 260.1h.01M273.7 269.3h.01M295.6 279.6h.01M282.4 271.1h.01M294.7 273.1h.01M307.5 265.2h.01M292.7 272.5h.01M300.4 269.6h.01M290.6 285.0h.01M318.4 277.0h.01M308.1 266.3h.01M310.3 242.1h.01M285.7 276.9h.01M288.0 277.3h.01M309.8 258.9h.01M297.1 247.0h.01M296.4 256.4h.01M302.3 279.2h.01M286.4 257.3h.01M306.7 263.9h.01M299.2 271.4h.01M303.8 282.5h.01M292.3 268.8h.01M304.1 267.9h.01M292.0 263.0h.01M308.5 286.9h.01M310.3 280.7h.01M308.1 268.0h.01M304.2 253.6h.01M305.3 260.3h.01M271.9 275.4h.01M307.3 261.1h.01M296.3 278.8h.01M299.9 273.0h.01M296.2 272.2h.01M285.1 276.2h.01M293.6 274.5h.01M305.6 259.6h.01M313.2 265.4h.01M292.8 294.7h.01M290.0 255.7h.01M313.5 263.8h.01M290.2 280.7h.01M319.7 267.2h.01M299.5 260.1h.01M290.2 254.4h.01M308.8 274.9h.01M315.9 280.2h.01M284.7 284.4h.01M314.6 269.6h.01M296.2 280.5h.01M313.9 257.6h.01M295.2 270.8h.01M283.2 261.5h.01M304.0 270.9h.01M308.3 277.3h.01M320.0 280.8h.01M316.2 258.1h.01M306.0 282.9h.01M296.6 263.8h.01M293.8 257.7h.01M296.1 267.1h.01M290.7 252.9h.01M296.3 269.1h.01M273.6 272.2h.01M300.8 266.8h.01M298.7 274.9h.01M324.7 265.5h.01M306.6 269.0h.01M294.2 253.2h.01M304.6 269.5h.01M286.7 259.6h.01M293.0 264.1h.01M280.3 268.0h.01M313.4 271.1h.01M304.9 250.9h.01M287.2 251.8h.01M298.4 265.7h.01M308.5 274.2h.01M304.0 273.0h.01M302.8 278.8h.01M290.4 283.3h.01M292.6 274.5h.01M300.0 268.8h.01M308.2 257.7h.01M290.7 258.6h.01M287.8 263.9h.01M310.4 271.9h.01M289.7 271.4h.01M309.8 269.0h.01M301.4 267.3h.01M307.8 275.9h.01M316.4 271.3h.01M305.9 272.3h.01" stroke="#fdbf6f" stroke-width="1.00" stroke-linecap="round" opacity="0.85" fill="none"/>
<path d="M295.6 252.7h.01M280.2 248.8h.01M271.4 267.7h.01M298.8 253.6h.01M297.5 282.4h.01M286.0 279.3h.01M282.5 268.8h.01M276.3 266.6h.01M286.1 269.4h.01M294.8 243.1h.01M269.2 262.9h.01M292.1 267.9h.01M322.4 261.0h.01M306.8 280.0h.01M301.4 275.0h.01M300.7 246.4h.01M292.0 259.7h.01M307.3 246.3h.01M287.2 266.1h.01M282.4 245.9h.01M291.8 270.9h.01M306.3 263.4h.01M295.9 271.6h.01M302.1 256.0h.01M253.6 237.6h.01M311.5 282.7h.01M314.0 277.3h.01M284.3 264.0h.01M274.7 267.4h.01M295.0 283.6h.01M272.2 262.8h.01M303.1 277.6h.01M280.5 237.2h.01M307.3 270.2h.01M314.5 254.6h.01M253.4 256.1h.01M295.3 258.1h.01M277.4 262.9h.01M264.6 281.2h.01M286.1 258.6h.01M308.6 248.0h.01M262.6 274.3h.01M308.9 252.1h.01M326.3 264.4h.01M300.8 252.4h.01M299.8 267.4h.01M289.8 272.2h.01M268.8 252.4h.01M299.6 258.7h.01M296.9 238.1h.01M303.2 262.3h.01M303.1 250.2h.01M297.7 273.7h.01M269.4 238.6h.01" stroke="#fdbf6f" stroke-width="1.00" stroke-linecap="round" opacity="0.8" fill="none"/>
<path d="M279.2 312.5h.01M270.6 313.8h.01M296.7 286.5h.01M252.0 316.9h.01M256.6 318.9h.01M269.5 310.1h.01M251.8 320.6h.01M288.3 293.7h.01M276.2 313.3h.01M285.3 300.5h.01M302.3 283.8h.01M284.1 313.2h.01M270.0 323.3h.01M275.0 300.2h.01M279.9 305.8h.01M270.1 316.4h.01M265.3 321.9h.01M273.4 309.8h.01M289.9 297.1h.01M266.2 317.2h.01M305.5 287.6h.01M263.6 318.7h.01M262.6 315.7h.01M264.4 317.9h.01M271.6 316.0h.01M277.4 315.3h.01M296.2 293.3h.01M292.7 285.4h.01M266.0 311.3h.01M292.3 287.0h.01M270.9 309.9h.01M276.0 305.9h.01M264.4 316.4h.01M298.7 280.8h.01M272.6 314.7h.01M293.9 299.8h.01M248.5 320.3h.01M287.8 292.3h.01M272.3 320.4h.01M274.1 301.3h.01M286.3 290.4h.01M259.7 321.2h.01M277.6 309.1h.01M286.1 292.3h.01M263.2 317.6h.01M275.2 303.7h.01M258.3 316.0h.01M256.1 321.1h.01M275.7 304.8h.01M273.4 306.4h.01M287.6 294.3h.01M304.8 282.3h.01M292.6 299.6h.01M273.5 315.8h.01M273.4 303.4h.01M288.2 293.8h.01M289.9 285.9h.01M291.7 299.8h.01M279.5 302.7h.01M257.1 318.4h.01M295.2 277.7h.01M264.8 311.0h.01M268.5 313.0h.01M298.4 288.8h.01M256.5 312.9h.01M292.3 280.2h.01M262.3 320.3h.01M250.9 318.5h.01M282.1 304.8h.01M297.2 293.0h.01M275.4 312.2h.01M295.5 292.4h.01M274.2 314.8h.01M297.3 287.4h.01M248.1 319.0h.01M268.7 315.7h.01M252.5 313.9h.01M286.1 290.4h.01M278.5 312.6h.01M285.9 292.8h.01M266.5 320.9h.01M295.2 295.7h.01M290.2 277.7h.01M252.9 322.4h.01M277.3 316.6h.01M299.0 291.1h.01M300.8 285.7h.01M296.1 285.1h.01M257.6 316.2h.01M279.1 312.2h.01M256.5 323.9h.01M280.0 306.5h.01M281.3 302.5h.01M264.5 313.7h.01M276.6 310.7h.01M265.3 313.7h.01M252.2 329.3h.01M258.9 313.1h.01M301.5 296.0h.01M247.5 323.5h.01M306.6 275.9h.01M294.4 283.8h.01M296.1 276.7h.01M283.9 291.8h.01M251.8 325.8h.01M254.2 313.4h.01M278.8 320.0h.01M261.6 316.6h.01M252.7 326.6h.01M289.9 284.8h.01M302.9 288.6h.01M290.7 295.0h.01M264.5 321.0h.01M286.2 287.6h.01M297.7 286.1h.01M273.7 317.3h.01M254.1 322.1h.01M257.5 327.5h.01M276.4 303.1h.01M298.2 287.8h.01M253.4 324.5h.01M282.9 305.3h.01M270.6 312.4h.01M293.9 293.3h.01M256.4 324.4h.01M277.4 295.7h.01M266.5 320.3h.01M291.2 304.5h.01M295.1 292.4h.01M290.9 290.7h.01M296.2 288.7h.01M259.8 312.3h.01M265.6 314.1h.01M258.3 322.3h.01M268.1 317.2h.01M252.9 326.8h.01M296.5 290.4h.01M258.5 311.3h.01M259.3 316.6h.01M296.0 292.5h.01M286.0 294.2h.01M291.1 279.9h.01M275.8 308.9h.01M251.1 326.9h.01M294.4 287.5h.01M265.1 318.8h.01M291.2 291.2h.01M252.4 316.7h.01M257.1 326.8h.01M284.3 292.6h.01M282.1 294.2h.01M288.7 306.5h.01M284.6 304.9h.01M287.8 305.7h.01M257.5 318.8h.01M261.5 318.8h.01M271.6 322.2h.01M285.1 304.7h.01M257.5 316.1h.01M257.8 313.9h.01M274.3 306.7h.01M274.8 313.8h.01M267.7 318.6h.01M294.5 282.6h.01M304.9 278.8h.01M246.7 323.7h.01M277.3 301.6h.01M265.1 315.6h.01M265.5 313.1h.01M252.0 317.9h.01M255.8 320.9h.01M248.9 318.6h.01M264.1 316.1h.01M287.6 306.9h.01M254.3 323.3h.01M292.3 290.1h.01M286.8 290.8h.01M263.8 320.2h.01M287.7 300.3h.01M296.4 285.9h.01M258.9 329.0h.01M274.0 304.0h.01M273.7 310.0h.01M261.6 315.0h.01M273.0 302.0h.01M251.5 314.6h.01M285.1 299.9h.01M257.0 320.4h.01M279.3 308.4h.01M295.8 287.1h.01M272.1 318.8h.01M261.2 313.3h.01M302.3 288.0h.01M286.1 310.6h.01M286.2 306.2h.01M268.0 313.5h.01M286.2 306.1h.01M272.4 311.8h.01M285.7 304.4h.01M275.9 312.2h.01M252.4 318.2h.01M296.1 290.1h.01M287.0 300.4h.01M301.3 285.6h.01M272.5 317.7h.01M267.2 313.0h.01M264.7 318.6h.01M262.5 318.9h.01M268.9 313.0h.01M267.3 329.9h.01M264.3 315.6h.01M261.6 313.5h.01M300.8 291.7h.01M279.3 312.8h.01M289.2 289.5h.01M254.3 320.1h.01M256.7 319.8h.01M292.9 284.4h.01M250.7 324.0h.01M250.7 319.4h.01M277.0 308.7h.01M266.3 319.4h.01M257.1 321.1h.01M285.8 289.8h.01M285.5 298.5h.01M263.7 315.0h.01M280.8 305.2h.01M272.3 310.2h.01M289.6 291.5h.01M251.5 323.1h.01M270.0 316.7h.01M287.2 304.8h.01M247.5 328.3h.01M298.6 285.5h.01M294.1 281.3h.01M274.1 320.8h.01M291.0 293.8h.01M268.0 308.7h.01M300.6 282.8h.01M261.3 316.1h.01M249.5 321.4h.01M248.2 324.8h.01M277.5 311.2h.01M254.8 320.2h.01M315.6 282.8h.01M289.3 302.5h.01M284.3 304.9h.01M282.3 302.3h.01M279.7 311.9h.01M289.5 284.0h.01M286.7 294.2h.01M277.6 310.6h.01M262.5 312.3h.01M263.9 314.0h.01M273.6 320.2h.01M269.2 312.6h.01M251.1 320.2h.01M292.1 282.3h.01M259.9 316.8h.01M284.5 306.2h.01" stroke="#fdbf6f" stroke-width="1.00" stroke-linecap="round" opacity="0.85" fill="none"/>
<path d="M274.5 310.0h.01M297.2 288.8h.01M261.8 321.7h.01M285.3 299.8h.01M273.9 313.7h.01M291.8 296.1h.01M285.0 286.3h.01M251.5 321.1h.01M280.0 299.9h.01M291.5 298.8h.01M264.0 313.1h.01M283.3 305.3h.01M262.7 322.1h.01M256.9 311.2h.01M273.9 316.3h.01M257.5 315.9h.01M288.6 286.5h.01M265.7 319.6h.01M267.1 313.5h.01M277.3 309.6h.01M288.3 302.6h.01M288.0 305.5h.01M281.1 306.2h.01M284.1 291.3h.01M260.4 315.3h.01M282.7 304.9h.01M261.3 316.7h.01M293.8 297.3h.01M281.4 304.2h.01M263.8 320.8h.01M290.4 296.7h.01M272.1 305.2h.01M276.0 308.4h.01M257.9 318.2h.01M284.1 299.3h.01M281.2 312.5h.01M288.7 296.6h.01M257.1 319.9h.01M279.7 306.5h.01M270.6 322.5h.01M278.2 307.6h.01M279.5 309.1h.01M287.7 302.4h.01M281.9 291.7h.01M265.4 319.0h.01M284.1 298.8h.01M249.5 317.3h.01M249.0 323.0h.01M263.6 320.0h.01M268.0 320.7h.01M282.4 301.3h.01M279.2 310.0h.01M267.2 323.4h.01M294.8 297.0h.01M292.4 295.7h.01M288.9 310.2h.01M278.1 307.1h.01M290.9 300.6h.01M262.7 316.9h.01M294.2 295.0h.01M263.2 323.0h.01M248.2 319.4h.01M283.0 300.5h.01M256.1 318.0h.01M262.7 314.0h.01M273.3 310.6h.01M253.8 314.9h.01M266.9 316.2h.01M269.7 321.7h.01M258.3 326.1h.01M274.9 312.8h.01M271.4 308.9h.01M259.9 324.2h.01M285.5 298.6h.01M269.1 313.6h.01M256.4 327.6h.01M292.0 293.2h.01M274.3 317.0h.01M255.7 320.6h.01M273.7 315.7h.01M271.1 313.5h.01M252.7 321.9h.01M267.7 313.9h.01M264.8 322.2h.01M259.4 322.2h.01M284.3 300.6h.01M259.9 316.5h.01M250.4 319.4h.01M259.9 313.6h.01M260.5 311.9h.01M258.0 318.7h.01M272.0 307.4h.01M297.5 291.0h.01M293.2 297.4h.01M279.0 313.9h.01M287.4 296.8h.01M290.2 297.7h.01M286.0 313.1h.01M290.6 305.7h.01M273.9 308.5h.01M281.8 297.9h.01M278.1 311.8h.01M282.9 298.9h.01M280.5 302.5h.01M250.9 318.2h.01M289.2 301.4h.01M257.8 310.8h.01M267.3 304.9h.01M286.0 303.7h.01M292.8 303.6h.01M253.4 319.5h.01M280.9 299.5h.01M268.6 317.3h.01M257.7 323.0h.01M266.8 314.7h.01M277.2 305.6h.01M257.4 321.3h.01M280.1 303.2h.01M254.6 320.9h.01M268.1 319.1h.01M269.3 315.5h.01M258.1 318.5h.01M291.9 291.8h.01M293.9 294.4h.01M290.0 295.0h.01M258.6 316.8h.01M286.6 302.8h.01M268.2 317.4h.01M270.9 319.6h.01M289.6 299.4h.01M257.8 321.7h.01M249.4 318.7h.01M287.4 292.0h.01M268.6 312.0h.01M291.7 305.6h.01M273.7 316.4h.01M256.3 316.8h.01M271.5 307.5h.01M263.7 318.3h.01M257.0 317.9h.01M252.7 327.0h.01M271.7 308.5h.01M271.0 309.8h.01M267.8 314.6h.01M297.4 293.7h.01M292.1 300.0h.01M284.3 307.7h.01M267.3 324.9h.01M284.8 301.7h.01M280.6 303.1h.01" stroke="#f4a460" stroke-width="1.00" stroke-linecap="round" opacity="0.65" fill="none"/>
<path d="M254.2 267.3h.01M276.0 245.2h.01M257.9 258.5h.01M283.3 240.4h.01M264.6 262.5h.01M271.5 242.9h.01M273.1 237.1h.01M266.1 250.2h.01M248.0 280.0h.01M257.7 263.5h.01M233.8 302.9h.01M272.1 253.0h.01M268.0 250.4h.01M274.3 246.1h.01M236.5 306.2h.01M244.1 300.8h.01M262.2 254.6h.01M271.7 253.1h.01M242.0 295.1h.01M244.3 295.0h.01M248.6 280.8h.01M257.6 278.2h.01M231.3 302.2h.01M238.5 296.1h.01M248.7 289.2h.01M233.7 300.6h.01M248.0 294.4h.01M235.3 305.7h.01M252.5 274.5h.01M266.0 251.6h.01M263.5 245.9h.01M263.3 254.1h.01M255.1 273.6h.01M244.2 297.0h.01M251.2 301.3h.01M245.9 288.8h.01M279.9 232.8h.01M278.9 246.5h.01M264.4 263.5h.01M268.4 250.4h.01M277.9 250.7h.01M271.1 246.7h.01M252.5 286.8h.01M279.0 240.3h.01M264.8 257.1h.01M250.0 275.2h.01M235.7 287.9h.01M242.9 291.0h.01M267.5 256.3h.01M277.7 243.5h.01M270.6 251.2h.01M246.6 287.8h.01M246.4 304.4h.01M256.4 277.1h.01M237.3 292.3h.01M244.7 298.0h.01M273.0 238.8h.01M244.3 283.6h.01M260.2 260.0h.01M258.7 278.9h.01M292.8 231.9h.01M264.3 260.0h.01M232.7 287.9h.01M271.5 242.2h.01M251.1 279.0h.01M253.7 262.5h.01M249.0 288.3h.01M270.3 259.5h.01M249.0 276.2h.01M246.0 277.2h.01" stroke="#fdbf6f" stroke-width="1.00" stroke-linecap="round" opacity="0.8" fill="none"/>
<path d="M231,235.5 L231,329.8 M229.2,327.6 L323.5,327.6" stroke="#3f4d68" stroke-width="1.6" fill="none"/>
<path d="M231,234.5 L227.7,241.5 L231,240 L234.3,241.5Z" fill="#3f4d68"/>
<path d="M325.5,327.6 L318.5,324.3 L320,327.6 L318.5,330.90000000000003Z" fill="#3f4d68"/>
<text transform="translate(224.4,307) rotate(-90)" x="0" y="0" font-size="10.2" textLength="50.1" lengthAdjust="spacingAndGlyphs" fill="#231f20" >Unspliced</text>
<text x="258" y="340.4" font-size="10.2" textLength="37.4" lengthAdjust="spacingAndGlyphs" fill="#231f20" >Spliced</text>
<line x1="406.5" y1="237.4" x2="406.5" y2="325" stroke="#d2d2d2" stroke-width="1" />
<line x1="446.5" y1="237.4" x2="446.5" y2="325" stroke="#d2d2d2" stroke-width="1" />
<line x1="486.5" y1="237.4" x2="486.5" y2="325" stroke="#d2d2d2" stroke-width="1" />
<line x1="394.4" y1="241.5" x2="525" y2="241.5" stroke="#d2d2d2" stroke-width="1" />
<line x1="394.4" y1="261.5" x2="525" y2="261.5" stroke="#d2d2d2" stroke-width="1" />
<line x1="394.4" y1="282.5" x2="525" y2="282.5" stroke="#d2d2d2" stroke-width="1" />
<line x1="394.4" y1="302.5" x2="525" y2="302.5" stroke="#d2d2d2" stroke-width="1" />
<line x1="394.4" y1="322.5" x2="525" y2="322.5" stroke="#d2d2d2" stroke-width="1" />
<path d="M459.0 247.4h.01M509.6 253.4h.01M463.1 257.1h.01M499.4 274.8h.01M461.5 259.4h.01M504.4 265.0h.01M518.8 266.9h.01M494.5 242.5h.01M452.8 249.9h.01M503.1 260.4h.01M484.3 243.9h.01M512.3 247.1h.01M460.7 267.6h.01M470.2 264.9h.01M516.2 246.7h.01M510.3 246.0h.01M515.5 270.7h.01M487.5 258.1h.01M498.6 252.7h.01M517.2 266.5h.01M497.5 264.7h.01M456.3 275.8h.01M461.1 245.5h.01M450.2 268.1h.01M458.0 257.6h.01M452.0 250.4h.01M477.7 258.9h.01M494.4 242.7h.01M512.0 246.2h.01M479.4 245.7h.01M461.6 265.5h.01M515.4 266.1h.01M516.0 250.3h.01M520.4 252.4h.01M451.7 268.3h.01M492.5 255.2h.01M495.4 253.9h.01M488.5 274.1h.01M463.5 260.5h.01M516.3 260.3h.01M488.6 262.8h.01M452.7 243.4h.01M474.9 255.6h.01M502.4 268.8h.01M464.6 264.1h.01M505.9 272.3h.01M465.1 252.6h.01M481.2 258.2h.01M471.1 250.0h.01M459.2 248.3h.01M513.6 245.1h.01M474.5 248.8h.01M504.1 247.6h.01M514.2 256.9h.01M470.4 256.0h.01M450.4 268.0h.01M487.8 268.5h.01M467.0 260.4h.01M512.9 264.3h.01M461.9 257.9h.01M501.9 252.6h.01M451.8 259.1h.01M469.5 263.5h.01M464.2 274.5h.01M511.4 269.8h.01M493.1 244.3h.01M497.5 263.8h.01M455.9 245.1h.01M472.2 263.2h.01M514.3 270.9h.01M494.2 265.8h.01M504.5 246.1h.01M486.1 256.4h.01M464.8 248.6h.01M515.8 264.5h.01M469.0 266.2h.01M462.2 267.1h.01M496.7 254.1h.01M456.2 262.3h.01M505.1 249.1h.01M501.3 273.6h.01M477.6 273.9h.01M487.1 243.0h.01M485.1 261.2h.01M455.4 266.4h.01M455.7 249.9h.01M475.4 243.1h.01M450.5 242.1h.01M463.4 266.0h.01M476.3 242.4h.01M495.2 255.1h.01M487.1 269.1h.01M462.5 243.8h.01M504.7 266.0h.01M507.2 256.7h.01M497.7 255.2h.01M499.5 258.5h.01M468.2 254.0h.01M510.4 271.3h.01M492.1 264.8h.01M462.8 255.2h.01M499.3 246.1h.01M495.2 259.1h.01M490.9 276.0h.01M483.9 272.3h.01M505.2 244.3h.01M502.6 254.1h.01M492.4 258.0h.01M454.8 255.8h.01M466.7 245.8h.01M520.5 248.3h.01M479.0 260.2h.01M495.6 266.5h.01M459.5 266.4h.01M491.1 264.8h.01M493.8 264.9h.01M504.9 242.3h.01M519.8 249.4h.01M482.8 253.4h.01M472.5 250.7h.01" stroke="#8fbc8f" stroke-width="1.00" stroke-linecap="round" opacity="0.6" fill="none"/>
<path d="M474.5 270.8h.01M479.0 274.6h.01M471.9 276.5h.01M449.5 283.5h.01M502.5 256.7h.01M503.8 251.2h.01M487.2 259.1h.01M468.3 276.2h.01M481.4 272.6h.01M503.8 252.2h.01M486.9 268.4h.01M485.3 266.4h.01M489.4 262.1h.01M504.6 254.7h.01M495.0 264.5h.01M459.8 271.1h.01M480.7 266.6h.01M505.7 251.8h.01M459.3 278.6h.01M455.1 275.3h.01M455.7 276.8h.01M451.0 274.5h.01M465.0 276.0h.01M495.7 259.3h.01M485.1 269.0h.01M488.4 263.3h.01M484.6 267.5h.01M477.5 273.0h.01M492.8 258.8h.01M458.3 276.4h.01M474.4 277.4h.01M470.4 261.9h.01M482.2 261.9h.01M492.2 260.5h.01M482.0 270.6h.01M485.5 261.4h.01M466.6 275.1h.01M486.9 268.8h.01M496.9 254.7h.01M475.2 263.3h.01M491.7 258.5h.01M483.4 264.0h.01M484.8 270.3h.01M489.7 262.3h.01M462.8 282.8h.01M453.1 275.6h.01M458.9 273.1h.01M481.6 265.7h.01M490.1 259.1h.01M485.6 262.8h.01M469.3 280.5h.01M472.6 271.9h.01M458.5 279.7h.01M489.3 260.2h.01M475.1 271.5h.01M465.4 282.1h.01M467.0 270.0h.01M501.2 256.5h.01M474.8 272.9h.01M502.6 244.0h.01M470.4 268.0h.01M460.9 271.7h.01M496.1 264.5h.01M497.2 252.1h.01M467.9 275.5h.01M501.8 258.0h.01M482.2 266.4h.01M501.1 254.7h.01M506.8 251.2h.01M476.0 274.2h.01M498.2 249.8h.01M463.1 281.6h.01M484.6 268.6h.01M472.4 267.0h.01M468.4 276.8h.01M479.9 270.4h.01M493.0 252.8h.01M457.2 277.9h.01M478.6 264.1h.01M485.8 264.8h.01M465.7 278.2h.01M484.7 260.9h.01M472.4 275.6h.01M480.1 265.2h.01M487.0 273.3h.01M493.9 259.5h.01M506.3 248.6h.01M503.0 249.2h.01M484.6 265.1h.01M467.4 274.6h.01M469.7 274.6h.01M496.3 261.8h.01M501.3 260.0h.01M493.0 258.6h.01M501.5 257.7h.01M486.0 266.2h.01M501.0 255.2h.01M486.9 266.1h.01M489.2 267.1h.01M492.3 254.5h.01M483.9 257.3h.01M496.7 256.3h.01M496.5 253.9h.01M480.0 262.3h.01M492.4 258.1h.01M470.4 275.0h.01M480.3 266.7h.01M500.7 251.1h.01M503.0 257.4h.01M501.5 257.1h.01" stroke="#8fbc8f" stroke-width="1.00" stroke-linecap="round" opacity="0.65" fill="none"/>
<path d="M464.6 289.4h.01M475.7 284.2h.01M475.5 296.0h.01M458.5 281.1h.01M485.2 294.4h.01M459.9 295.6h.01M464.6 278.7h.01M458.7 290.8h.01M467.0 291.4h.01M457.2 301.3h.01M466.4 283.8h.01M474.0 288.0h.01M467.9 300.3h.01M464.5 279.4h.01M477.2 299.3h.01M460.1 285.5h.01M473.2 284.9h.01M464.3 301.9h.01M467.9 286.2h.01M466.6 282.4h.01M467.3 281.4h.01M466.0 294.1h.01M460.9 292.5h.01M462.4 282.2h.01M469.4 288.9h.01M465.6 283.5h.01M458.2 297.8h.01M461.4 285.3h.01M461.5 292.0h.01M465.9 299.8h.01M467.6 282.2h.01M467.0 300.8h.01M461.7 288.6h.01M466.4 292.6h.01M456.7 283.1h.01M446.1 294.1h.01M465.9 294.8h.01M454.7 291.4h.01M459.7 298.4h.01M457.8 288.3h.01M470.7 276.4h.01M457.8 299.7h.01M468.2 290.8h.01M462.8 292.0h.01M457.6 291.6h.01M455.2 277.1h.01M469.4 283.5h.01M468.9 278.3h.01M471.6 292.9h.01M479.0 298.2h.01M468.1 293.2h.01M468.1 297.2h.01M465.3 284.6h.01M466.9 276.8h.01M463.7 286.7h.01M459.9 280.4h.01M480.1 283.9h.01M453.1 282.2h.01M467.9 280.7h.01M469.2 293.9h.01" stroke="#8fbc8f" stroke-width="1.00" stroke-linecap="round" opacity="0.6" fill="none"/>
<path d="M451.0 265.4h.01M445.1 282.3h.01M456.1 289.3h.01M455.0 261.0h.01M453.2 287.8h.01M449.2 276.4h.01M448.1 251.6h.01M453.5 265.3h.01M450.4 245.1h.01M451.5 263.3h.01M447.7 268.5h.01M453.1 280.9h.01M447.5 259.9h.01M450.2 274.2h.01M444.7 274.8h.01M447.9 268.6h.01M451.4 272.6h.01M448.5 265.7h.01M448.5 272.5h.01M452.2 265.7h.01M449.6 286.0h.01M453.6 250.1h.01M442.6 283.9h.01M451.5 278.5h.01M451.4 245.5h.01M445.2 277.4h.01M446.0 261.3h.01M452.5 267.8h.01M446.7 268.3h.01M447.9 278.1h.01M451.6 266.9h.01M448.9 273.6h.01M451.3 254.9h.01M447.3 248.2h.01M450.7 275.1h.01M453.1 289.5h.01M450.8 248.5h.01M443.3 286.0h.01M451.8 262.3h.01M450.0 274.4h.01" stroke="#b2df8a" stroke-width="1.00" stroke-linecap="round" opacity="0.6" fill="none"/>
<path d="M443.5 248.6h.01M442.2 281.4h.01M445.9 281.6h.01M447.3 286.5h.01M442.8 290.2h.01M440.0 264.4h.01M444.0 256.0h.01M439.7 268.9h.01M442.1 247.5h.01M447.3 258.6h.01M450.3 268.3h.01M444.9 259.0h.01M440.9 254.2h.01M446.0 293.0h.01M437.6 242.3h.01M441.9 307.3h.01M448.1 322.2h.01M445.9 279.6h.01M440.0 242.3h.01M439.2 269.8h.01M446.2 245.6h.01M443.7 257.4h.01M442.2 243.5h.01M445.0 269.1h.01M442.2 268.3h.01M438.5 248.2h.01M446.1 241.4h.01M442.0 244.0h.01M441.0 244.3h.01M440.1 257.5h.01M444.5 241.3h.01M441.6 255.4h.01M445.6 280.3h.01M443.1 264.1h.01M446.9 292.4h.01M442.8 246.0h.01M442.0 283.4h.01M438.4 280.6h.01M440.8 251.2h.01M452.4 247.9h.01M440.4 258.5h.01M441.0 252.0h.01M444.8 277.4h.01M445.2 259.0h.01M442.0 244.3h.01M444.1 300.0h.01M439.4 274.5h.01M443.0 245.9h.01M446.4 260.7h.01M448.4 271.9h.01M443.4 259.6h.01M443.1 254.6h.01M445.1 298.1h.01M446.9 299.2h.01M445.2 248.2h.01M441.8 248.1h.01M444.8 255.6h.01M446.5 309.5h.01M441.9 241.3h.01M440.1 280.8h.01M445.3 260.0h.01M444.9 244.4h.01M446.5 248.5h.01M444.1 259.7h.01M442.1 257.0h.01M442.6 265.2h.01M441.0 277.5h.01M441.2 252.4h.01M442.3 280.1h.01M442.5 260.0h.01M447.0 267.8h.01M440.4 248.6h.01M443.7 270.7h.01M442.2 243.7h.01M448.0 257.1h.01M444.6 257.8h.01M442.8 243.2h.01M446.1 272.2h.01M444.0 250.8h.01M442.5 244.4h.01M448.1 284.9h.01M445.8 243.8h.01M448.7 274.9h.01M447.1 264.7h.01M446.0 254.8h.01M444.2 257.0h.01M440.8 270.3h.01M445.8 244.1h.01M444.1 281.1h.01M445.8 278.0h.01M443.8 268.7h.01M442.0 268.6h.01M441.1 294.0h.01M445.8 283.8h.01M447.5 253.4h.01M443.1 276.1h.01M445.1 245.8h.01M447.7 272.2h.01M441.6 241.9h.01M442.9 246.0h.01M440.8 254.8h.01M447.2 255.9h.01M444.6 285.5h.01M442.6 258.9h.01M439.3 266.9h.01M443.4 243.2h.01M446.7 242.2h.01M443.1 305.8h.01M442.7 305.8h.01M445.7 261.6h.01M440.5 295.1h.01M444.0 250.7h.01M445.6 248.2h.01M441.6 250.9h.01M444.6 294.0h.01M443.6 279.2h.01M443.2 254.4h.01M444.5 254.9h.01M444.5 290.3h.01M441.3 245.8h.01M442.0 246.9h.01M445.1 255.6h.01M447.0 286.1h.01M447.7 265.5h.01M441.5 250.7h.01M446.9 256.9h.01M446.0 268.7h.01M443.8 251.0h.01M445.3 245.0h.01M446.2 245.9h.01M448.9 261.2h.01M441.0 243.8h.01M445.6 245.6h.01M443.5 283.4h.01M443.3 272.7h.01M447.1 250.2h.01M446.2 288.8h.01M441.1 248.6h.01M443.1 261.1h.01M444.5 265.6h.01M440.0 259.8h.01M446.3 261.6h.01M443.7 267.0h.01M444.4 261.5h.01M444.8 242.2h.01M448.9 322.3h.01M444.0 304.6h.01M442.9 242.1h.01M448.7 248.7h.01M442.5 268.8h.01M442.5 252.6h.01M440.1 315.1h.01M446.9 279.9h.01M444.7 274.0h.01M445.2 243.4h.01M444.4 282.4h.01M443.5 274.2h.01M441.7 256.4h.01M441.8 265.9h.01M445.1 265.5h.01M444.3 259.5h.01M448.4 255.3h.01M441.8 252.8h.01M442.6 243.6h.01M441.1 244.9h.01M447.7 258.8h.01M440.5 260.1h.01M446.1 245.7h.01M447.9 246.7h.01M443.5 242.9h.01M445.9 265.5h.01M438.0 291.5h.01M442.9 255.5h.01M439.3 262.8h.01M444.4 246.3h.01M443.9 276.6h.01M441.8 306.9h.01M446.5 301.3h.01M444.9 248.2h.01M442.5 278.5h.01M442.5 244.0h.01M439.9 307.4h.01M443.4 255.2h.01M449.8 278.6h.01M442.0 255.7h.01M445.1 279.9h.01M442.4 283.7h.01M446.2 247.3h.01M445.1 250.7h.01M443.3 304.7h.01M439.0 250.6h.01M442.5 279.3h.01M447.3 262.1h.01M443.3 265.8h.01M445.7 270.0h.01M442.6 258.7h.01M438.8 293.4h.01M445.1 259.2h.01M444.8 259.2h.01M442.3 260.2h.01M442.9 246.6h.01M444.7 248.1h.01M442.3 256.4h.01M444.9 259.4h.01M443.4 261.9h.01M437.4 250.0h.01M443.5 281.6h.01M442.3 243.2h.01M441.6 286.5h.01M445.0 242.3h.01M442.6 244.5h.01M445.4 272.8h.01M447.0 265.4h.01M444.3 297.7h.01M439.7 279.5h.01M441.9 282.7h.01M446.5 277.9h.01M443.2 246.5h.01M441.7 243.6h.01M443.7 259.7h.01M445.3 242.2h.01M444.7 281.4h.01M445.7 256.2h.01M441.7 254.3h.01M443.2 262.0h.01M443.2 254.4h.01M443.9 257.5h.01M438.1 295.6h.01" stroke="#fdbf6f" stroke-width="1.00" stroke-linecap="round" opacity="0.75" fill="none"/>
<path d="M439.2 270.4h.01M442.9 252.6h.01M441.5 267.5h.01M440.3 243.2h.01M444.3 271.0h.01M444.8 289.7h.01M438.0 276.4h.01M439.3 275.3h.01M447.0 269.7h.01M444.0 258.0h.01M444.7 280.7h.01M441.1 261.4h.01M441.6 258.8h.01M444.5 269.4h.01M441.2 290.7h.01M439.0 278.7h.01M442.9 275.7h.01M446.0 248.4h.01M439.3 282.4h.01M446.5 263.1h.01M445.3 273.4h.01M439.9 270.0h.01M442.9 281.3h.01M442.7 243.6h.01M445.1 246.9h.01M445.2 256.1h.01M438.4 252.1h.01M438.2 276.1h.01M446.4 247.8h.01M443.3 246.6h.01M444.3 268.5h.01M444.0 245.3h.01M448.2 281.7h.01M438.7 258.5h.01M446.7 257.1h.01M440.0 271.9h.01M445.4 290.8h.01M447.5 256.2h.01M438.1 253.3h.01M444.3 260.4h.01M441.9 281.0h.01M441.9 288.7h.01M443.0 249.7h.01M439.2 243.5h.01M439.5 257.3h.01M445.2 258.0h.01M445.8 279.4h.01M440.9 276.0h.01M437.8 279.4h.01M450.9 261.6h.01M446.7 263.4h.01M444.1 289.1h.01M439.3 244.4h.01M440.9 243.1h.01M443.7 242.8h.01" stroke="#f4a460" stroke-width="1.00" stroke-linecap="round" opacity="0.5" fill="none"/>
<path d="M439.2 273.7h.01M431.5 283.5h.01M436.1 273.8h.01M435.0 264.0h.01M439.1 269.6h.01M431.8 278.2h.01M426.5 268.7h.01M420.9 262.5h.01M428.7 268.5h.01M423.1 260.8h.01M442.1 260.7h.01M437.8 261.3h.01M425.4 271.8h.01M431.3 266.7h.01M430.2 262.9h.01M433.7 277.9h.01M442.6 274.5h.01M425.2 280.1h.01M434.0 262.3h.01M431.1 274.7h.01M442.8 265.1h.01M423.7 271.4h.01M434.8 270.0h.01M420.4 273.7h.01M432.1 273.4h.01M443.0 282.8h.01M436.7 274.9h.01M418.8 267.5h.01M443.6 279.4h.01M432.0 262.4h.01" stroke="#f4a460" stroke-width="1.00" stroke-linecap="round" opacity="0.5" fill="none"/>
<path d="M439.2 305.7h.01M445.7 312.7h.01M441.3 305.1h.01M441.8 309.7h.01M450.5 297.8h.01M443.7 295.1h.01M442.7 304.6h.01M441.7 300.3h.01M442.2 296.7h.01M445.2 321.9h.01M437.1 313.6h.01M448.6 304.0h.01M451.1 322.7h.01M448.6 295.3h.01M438.9 302.8h.01M432.5 319.4h.01M439.3 322.0h.01M442.7 316.6h.01M446.7 297.8h.01M440.8 309.6h.01M440.0 294.2h.01M450.8 294.0h.01M437.9 318.8h.01M448.1 292.1h.01M447.1 295.0h.01" stroke="#f4a460" stroke-width="1.00" stroke-linecap="round" opacity="0.5" fill="none"/>
<path d="M407.4 291.1h.01M449.8 311.7h.01M444.0 314.8h.01M415.1 300.4h.01M428.7 295.2h.01M466.6 322.2h.01M414.7 298.1h.01M404.7 298.1h.01M445.3 302.1h.01M407.6 297.9h.01M438.9 298.1h.01M417.8 320.5h.01" stroke="#f4a460" stroke-width="1.00" stroke-linecap="round" opacity="0.5" fill="none"/>
<path d="M444.5 281.3h.01M444.4 289.4h.01M445.6 283.0h.01M447.1 283.1h.01M445.4 288.9h.01M445.4 292.0h.01M447.3 290.2h.01M446.7 288.3h.01M446.6 283.1h.01M447.4 287.3h.01M444.5 279.6h.01M446.3 280.1h.01M445.0 279.3h.01M447.5 286.9h.01" stroke="#1f78b4" stroke-width="1.00" stroke-linecap="round" opacity="0.7" fill="none"/>
<rect x="394.5" y="237.5" width="131" height="88" fill="none" stroke="#8c8c8c" stroke-width="1" />
<path d="M396.00,235.82 L396.70,235.67 L397.40,235.44 L398.10,235.17 L398.80,234.91 L399.50,234.74 L400.20,234.71 L400.90,234.83 L401.60,235.06 L402.30,235.33 L403.00,235.58 L403.70,235.77 L404.40,235.88 L405.10,235.95 L405.80,235.98 L406.50,235.99 L407.20,236.00 L407.90,236.00 L408.60,236.00 L409.30,236.00 L410.00,236.00" fill="none" stroke="#ff7f00" stroke-width="1.3"/>
<path d="M400.00,235.70 L400.70,235.70 L401.40,235.70 L402.10,235.70 L402.80,235.70 L403.50,235.70 L404.20,235.70 L404.90,235.70 L405.60,235.70 L406.30,235.70 L407.00,235.70 L407.70,235.70 L408.40,235.70 L409.10,235.70 L409.80,235.69 L410.50,235.69 L411.20,235.69 L411.90,235.69 L412.60,235.69 L413.30,235.69 L414.00,235.68 L414.70,235.68 L415.40,235.68 L416.10,235.67 L416.80,235.67 L417.50,235.66 L418.20,235.65 L418.90,235.65 L419.60,235.64 L420.30,235.63 L421.00,235.62 L421.70,235.61 L422.40,235.59 L423.10,235.58 L423.80,235.57 L424.50,235.55 L425.20,235.53 L425.90,235.51 L426.60,235.50 L427.30,235.48 L428.00,235.46 L428.70,235.44 L429.40,235.41 L430.10,235.39 L430.80,235.37 L431.50,235.35 L432.20,235.33 L432.90,235.31 L433.60,235.29 L434.30,235.27 L435.00,235.26 L435.70,235.24 L436.40,235.23 L437.10,235.22 L437.80,235.21 L438.50,235.21 L439.20,235.20 L439.90,235.20 L440.60,235.20 L441.30,235.20 L442.00,235.21 L442.70,235.22 L443.40,235.23 L444.10,235.24 L444.80,235.25 L445.50,235.27 L446.20,235.29 L446.90,235.31 L447.60,235.33 L448.30,235.35 L449.00,235.37 L449.70,235.39 L450.40,235.41 L451.10,235.43 L451.80,235.45 L452.50,235.47 L453.20,235.49 L453.90,235.51 L454.60,235.53 L455.30,235.54 L456.00,235.56 L456.70,235.58 L457.40,235.59 L458.10,235.60 L458.80,235.61 L459.50,235.63 L460.20,235.63 L460.90,235.64 L461.60,235.65 L462.30,235.66 L463.00,235.66 L463.70,235.67 L464.40,235.67 L465.10,235.68 L465.80,235.68 L466.50,235.69 L467.20,235.69 L467.90,235.69 L468.60,235.69 L469.30,235.69 L470.00,235.69" fill="none" stroke="#fdbf6f" stroke-width="1.0"/>
<path d="M400.00,235.60 L400.70,235.60 L401.40,235.60 L402.10,235.60 L402.80,235.60 L403.50,235.60 L404.20,235.60 L404.90,235.60 L405.60,235.60 L406.30,235.60 L407.00,235.60 L407.70,235.60 L408.40,235.60 L409.10,235.60 L409.80,235.60 L410.50,235.60 L411.20,235.60 L411.90,235.60 L412.60,235.60 L413.30,235.60 L414.00,235.60 L414.70,235.60 L415.40,235.60 L416.10,235.60 L416.80,235.60 L417.50,235.60 L418.20,235.60 L418.90,235.60 L419.60,235.60 L420.30,235.60 L421.00,235.60 L421.70,235.60 L422.40,235.60 L423.10,235.60 L423.80,235.60 L424.50,235.60 L425.20,235.60 L425.90,235.60 L426.60,235.60 L427.30,235.60 L428.00,235.60 L428.70,235.60 L429.40,235.60 L430.10,235.60 L430.80,235.60 L431.50,235.60 L432.20,235.60 L432.90,235.60 L433.60,235.60 L434.30,235.60 L435.00,235.60 L435.70,235.60 L436.40,235.60 L437.10,235.60 L437.80,235.59 L438.50,235.58 L439.20,235.57 L439.90,235.55 L440.60,235.52 L441.30,235.47 L442.00,235.41 L442.70,235.34 L443.40,235.26 L444.10,235.13 L444.80,234.40 L445.50,230.78 L446.20,224.16 L446.90,223.46 L447.60,229.89 L448.30,234.13 L449.00,235.09 L449.70,235.25 L450.40,235.33 L451.10,235.41 L451.80,235.47 L452.50,235.51 L453.20,235.55 L453.90,235.57 L454.60,235.58 L455.30,235.59 L456.00,235.60 L456.70,235.60 L457.40,235.60 L458.10,235.60 L458.80,235.60 L459.50,235.60 L460.20,235.60 L460.90,235.60 L461.60,235.60 L462.30,235.60 L463.00,235.60 L463.70,235.60 L464.40,235.60 L465.10,235.60 L465.80,235.60 L466.50,235.60 L467.20,235.60 L467.90,235.60 L468.60,235.60 L469.30,235.60 L470.00,235.60 L470.70,235.60 L471.40,235.60 L472.10,235.60 L472.80,235.60 L473.50,235.60 L474.20,235.60 L474.90,235.60 L475.60,235.60 L476.30,235.60 L477.00,235.60 L477.70,235.60 L478.40,235.60 L479.10,235.60 L479.80,235.60 L480.50,235.60 L481.20,235.60 L481.90,235.60 L482.60,235.60 L483.30,235.60 L484.00,235.60 L484.70,235.60 L485.40,235.60 L486.10,235.60 L486.80,235.60 L487.50,235.60 L488.20,235.60 L488.90,235.60 L489.60,235.60 L490.30,235.60 L491.00,235.60 L491.70,235.60 L492.40,235.60 L493.10,235.60 L493.80,235.60 L494.50,235.60 L495.20,235.60 L495.90,235.60 L496.60,235.60 L497.30,235.60 L498.00,235.60 L498.70,235.60 L499.40,235.60 L500.10,235.60 L500.80,235.60 L501.50,235.60 L502.20,235.60 L502.90,235.60 L503.60,235.60 L504.30,235.60 L505.00,235.60 L505.70,235.60 L506.40,235.60 L507.10,235.60 L507.80,235.60 L508.50,235.60 L509.20,235.60 L509.90,235.60 L510.60,235.60 L511.30,235.60 L512.00,235.60 L512.70,235.60 L513.40,235.60 L514.10,235.60 L514.80,235.60 L515.50,235.60 L516.20,235.60 L516.90,235.60 L517.60,235.60 L518.30,235.60 L519.00,235.60" fill="none" stroke="#8fbc8f" stroke-width="1.1"/>
<path d="M528.90,241.80 L528.87,242.50 L528.74,243.20 L528.54,243.90 L528.33,244.60 L528.16,245.30 L528.04,246.00 L527.96,246.70 L527.93,247.40 L527.91,248.10 L527.90,248.80 L527.90,249.50 L527.90,250.20 L527.90,250.90 L527.90,251.60 L527.90,252.30 L527.90,253.00 L527.90,253.70 L527.90,254.40 L527.90,255.10 L527.90,255.80 L527.90,256.50 L527.90,257.20 L527.90,257.90 L527.90,258.60 L527.90,259.30 L527.90,260.00 L527.90,260.70 L527.90,261.40 L527.90,262.10 L527.90,262.80 L527.91,263.50 L527.91,264.20 L527.91,264.90 L527.92,265.60 L527.93,266.30 L527.94,267.00 L527.96,267.70 L527.98,268.40 L528.01,269.10 L528.05,269.80 L528.10,270.50 L528.16,271.20 L528.22,271.90 L528.30,272.60 L528.39,273.30 L528.48,274.00 L528.58,274.70 L528.69,275.40 L528.79,276.10 L528.88,276.80 L528.96,277.50 L529.02,278.20 L529.07,278.90 L529.10,279.60 L529.10,280.30 L529.08,281.00 L529.03,281.70 L528.97,282.40 L528.89,283.10 L528.80,283.80 L528.70,284.50 L528.60,285.20 L528.50,285.90 L528.40,286.60 L528.31,287.30 L528.23,288.00 L528.16,288.70 L528.10,289.40" fill="none" stroke="#6a3d9a" stroke-width="1.2"/>
<path d="M531.00,241.80 L531.72,242.50 L532.40,243.20 L532.96,243.90 L533.33,244.60 L533.49,245.30 L533.42,246.00 L533.15,246.70 L532.76,247.40 L532.31,248.10 L531.88,248.80 L531.53,249.50 L531.27,250.20 L531.13,250.90 L531.08,251.60 L531.12,252.30 L531.22,253.00 L531.35,253.70 L531.49,254.40 L531.65,255.10 L531.79,255.80 L531.92,256.50 L532.04,257.20 L532.14,257.90 L532.21,258.60 L532.27,259.30 L532.31,260.00 L532.32,260.70 L532.32,261.40 L532.30,262.10 L532.26,262.80 L532.20,263.50 L532.13,264.20 L532.05,264.90 L531.95,265.60 L531.84,266.30 L531.73,267.00 L531.61,267.70 L531.48,268.40 L531.37,269.10 L531.27,269.80 L531.21,270.50 L531.22,271.20 L531.33,271.90 L531.59,272.60 L532.04,273.30 L532.73,274.00 L533.66,274.70 L534.79,275.40 L536.03,276.10 L537.26,276.80 L538.29,277.50 L538.98,278.20 L539.19,278.90 L538.87,279.60 L538.05,280.30 L536.84,281.00 L535.40,281.70 L533.90,282.40 L532.48,283.10 L531.25,283.80 L530.26,284.50 L529.52,285.20 L529.00,285.90 L528.64,286.60 L528.41,287.30 L528.27,288.00 L528.19,288.70 L528.13,289.40 L528.10,290.10 L528.07,290.80 L528.06,291.50 L528.04,292.20 L528.03,292.90 L528.03,293.60 L528.02,294.30 L528.02,295.00 L528.01,295.70 L528.01,296.40 L528.01,297.10 L528.00,297.80 L528.00,298.50 L528.00,299.20 L528.00,299.90 L528.00,300.60 L528.00,301.30 L528.00,302.00 L528.00,302.70 L528.00,303.40 L528.00,304.10 L528.00,304.80 L528.00,305.50 L528.00,306.20 L528.00,306.90 L528.00,307.60 L528.00,308.30 L528.00,309.00 L528.00,309.70 L528.00,310.40 L528.00,311.10 L528.00,311.80 L528.00,312.50 L528.00,313.20 L528.00,313.90 L528.00,314.60 L528.00,315.30 L528.00,316.00 L528.00,316.70 L528.00,317.40 L528.00,318.10 L528.00,318.80 L528.00,319.50" fill="none" stroke="#ff7f00" stroke-width="1.0"/>
<path d="M532.06,241.80 L533.05,242.50 L533.98,243.20 L534.74,243.90 L535.23,244.60 L535.39,245.30 L535.23,246.00 L534.79,246.70 L534.17,247.40 L533.46,248.10 L532.79,248.80 L532.22,249.50 L531.81,250.20 L531.56,250.90 L531.46,251.60 L531.48,252.30 L531.60,253.00 L531.76,253.70 L531.96,254.40 L532.17,255.10 L532.37,255.80 L532.55,256.50 L532.70,257.20 L532.83,257.90 L532.92,258.60 L532.98,259.30 L533.00,260.00 L532.98,260.70 L532.92,261.40 L532.83,262.10 L532.70,262.80 L532.54,263.50 L532.36,264.20 L532.15,264.90 L531.92,265.60 L531.67,266.30 L531.42,267.00 L531.16,267.70 L530.91,268.40 L530.68,269.10 L530.48,269.80 L530.31,270.50 L530.22,271.20 L530.20,271.90 L530.30,272.60 L530.54,273.30 L530.92,274.00 L531.47,274.70 L532.16,275.40 L532.96,276.10 L533.82,276.80 L534.66,277.50 L535.38,278.20 L535.92,278.90 L536.20,279.60 L536.17,280.30 L535.84,281.00 L535.24,281.70 L534.42,282.40 L533.48,283.10 L532.50,283.80 L531.55,284.50 L530.69,285.20 L529.96,285.90 L529.37,286.60 L528.92,287.30 L528.60,288.00 L528.37,288.70 L528.22,289.40 L528.13,290.10 L528.07,290.80 L528.04,291.50 L528.02,292.20 L528.01,292.90 L528.00,293.60 L528.00,294.30 L528.00,295.00 L528.00,295.70 L528.00,296.40 L528.00,297.10 L528.00,297.80 L528.00,298.50 L528.00,299.20 L528.00,299.90 L528.00,300.60 L528.00,301.30 L528.00,302.00 L528.00,302.70 L528.00,303.40 L528.00,304.10 L528.00,304.80 L528.00,305.50 L528.00,306.20 L528.00,306.90 L528.00,307.60 L528.00,308.30 L528.00,309.00 L528.00,309.70 L528.00,310.40 L528.00,311.10 L528.00,311.80 L528.00,312.50 L528.00,313.20 L528.00,313.90 L528.00,314.60 L528.00,315.30 L528.00,316.00 L528.00,316.70 L528.00,317.40 L528.00,318.10 L528.00,318.80 L528.00,319.50" fill="none" stroke="#fdbf6f" stroke-width="1.0"/>
<path d="M527.60,250.00 L527.60,250.70 L527.60,251.40 L527.60,252.10 L527.60,252.80 L527.60,253.50 L527.60,254.20 L527.60,254.90 L527.60,255.60 L527.60,256.30 L527.60,257.00 L527.60,257.70 L527.60,258.40 L527.60,259.10 L527.60,259.80 L527.60,260.50 L527.60,261.20 L527.60,261.90 L527.60,262.60 L527.60,263.30 L527.60,264.00 L527.60,264.70 L527.60,265.40 L527.60,266.10 L527.60,266.80 L527.60,267.50 L527.60,268.20 L527.60,268.90 L527.60,269.60 L527.60,270.30 L527.60,271.00 L527.61,271.70 L527.62,272.40 L527.64,273.10 L527.69,273.80 L527.77,274.50 L527.92,275.20 L528.18,275.90 L528.58,276.60 L529.16,277.30 L529.97,278.00 L531.00,278.70 L532.22,279.40 L533.55,280.10 L534.86,280.80 L535.98,281.50 L536.77,282.20 L537.09,282.90 L536.91,283.60 L536.25,284.30 L535.21,285.00 L533.94,285.70 L532.60,286.40 L531.33,287.10 L530.24,287.80 L529.37,288.50 L528.72,289.20 L528.27,289.90 L527.98,290.60 L527.81,291.30 L527.71,292.00 L527.65,292.70 L527.62,293.40 L527.61,294.10 L527.60,294.80 L527.60,295.50 L527.60,296.20 L527.60,296.90 L527.60,297.60 L527.60,298.30 L527.60,299.00 L527.60,299.70 L527.60,300.40 L527.60,301.10 L527.60,301.80 L527.60,302.50 L527.60,303.20 L527.60,303.90 L527.60,304.60 L527.60,305.30 L527.60,306.00 L527.60,306.70 L527.60,307.40 L527.60,308.10 L527.60,308.80 L527.60,309.50" fill="none" stroke="#1f78b4" stroke-width="1.0"/>
<path d="M535.19,241.80 L535.96,242.50 L536.11,243.20 L535.62,243.90 L534.60,244.60 L533.27,245.30 L531.88,246.00 L530.64,246.70 L529.67,247.40 L529.00,248.10 L528.62,248.80 L528.46,249.50 L528.46,250.20 L528.56,250.90 L528.74,251.60 L528.96,252.30 L529.23,253.00 L529.52,253.70 L529.84,254.40 L530.18,255.10 L530.53,255.80 L530.88,256.50 L531.23,257.20 L531.56,257.90 L531.86,258.60 L532.12,259.30 L532.33,260.00 L532.48,260.70 L532.58,261.40 L532.60,262.10 L532.56,262.80 L532.45,263.50 L532.27,264.20 L532.05,264.90 L531.78,265.60 L531.47,266.30 L531.13,267.00 L530.79,267.70 L530.43,268.40 L530.09,269.10 L529.77,269.80 L529.48,270.50 L529.24,271.20 L529.07,271.90 L529.01,272.60 L529.09,273.30 L529.39,274.00 L529.95,274.70 L530.86,275.40 L532.16,276.10 L533.88,276.80 L535.96,277.50 L538.31,278.20 L540.72,278.90 L542.97,279.60 L544.77,280.30 L545.91,281.00 L546.21,281.70 L545.64,282.40 L544.28,283.10 L542.29,283.80 L539.94,284.50 L537.48,285.20 L535.14,285.90 L533.09,286.60 L531.41,287.30 L530.12,288.00 L529.19,288.70 L528.55,289.40 L528.15,290.10 L527.90,290.80 L527.76,291.50 L527.68,292.20 L527.64,292.90 L527.62,293.60 L527.61,294.30 L527.60,295.00 L527.60,295.70 L527.60,296.40 L527.60,297.10 L527.60,297.80 L527.60,298.50 L527.60,299.20 L527.60,299.90 L527.60,300.60 L527.60,301.30 L527.60,302.00 L527.60,302.70 L527.60,303.40 L527.60,304.10 L527.60,304.80 L527.60,305.50 L527.60,306.20 L527.60,306.90 L527.60,307.60 L527.60,308.30 L527.60,309.00 L527.60,309.70 L527.60,310.40 L527.60,311.10 L527.60,311.80 L527.60,312.50 L527.60,313.20 L527.60,313.90 L527.60,314.60 L527.60,315.30 L527.60,316.00 L527.60,316.70 L527.60,317.40 L527.60,318.10 L527.60,318.80 L527.60,319.50" fill="none" stroke="#8fbc8f" stroke-width="1.0"/>
<text x="375.9" y="245.2" font-size="9" textLength="12.5" lengthAdjust="spacingAndGlyphs" fill="#231f20" >0.2</text>
<text x="377.9" y="265.2" font-size="9" textLength="10.5" lengthAdjust="spacingAndGlyphs" fill="#231f20" >0.1</text>
<text x="383.6" y="285.6" font-size="9" textLength="4.8" lengthAdjust="spacingAndGlyphs" fill="#231f20" >0</text>
<text x="373.6" y="305.8" font-size="9" textLength="14.8" lengthAdjust="spacingAndGlyphs" fill="#231f20" >−0.1</text>
<text x="371.3" y="326.1" font-size="9" textLength="17.1" lengthAdjust="spacingAndGlyphs" fill="#231f20" >−0.2</text>
<text x="394" y="337" font-size="9" textLength="23" lengthAdjust="spacingAndGlyphs" fill="#231f20" >−0.02</text>
<text x="444.4" y="337" font-size="9" textLength="4.6" lengthAdjust="spacingAndGlyphs" fill="#231f20" >0</text>
<text x="477" y="337" font-size="9" textLength="19" lengthAdjust="spacingAndGlyphs" fill="#231f20" >0.02</text>
<text x="433.6" y="355" font-size="10.2" textLength="52" lengthAdjust="spacingAndGlyphs" fill="#231f20" >VI velocity</text>
<text transform="translate(357.7,309.2) rotate(-90)" x="0" y="0" font-size="10.2" textLength="56.5" lengthAdjust="spacingAndGlyphs" fill="#231f20" >EM velocity</text>
<text x="490.4" y="312" font-size="9.2" textLength="29.2" lengthAdjust="spacingAndGlyphs" fill="#231f20" ><tspan font-style="italic">r</tspan> = 0.13</text>
<path d="M587.1 320.4h.01M591.9 317.9h.01M591.9 321.3h.01M585.5 313.7h.01M593.0 321.7h.01M587.5 317.9h.01M583.3 321.5h.01M589.8 318.6h.01M591.1 320.8h.01M595.0 322.5h.01M590.2 316.9h.01M597.0 318.6h.01M596.9 317.9h.01M595.7 319.0h.01M596.5 313.9h.01M593.1 317.9h.01M590.0 317.7h.01M594.1 316.2h.01M595.2 317.9h.01M592.7 314.1h.01M591.1 322.3h.01M586.5 319.6h.01M594.2 323.6h.01M593.1 316.0h.01M587.4 315.2h.01M592.2 319.2h.01M594.4 313.8h.01M591.5 319.0h.01M594.6 316.5h.01M594.5 317.5h.01M586.8 319.1h.01M590.9 318.5h.01M593.6 323.6h.01M595.1 320.2h.01M596.8 314.8h.01M585.3 321.1h.01M591.7 314.7h.01M594.4 318.6h.01M596.1 315.0h.01M597.7 316.1h.01M588.7 322.0h.01M590.6 316.9h.01M588.3 316.6h.01M594.7 316.8h.01M587.3 317.5h.01M596.0 322.4h.01M595.1 315.1h.01M593.6 315.0h.01M584.4 320.0h.01M589.6 314.0h.01M594.5 317.4h.01M587.0 321.5h.01M591.1 318.4h.01M591.5 317.1h.01M595.0 316.4h.01M592.9 315.9h.01M592.8 316.8h.01M590.4 318.8h.01M591.9 321.8h.01M591.4 321.1h.01" stroke="#fdbf6f" stroke-width="1.00" stroke-linecap="round" opacity="0.75" fill="none"/>
<path d="M589.9 320.1h.01M589.3 318.4h.01M594.3 315.9h.01M585.6 320.4h.01M590.3 314.2h.01M590.7 320.1h.01M588.0 315.9h.01M588.4 319.4h.01M593.0 322.1h.01M586.1 319.9h.01M588.7 316.6h.01M589.6 318.2h.01M592.1 317.3h.01M587.1 315.1h.01M595.6 315.2h.01M590.7 318.4h.01M590.9 319.8h.01M590.6 313.4h.01M589.5 318.1h.01M588.4 319.7h.01M595.8 318.6h.01M592.5 315.5h.01M591.4 321.1h.01M595.2 314.9h.01M589.3 320.1h.01" stroke="#f4a460" stroke-width="1.00" stroke-linecap="round" opacity="0.5" fill="none"/>
<path d="M594.0 319.1h.01M586.8 319.9h.01M591.3 317.5h.01M591.4 317.0h.01M591.3 317.9h.01M589.3 318.8h.01M590.2 318.9h.01M588.1 318.6h.01" stroke="#1f78b4" stroke-width="1.00" stroke-linecap="round" opacity="0.5" fill="none"/>
<path d="M595.8 300.4h.01M624.7 259.1h.01M665.2 243.9h.01M591.7 316.2h.01M619.6 274.0h.01M594.7 303.6h.01M630.0 266.4h.01M631.8 263.6h.01M614.5 269.1h.01M598.2 308.0h.01M636.3 244.1h.01M627.1 265.4h.01M628.7 267.1h.01M634.6 257.3h.01M661.2 235.3h.01M613.0 273.3h.01M660.4 236.4h.01M602.0 306.0h.01M616.3 272.6h.01M602.1 292.4h.01M607.3 282.3h.01M660.4 241.4h.01M660.0 243.6h.01M621.1 270.5h.01M608.0 283.0h.01M611.7 286.4h.01M655.5 239.1h.01M628.8 278.6h.01M600.5 295.6h.01M651.9 243.6h.01M618.2 259.9h.01M621.0 280.6h.01M656.1 250.8h.01M646.8 247.2h.01M588.4 320.5h.01M665.7 242.3h.01M615.5 270.8h.01M604.6 296.8h.01M657.5 243.2h.01M610.7 280.5h.01M638.5 256.2h.01M637.9 244.5h.01M597.3 304.5h.01M669.4 244.5h.01M617.7 258.9h.01M597.8 307.9h.01M621.9 261.6h.01M588.8 313.4h.01M666.7 242.7h.01M637.4 257.6h.01M609.6 275.8h.01M647.1 246.4h.01M650.7 253.6h.01M641.3 254.4h.01M603.5 301.3h.01M593.1 302.4h.01M649.4 250.3h.01M654.1 245.6h.01M613.1 278.3h.01M615.0 283.4h.01M614.8 276.6h.01M612.1 284.2h.01M660.4 241.6h.01M621.7 270.1h.01M637.4 249.2h.01M637.3 266.0h.01M587.5 309.0h.01M596.6 306.7h.01M601.0 306.1h.01M620.8 275.8h.01M641.0 261.0h.01M672.4 240.9h.01M661.2 252.6h.01M638.2 259.1h.01M614.5 274.0h.01M608.6 280.7h.01M638.1 254.1h.01M611.1 279.7h.01M642.6 245.2h.01M643.7 257.2h.01M604.7 303.5h.01M652.8 250.0h.01M597.4 311.7h.01M600.4 281.7h.01M670.0 241.0h.01M638.0 258.5h.01M652.8 245.1h.01M658.6 243.1h.01M608.4 292.3h.01M644.2 249.9h.01M615.2 284.6h.01M590.6 305.4h.01M593.3 305.3h.01M598.2 296.5h.01M625.3 257.8h.01M632.5 254.8h.01M655.0 253.1h.01M601.8 289.4h.01M648.3 253.8h.01M603.3 296.7h.01M610.8 290.6h.01M634.8 260.1h.01M611.1 274.2h.01M665.5 234.0h.01M601.4 284.1h.01M601.1 290.2h.01M652.7 243.1h.01M662.3 244.9h.01M604.3 291.9h.01M604.1 288.6h.01M625.1 262.6h.01M596.2 305.6h.01M610.2 281.5h.01M647.1 244.4h.01M648.3 255.3h.01M596.9 304.2h.01M606.7 284.1h.01M606.5 284.2h.01M632.6 253.6h.01M599.3 294.1h.01M666.2 246.6h.01M594.8 303.7h.01M619.7 262.9h.01M639.9 250.8h.01M666.5 244.9h.01M631.4 265.9h.01M650.0 241.6h.01M626.6 263.4h.01M603.8 285.7h.01M617.2 277.3h.01M634.4 260.7h.01M619.6 275.5h.01M645.8 250.1h.01M621.6 263.4h.01M608.9 274.9h.01M630.6 270.7h.01M626.5 259.8h.01M585.0 317.2h.01M611.1 284.2h.01M624.4 260.5h.01M644.3 250.4h.01M615.5 278.3h.01M642.1 260.4h.01M621.8 266.1h.01M613.4 281.5h.01M604.5 298.6h.01M647.0 247.2h.01M659.6 242.7h.01M643.3 248.1h.01M598.3 292.6h.01M638.9 254.2h.01M620.9 266.1h.01M658.5 240.5h.01M595.4 307.6h.01M640.0 245.4h.01M616.7 266.7h.01M650.0 249.7h.01M631.7 258.0h.01M590.4 310.6h.01M637.7 258.1h.01M625.2 268.1h.01M597.5 288.3h.01M599.9 300.3h.01M610.3 279.4h.01M624.8 265.1h.01M618.8 266.3h.01M596.2 314.3h.01M602.4 300.2h.01M643.8 260.6h.01M625.4 261.0h.01" stroke="#8fbc8f" stroke-width="1.00" stroke-linecap="round" opacity="0.65" fill="none"/>
<path d="M668.4 261.0h.01M664.1 259.4h.01M650.4 256.9h.01M670.0 251.0h.01M668.7 256.1h.01M647.4 248.7h.01M678.9 250.5h.01M649.1 246.1h.01M651.2 255.0h.01M656.9 249.7h.01M667.3 260.6h.01M665.6 258.7h.01M659.1 246.5h.01M673.0 267.6h.01M663.9 244.1h.01M673.3 256.6h.01M661.8 263.2h.01M635.4 235.4h.01M655.7 261.0h.01M649.7 262.7h.01M660.9 264.5h.01M660.9 235.3h.01M648.2 247.6h.01M648.9 252.2h.01M657.5 249.4h.01M658.1 263.7h.01M635.0 247.6h.01M669.4 262.8h.01M660.3 257.5h.01M659.9 241.4h.01M662.9 245.1h.01M650.1 249.3h.01M659.5 253.8h.01M670.0 260.9h.01M670.4 251.5h.01M664.5 260.3h.01M657.3 240.4h.01M672.8 250.3h.01M665.1 256.7h.01M655.9 250.1h.01M639.0 244.9h.01M651.6 256.4h.01M641.3 268.5h.01M672.1 252.2h.01M661.8 247.2h.01M652.8 246.2h.01M657.3 268.7h.01M671.8 257.9h.01M646.9 262.8h.01M658.7 261.6h.01M648.0 245.6h.01M643.2 260.6h.01M661.7 259.8h.01M683.6 256.9h.01M675.3 261.1h.01M660.4 248.5h.01M656.3 252.4h.01M662.0 248.8h.01M670.1 259.1h.01M645.7 247.8h.01M641.7 256.1h.01M678.4 244.2h.01M662.7 252.0h.01M675.8 250.1h.01M662.3 252.1h.01M674.5 254.1h.01M654.0 251.5h.01M664.9 251.2h.01M675.3 236.4h.01M670.0 261.8h.01M655.5 248.0h.01M668.8 251.0h.01M653.4 246.4h.01M645.9 261.0h.01M665.2 245.8h.01M673.8 257.0h.01M668.4 262.4h.01M647.6 266.2h.01M668.6 262.5h.01M666.7 258.0h.01M655.5 243.4h.01M635.4 263.3h.01M670.0 262.5h.01M668.8 259.7h.01M664.9 259.4h.01M642.9 253.6h.01M645.2 248.9h.01" stroke="#8fbc8f" stroke-width="1.00" stroke-linecap="round" opacity="0.65" fill="none"/>
<path d="M649.5 272.8h.01M655.4 276.2h.01M628.2 297.7h.01M608.1 311.9h.01M605.5 308.8h.01M654.5 277.1h.01M626.9 298.8h.01M674.1 256.9h.01M605.7 314.4h.01M663.1 266.1h.01M645.4 283.7h.01M620.8 304.2h.01M616.3 298.3h.01M620.4 299.2h.01M630.6 297.4h.01M614.5 302.7h.01M623.4 302.0h.01M670.6 247.8h.01M636.4 302.1h.01M653.9 278.6h.01M664.6 275.1h.01M620.1 304.2h.01M676.9 256.0h.01M622.3 306.5h.01M611.9 301.7h.01M598.5 312.2h.01M617.5 317.9h.01M599.7 315.6h.01M639.9 278.3h.01M647.2 282.4h.01M598.3 322.8h.01M666.7 247.6h.01M658.5 274.8h.01M652.9 283.1h.01M672.3 256.1h.01M639.5 285.6h.01M618.3 305.5h.01M658.0 265.0h.01M670.5 241.7h.01M598.7 320.1h.01M638.1 280.4h.01M618.9 303.5h.01M670.8 264.2h.01M600.9 311.5h.01M662.4 268.8h.01M614.1 305.4h.01M649.8 282.1h.01M656.6 277.1h.01M657.3 268.3h.01M597.3 322.2h.01M637.7 287.2h.01M602.0 305.4h.01M608.4 309.7h.01M608.7 311.0h.01M604.3 304.8h.01M667.3 257.5h.01M641.4 285.8h.01M617.6 313.1h.01M638.2 285.4h.01M599.8 319.1h.01M610.9 298.6h.01M656.4 277.8h.01M660.9 277.3h.01M649.5 281.8h.01M677.0 249.3h.01M674.0 249.6h.01M663.3 260.9h.01M636.6 287.8h.01M671.9 272.2h.01M622.2 306.6h.01M670.6 263.4h.01M615.6 308.7h.01M675.8 254.1h.01M607.1 311.4h.01M664.2 264.9h.01M643.6 286.3h.01M668.9 262.5h.01M643.3 290.0h.01M671.2 266.9h.01M658.6 275.0h.01M653.5 279.6h.01M668.2 258.1h.01M617.4 310.3h.01M670.8 253.6h.01M641.0 289.3h.01M663.7 277.6h.01M652.2 284.1h.01M630.5 297.0h.01M637.5 288.3h.01M672.3 248.3h.01" stroke="#f4a460" stroke-width="1.00" stroke-linecap="round" opacity="0.55" fill="none"/>
<path d="M658.9 268.8h.01M665.1 273.3h.01M647.4 266.1h.01M667.9 256.7h.01M671.7 264.1h.01M665.7 266.6h.01M663.7 273.0h.01M672.5 245.8h.01M664.9 265.1h.01M671.8 248.2h.01M679.9 267.7h.01M670.0 265.6h.01M671.5 266.0h.01M668.5 269.0h.01M666.9 265.2h.01M667.0 257.3h.01M665.6 264.9h.01M672.4 271.4h.01M654.4 261.3h.01M663.4 262.4h.01M669.6 252.9h.01M659.5 271.1h.01M664.5 258.4h.01M660.5 256.5h.01M668.1 258.8h.01" stroke="#f4a460" stroke-width="1.00" stroke-linecap="round" opacity="0.5" fill="none"/>
<path d="M584,235.5 L584,329.8 M582.2,327.6 L676.5,327.6" stroke="#3f4d68" stroke-width="1.6" fill="none"/>
<path d="M584,234.5 L580.7,241.5 L584,240 L587.3,241.5Z" fill="#3f4d68"/>
<path d="M678.5,327.6 L671.5,324.3 L673,327.6 L671.5,330.90000000000003Z" fill="#3f4d68"/>
<text transform="translate(577,307) rotate(-90)" x="0" y="0" font-size="10.2" textLength="50.1" lengthAdjust="spacingAndGlyphs" fill="#231f20" >Unspliced</text>
<text x="611.6" y="340.4" font-size="10.2" textLength="37.4" lengthAdjust="spacingAndGlyphs" fill="#231f20" >Spliced</text>
<rect x="60" y="373.6" width="10.3" height="10.3" fill="#8fbc8f" stroke="none" stroke-width="1" />
<text x="75.4" y="382.1" font-size="11" textLength="31.1" lengthAdjust="spacingAndGlyphs" fill="#231f20" >Ductal</text>
<rect x="125" y="373.6" width="10.3" height="10.3" fill="#f4a460" stroke="none" stroke-width="1" />
<text x="139.6" y="382.1" font-size="11" textLength="62.8" lengthAdjust="spacingAndGlyphs" fill="#231f20" >Ngn3 low EP</text>
<rect x="216" y="373.6" width="10.3" height="10.3" fill="#fdbf6f" stroke="none" stroke-width="1" />
<text x="231" y="382.1" font-size="11" textLength="67" lengthAdjust="spacingAndGlyphs" fill="#231f20" >Ngn3 high EP</text>
<rect x="311" y="373.6" width="10.3" height="10.3" fill="#ff7f00" stroke="none" stroke-width="1" />
<text x="326.4" y="382.1" font-size="11" textLength="70.2" lengthAdjust="spacingAndGlyphs" fill="#231f20" >Pre-endocrine</text>
<rect x="409" y="373.6" width="10.3" height="10.3" fill="#1f78b4" stroke="none" stroke-width="1" />
<text x="424.4" y="382.1" font-size="11" textLength="28.6" lengthAdjust="spacingAndGlyphs" fill="#231f20" >Alpha</text>
<rect x="472" y="373.6" width="10.3" height="10.3" fill="#b2df8a" stroke="none" stroke-width="1" />
<text x="487" y="382.1" font-size="11" textLength="21" lengthAdjust="spacingAndGlyphs" fill="#231f20" >Beta</text>
<rect x="528" y="373.6" width="10.3" height="10.3" fill="#6a3d9a" stroke="none" stroke-width="1" />
<text x="543" y="382.1" font-size="11" textLength="25.4" lengthAdjust="spacingAndGlyphs" fill="#231f20" >Delta</text>
<rect x="588" y="373.6" width="10.3" height="10.3" fill="#cab2d6" stroke="none" stroke-width="1" />
<text x="602.4" y="382.1" font-size="11" textLength="36.6" lengthAdjust="spacingAndGlyphs" fill="#231f20" >Epsilon</text>
</svg></body></html>
